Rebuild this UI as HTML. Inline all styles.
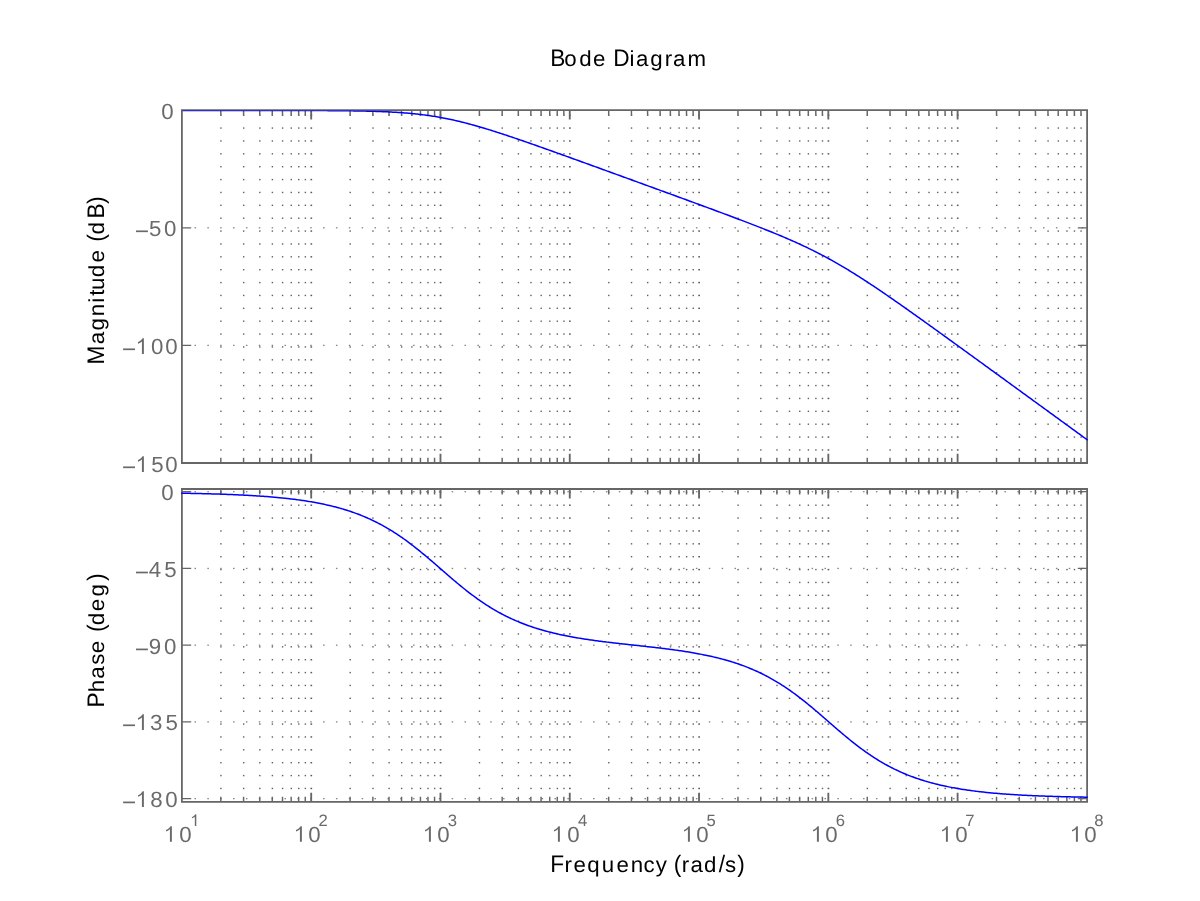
<!DOCTYPE html>
<html><head><meta charset="utf-8"><title>Bode Diagram</title>
<style>html,body{margin:0;padding:0;background:#fff;width:1200px;height:901px;overflow:hidden;font-family:"Liberation Sans",sans-serif}</style>
</head><body>
<svg width="1200" height="901" viewBox="0 0 1200 901" style="position:absolute;left:0;top:0;display:block"><rect x="0" y="0" width="1200" height="901" fill="#ffffff"/><defs><clipPath id="c1"><rect x="182.5" y="110.5" width="905.5" height="353"/></clipPath></defs><g fill="#606060"><rect x="220.22" y="114.50" width="1.4" height="1.4"/><rect x="220.22" y="127.37" width="1.4" height="1.4"/><rect x="220.22" y="140.25" width="1.4" height="1.4"/><rect x="220.22" y="153.12" width="1.4" height="1.4"/><rect x="220.22" y="166.00" width="1.4" height="1.4"/><rect x="220.22" y="178.88" width="1.4" height="1.4"/><rect x="220.22" y="191.75" width="1.4" height="1.4"/><rect x="220.22" y="204.62" width="1.4" height="1.4"/><rect x="220.22" y="217.50" width="1.4" height="1.4"/><rect x="220.22" y="230.38" width="1.4" height="1.4"/><rect x="220.22" y="243.25" width="1.4" height="1.4"/><rect x="220.22" y="256.12" width="1.4" height="1.4"/><rect x="220.22" y="269.00" width="1.4" height="1.4"/><rect x="220.22" y="281.88" width="1.4" height="1.4"/><rect x="220.22" y="294.75" width="1.4" height="1.4"/><rect x="220.22" y="307.62" width="1.4" height="1.4"/><rect x="220.22" y="320.50" width="1.4" height="1.4"/><rect x="220.22" y="333.38" width="1.4" height="1.4"/><rect x="220.22" y="346.25" width="1.4" height="1.4"/><rect x="220.22" y="359.12" width="1.4" height="1.4"/><rect x="220.22" y="372.00" width="1.4" height="1.4"/><rect x="220.22" y="384.88" width="1.4" height="1.4"/><rect x="220.22" y="397.75" width="1.4" height="1.4"/><rect x="220.22" y="410.62" width="1.4" height="1.4"/><rect x="220.22" y="423.50" width="1.4" height="1.4"/><rect x="220.22" y="436.38" width="1.4" height="1.4"/><rect x="220.22" y="449.25" width="1.4" height="1.4"/><rect x="242.98" y="114.50" width="1.4" height="1.4"/><rect x="242.98" y="127.37" width="1.4" height="1.4"/><rect x="242.98" y="140.25" width="1.4" height="1.4"/><rect x="242.98" y="153.12" width="1.4" height="1.4"/><rect x="242.98" y="166.00" width="1.4" height="1.4"/><rect x="242.98" y="178.88" width="1.4" height="1.4"/><rect x="242.98" y="191.75" width="1.4" height="1.4"/><rect x="242.98" y="204.62" width="1.4" height="1.4"/><rect x="242.98" y="217.50" width="1.4" height="1.4"/><rect x="242.98" y="230.38" width="1.4" height="1.4"/><rect x="242.98" y="243.25" width="1.4" height="1.4"/><rect x="242.98" y="256.12" width="1.4" height="1.4"/><rect x="242.98" y="269.00" width="1.4" height="1.4"/><rect x="242.98" y="281.88" width="1.4" height="1.4"/><rect x="242.98" y="294.75" width="1.4" height="1.4"/><rect x="242.98" y="307.62" width="1.4" height="1.4"/><rect x="242.98" y="320.50" width="1.4" height="1.4"/><rect x="242.98" y="333.38" width="1.4" height="1.4"/><rect x="242.98" y="346.25" width="1.4" height="1.4"/><rect x="242.98" y="359.12" width="1.4" height="1.4"/><rect x="242.98" y="372.00" width="1.4" height="1.4"/><rect x="242.98" y="384.88" width="1.4" height="1.4"/><rect x="242.98" y="397.75" width="1.4" height="1.4"/><rect x="242.98" y="410.62" width="1.4" height="1.4"/><rect x="242.98" y="423.50" width="1.4" height="1.4"/><rect x="242.98" y="436.38" width="1.4" height="1.4"/><rect x="242.98" y="449.25" width="1.4" height="1.4"/><rect x="259.14" y="114.50" width="1.4" height="1.4"/><rect x="259.14" y="127.37" width="1.4" height="1.4"/><rect x="259.14" y="140.25" width="1.4" height="1.4"/><rect x="259.14" y="153.12" width="1.4" height="1.4"/><rect x="259.14" y="166.00" width="1.4" height="1.4"/><rect x="259.14" y="178.88" width="1.4" height="1.4"/><rect x="259.14" y="191.75" width="1.4" height="1.4"/><rect x="259.14" y="204.62" width="1.4" height="1.4"/><rect x="259.14" y="217.50" width="1.4" height="1.4"/><rect x="259.14" y="230.38" width="1.4" height="1.4"/><rect x="259.14" y="243.25" width="1.4" height="1.4"/><rect x="259.14" y="256.12" width="1.4" height="1.4"/><rect x="259.14" y="269.00" width="1.4" height="1.4"/><rect x="259.14" y="281.88" width="1.4" height="1.4"/><rect x="259.14" y="294.75" width="1.4" height="1.4"/><rect x="259.14" y="307.62" width="1.4" height="1.4"/><rect x="259.14" y="320.50" width="1.4" height="1.4"/><rect x="259.14" y="333.38" width="1.4" height="1.4"/><rect x="259.14" y="346.25" width="1.4" height="1.4"/><rect x="259.14" y="359.12" width="1.4" height="1.4"/><rect x="259.14" y="372.00" width="1.4" height="1.4"/><rect x="259.14" y="384.88" width="1.4" height="1.4"/><rect x="259.14" y="397.75" width="1.4" height="1.4"/><rect x="259.14" y="410.62" width="1.4" height="1.4"/><rect x="259.14" y="423.50" width="1.4" height="1.4"/><rect x="259.14" y="436.38" width="1.4" height="1.4"/><rect x="259.14" y="449.25" width="1.4" height="1.4"/><rect x="271.67" y="114.50" width="1.4" height="1.4"/><rect x="271.67" y="127.37" width="1.4" height="1.4"/><rect x="271.67" y="140.25" width="1.4" height="1.4"/><rect x="271.67" y="153.12" width="1.4" height="1.4"/><rect x="271.67" y="166.00" width="1.4" height="1.4"/><rect x="271.67" y="178.88" width="1.4" height="1.4"/><rect x="271.67" y="191.75" width="1.4" height="1.4"/><rect x="271.67" y="204.62" width="1.4" height="1.4"/><rect x="271.67" y="217.50" width="1.4" height="1.4"/><rect x="271.67" y="230.38" width="1.4" height="1.4"/><rect x="271.67" y="243.25" width="1.4" height="1.4"/><rect x="271.67" y="256.12" width="1.4" height="1.4"/><rect x="271.67" y="269.00" width="1.4" height="1.4"/><rect x="271.67" y="281.88" width="1.4" height="1.4"/><rect x="271.67" y="294.75" width="1.4" height="1.4"/><rect x="271.67" y="307.62" width="1.4" height="1.4"/><rect x="271.67" y="320.50" width="1.4" height="1.4"/><rect x="271.67" y="333.38" width="1.4" height="1.4"/><rect x="271.67" y="346.25" width="1.4" height="1.4"/><rect x="271.67" y="359.12" width="1.4" height="1.4"/><rect x="271.67" y="372.00" width="1.4" height="1.4"/><rect x="271.67" y="384.88" width="1.4" height="1.4"/><rect x="271.67" y="397.75" width="1.4" height="1.4"/><rect x="271.67" y="410.62" width="1.4" height="1.4"/><rect x="271.67" y="423.50" width="1.4" height="1.4"/><rect x="271.67" y="436.38" width="1.4" height="1.4"/><rect x="271.67" y="449.25" width="1.4" height="1.4"/><rect x="281.90" y="114.50" width="1.4" height="1.4"/><rect x="281.90" y="127.37" width="1.4" height="1.4"/><rect x="281.90" y="140.25" width="1.4" height="1.4"/><rect x="281.90" y="153.12" width="1.4" height="1.4"/><rect x="281.90" y="166.00" width="1.4" height="1.4"/><rect x="281.90" y="178.88" width="1.4" height="1.4"/><rect x="281.90" y="191.75" width="1.4" height="1.4"/><rect x="281.90" y="204.62" width="1.4" height="1.4"/><rect x="281.90" y="217.50" width="1.4" height="1.4"/><rect x="281.90" y="230.38" width="1.4" height="1.4"/><rect x="281.90" y="243.25" width="1.4" height="1.4"/><rect x="281.90" y="256.12" width="1.4" height="1.4"/><rect x="281.90" y="269.00" width="1.4" height="1.4"/><rect x="281.90" y="281.88" width="1.4" height="1.4"/><rect x="281.90" y="294.75" width="1.4" height="1.4"/><rect x="281.90" y="307.62" width="1.4" height="1.4"/><rect x="281.90" y="320.50" width="1.4" height="1.4"/><rect x="281.90" y="333.38" width="1.4" height="1.4"/><rect x="281.90" y="346.25" width="1.4" height="1.4"/><rect x="281.90" y="359.12" width="1.4" height="1.4"/><rect x="281.90" y="372.00" width="1.4" height="1.4"/><rect x="281.90" y="384.88" width="1.4" height="1.4"/><rect x="281.90" y="397.75" width="1.4" height="1.4"/><rect x="281.90" y="410.62" width="1.4" height="1.4"/><rect x="281.90" y="423.50" width="1.4" height="1.4"/><rect x="281.90" y="436.38" width="1.4" height="1.4"/><rect x="281.90" y="449.25" width="1.4" height="1.4"/><rect x="290.56" y="114.50" width="1.4" height="1.4"/><rect x="290.56" y="127.37" width="1.4" height="1.4"/><rect x="290.56" y="140.25" width="1.4" height="1.4"/><rect x="290.56" y="153.12" width="1.4" height="1.4"/><rect x="290.56" y="166.00" width="1.4" height="1.4"/><rect x="290.56" y="178.88" width="1.4" height="1.4"/><rect x="290.56" y="191.75" width="1.4" height="1.4"/><rect x="290.56" y="204.62" width="1.4" height="1.4"/><rect x="290.56" y="217.50" width="1.4" height="1.4"/><rect x="290.56" y="230.38" width="1.4" height="1.4"/><rect x="290.56" y="243.25" width="1.4" height="1.4"/><rect x="290.56" y="256.12" width="1.4" height="1.4"/><rect x="290.56" y="269.00" width="1.4" height="1.4"/><rect x="290.56" y="281.88" width="1.4" height="1.4"/><rect x="290.56" y="294.75" width="1.4" height="1.4"/><rect x="290.56" y="307.62" width="1.4" height="1.4"/><rect x="290.56" y="320.50" width="1.4" height="1.4"/><rect x="290.56" y="333.38" width="1.4" height="1.4"/><rect x="290.56" y="346.25" width="1.4" height="1.4"/><rect x="290.56" y="359.12" width="1.4" height="1.4"/><rect x="290.56" y="372.00" width="1.4" height="1.4"/><rect x="290.56" y="384.88" width="1.4" height="1.4"/><rect x="290.56" y="397.75" width="1.4" height="1.4"/><rect x="290.56" y="410.62" width="1.4" height="1.4"/><rect x="290.56" y="423.50" width="1.4" height="1.4"/><rect x="290.56" y="436.38" width="1.4" height="1.4"/><rect x="290.56" y="449.25" width="1.4" height="1.4"/><rect x="298.06" y="114.50" width="1.4" height="1.4"/><rect x="298.06" y="127.37" width="1.4" height="1.4"/><rect x="298.06" y="140.25" width="1.4" height="1.4"/><rect x="298.06" y="153.12" width="1.4" height="1.4"/><rect x="298.06" y="166.00" width="1.4" height="1.4"/><rect x="298.06" y="178.88" width="1.4" height="1.4"/><rect x="298.06" y="191.75" width="1.4" height="1.4"/><rect x="298.06" y="204.62" width="1.4" height="1.4"/><rect x="298.06" y="217.50" width="1.4" height="1.4"/><rect x="298.06" y="230.38" width="1.4" height="1.4"/><rect x="298.06" y="243.25" width="1.4" height="1.4"/><rect x="298.06" y="256.12" width="1.4" height="1.4"/><rect x="298.06" y="269.00" width="1.4" height="1.4"/><rect x="298.06" y="281.88" width="1.4" height="1.4"/><rect x="298.06" y="294.75" width="1.4" height="1.4"/><rect x="298.06" y="307.62" width="1.4" height="1.4"/><rect x="298.06" y="320.50" width="1.4" height="1.4"/><rect x="298.06" y="333.38" width="1.4" height="1.4"/><rect x="298.06" y="346.25" width="1.4" height="1.4"/><rect x="298.06" y="359.12" width="1.4" height="1.4"/><rect x="298.06" y="372.00" width="1.4" height="1.4"/><rect x="298.06" y="384.88" width="1.4" height="1.4"/><rect x="298.06" y="397.75" width="1.4" height="1.4"/><rect x="298.06" y="410.62" width="1.4" height="1.4"/><rect x="298.06" y="423.50" width="1.4" height="1.4"/><rect x="298.06" y="436.38" width="1.4" height="1.4"/><rect x="298.06" y="449.25" width="1.4" height="1.4"/><rect x="304.67" y="114.50" width="1.4" height="1.4"/><rect x="304.67" y="127.37" width="1.4" height="1.4"/><rect x="304.67" y="140.25" width="1.4" height="1.4"/><rect x="304.67" y="153.12" width="1.4" height="1.4"/><rect x="304.67" y="166.00" width="1.4" height="1.4"/><rect x="304.67" y="178.88" width="1.4" height="1.4"/><rect x="304.67" y="191.75" width="1.4" height="1.4"/><rect x="304.67" y="204.62" width="1.4" height="1.4"/><rect x="304.67" y="217.50" width="1.4" height="1.4"/><rect x="304.67" y="230.38" width="1.4" height="1.4"/><rect x="304.67" y="243.25" width="1.4" height="1.4"/><rect x="304.67" y="256.12" width="1.4" height="1.4"/><rect x="304.67" y="269.00" width="1.4" height="1.4"/><rect x="304.67" y="281.88" width="1.4" height="1.4"/><rect x="304.67" y="294.75" width="1.4" height="1.4"/><rect x="304.67" y="307.62" width="1.4" height="1.4"/><rect x="304.67" y="320.50" width="1.4" height="1.4"/><rect x="304.67" y="333.38" width="1.4" height="1.4"/><rect x="304.67" y="346.25" width="1.4" height="1.4"/><rect x="304.67" y="359.12" width="1.4" height="1.4"/><rect x="304.67" y="372.00" width="1.4" height="1.4"/><rect x="304.67" y="384.88" width="1.4" height="1.4"/><rect x="304.67" y="397.75" width="1.4" height="1.4"/><rect x="304.67" y="410.62" width="1.4" height="1.4"/><rect x="304.67" y="423.50" width="1.4" height="1.4"/><rect x="304.67" y="436.38" width="1.4" height="1.4"/><rect x="304.67" y="449.25" width="1.4" height="1.4"/><rect x="310.44" y="114.48" width="1.7" height="1.45" fill="#5a5a5a"/><rect x="310.44" y="127.35" width="1.7" height="1.45" fill="#5a5a5a"/><rect x="310.44" y="140.23" width="1.7" height="1.45" fill="#5a5a5a"/><rect x="310.44" y="153.10" width="1.7" height="1.45" fill="#5a5a5a"/><rect x="310.44" y="165.98" width="1.7" height="1.45" fill="#5a5a5a"/><rect x="310.44" y="178.85" width="1.7" height="1.45" fill="#5a5a5a"/><rect x="310.44" y="191.73" width="1.7" height="1.45" fill="#5a5a5a"/><rect x="310.44" y="204.60" width="1.7" height="1.45" fill="#5a5a5a"/><rect x="310.44" y="217.48" width="1.7" height="1.45" fill="#5a5a5a"/><rect x="310.44" y="230.35" width="1.7" height="1.45" fill="#5a5a5a"/><rect x="310.44" y="243.23" width="1.7" height="1.45" fill="#5a5a5a"/><rect x="310.44" y="256.10" width="1.7" height="1.45" fill="#5a5a5a"/><rect x="310.44" y="268.98" width="1.7" height="1.45" fill="#5a5a5a"/><rect x="310.44" y="281.85" width="1.7" height="1.45" fill="#5a5a5a"/><rect x="310.44" y="294.73" width="1.7" height="1.45" fill="#5a5a5a"/><rect x="310.44" y="307.60" width="1.7" height="1.45" fill="#5a5a5a"/><rect x="310.44" y="320.48" width="1.7" height="1.45" fill="#5a5a5a"/><rect x="310.44" y="333.35" width="1.7" height="1.45" fill="#5a5a5a"/><rect x="310.44" y="346.23" width="1.7" height="1.45" fill="#5a5a5a"/><rect x="310.44" y="359.10" width="1.7" height="1.45" fill="#5a5a5a"/><rect x="310.44" y="371.98" width="1.7" height="1.45" fill="#5a5a5a"/><rect x="310.44" y="384.85" width="1.7" height="1.45" fill="#5a5a5a"/><rect x="310.44" y="397.73" width="1.7" height="1.45" fill="#5a5a5a"/><rect x="310.44" y="410.60" width="1.7" height="1.45" fill="#5a5a5a"/><rect x="310.44" y="423.48" width="1.7" height="1.45" fill="#5a5a5a"/><rect x="310.44" y="436.35" width="1.7" height="1.45" fill="#5a5a5a"/><rect x="310.44" y="449.23" width="1.7" height="1.45" fill="#5a5a5a"/><rect x="349.50" y="114.50" width="1.4" height="1.4"/><rect x="349.50" y="127.37" width="1.4" height="1.4"/><rect x="349.50" y="140.25" width="1.4" height="1.4"/><rect x="349.50" y="153.12" width="1.4" height="1.4"/><rect x="349.50" y="166.00" width="1.4" height="1.4"/><rect x="349.50" y="178.88" width="1.4" height="1.4"/><rect x="349.50" y="191.75" width="1.4" height="1.4"/><rect x="349.50" y="204.62" width="1.4" height="1.4"/><rect x="349.50" y="217.50" width="1.4" height="1.4"/><rect x="349.50" y="230.38" width="1.4" height="1.4"/><rect x="349.50" y="243.25" width="1.4" height="1.4"/><rect x="349.50" y="256.12" width="1.4" height="1.4"/><rect x="349.50" y="269.00" width="1.4" height="1.4"/><rect x="349.50" y="281.88" width="1.4" height="1.4"/><rect x="349.50" y="294.75" width="1.4" height="1.4"/><rect x="349.50" y="307.62" width="1.4" height="1.4"/><rect x="349.50" y="320.50" width="1.4" height="1.4"/><rect x="349.50" y="333.38" width="1.4" height="1.4"/><rect x="349.50" y="346.25" width="1.4" height="1.4"/><rect x="349.50" y="359.12" width="1.4" height="1.4"/><rect x="349.50" y="372.00" width="1.4" height="1.4"/><rect x="349.50" y="384.88" width="1.4" height="1.4"/><rect x="349.50" y="397.75" width="1.4" height="1.4"/><rect x="349.50" y="410.62" width="1.4" height="1.4"/><rect x="349.50" y="423.50" width="1.4" height="1.4"/><rect x="349.50" y="436.38" width="1.4" height="1.4"/><rect x="349.50" y="449.25" width="1.4" height="1.4"/><rect x="372.27" y="114.50" width="1.4" height="1.4"/><rect x="372.27" y="127.37" width="1.4" height="1.4"/><rect x="372.27" y="140.25" width="1.4" height="1.4"/><rect x="372.27" y="153.12" width="1.4" height="1.4"/><rect x="372.27" y="166.00" width="1.4" height="1.4"/><rect x="372.27" y="178.88" width="1.4" height="1.4"/><rect x="372.27" y="191.75" width="1.4" height="1.4"/><rect x="372.27" y="204.62" width="1.4" height="1.4"/><rect x="372.27" y="217.50" width="1.4" height="1.4"/><rect x="372.27" y="230.38" width="1.4" height="1.4"/><rect x="372.27" y="243.25" width="1.4" height="1.4"/><rect x="372.27" y="256.12" width="1.4" height="1.4"/><rect x="372.27" y="269.00" width="1.4" height="1.4"/><rect x="372.27" y="281.88" width="1.4" height="1.4"/><rect x="372.27" y="294.75" width="1.4" height="1.4"/><rect x="372.27" y="307.62" width="1.4" height="1.4"/><rect x="372.27" y="320.50" width="1.4" height="1.4"/><rect x="372.27" y="333.38" width="1.4" height="1.4"/><rect x="372.27" y="346.25" width="1.4" height="1.4"/><rect x="372.27" y="359.12" width="1.4" height="1.4"/><rect x="372.27" y="372.00" width="1.4" height="1.4"/><rect x="372.27" y="384.88" width="1.4" height="1.4"/><rect x="372.27" y="397.75" width="1.4" height="1.4"/><rect x="372.27" y="410.62" width="1.4" height="1.4"/><rect x="372.27" y="423.50" width="1.4" height="1.4"/><rect x="372.27" y="436.38" width="1.4" height="1.4"/><rect x="372.27" y="449.25" width="1.4" height="1.4"/><rect x="388.42" y="114.50" width="1.4" height="1.4"/><rect x="388.42" y="127.37" width="1.4" height="1.4"/><rect x="388.42" y="140.25" width="1.4" height="1.4"/><rect x="388.42" y="153.12" width="1.4" height="1.4"/><rect x="388.42" y="166.00" width="1.4" height="1.4"/><rect x="388.42" y="178.88" width="1.4" height="1.4"/><rect x="388.42" y="191.75" width="1.4" height="1.4"/><rect x="388.42" y="204.62" width="1.4" height="1.4"/><rect x="388.42" y="217.50" width="1.4" height="1.4"/><rect x="388.42" y="230.38" width="1.4" height="1.4"/><rect x="388.42" y="243.25" width="1.4" height="1.4"/><rect x="388.42" y="256.12" width="1.4" height="1.4"/><rect x="388.42" y="269.00" width="1.4" height="1.4"/><rect x="388.42" y="281.88" width="1.4" height="1.4"/><rect x="388.42" y="294.75" width="1.4" height="1.4"/><rect x="388.42" y="307.62" width="1.4" height="1.4"/><rect x="388.42" y="320.50" width="1.4" height="1.4"/><rect x="388.42" y="333.38" width="1.4" height="1.4"/><rect x="388.42" y="346.25" width="1.4" height="1.4"/><rect x="388.42" y="359.12" width="1.4" height="1.4"/><rect x="388.42" y="372.00" width="1.4" height="1.4"/><rect x="388.42" y="384.88" width="1.4" height="1.4"/><rect x="388.42" y="397.75" width="1.4" height="1.4"/><rect x="388.42" y="410.62" width="1.4" height="1.4"/><rect x="388.42" y="423.50" width="1.4" height="1.4"/><rect x="388.42" y="436.38" width="1.4" height="1.4"/><rect x="388.42" y="449.25" width="1.4" height="1.4"/><rect x="400.95" y="114.50" width="1.4" height="1.4"/><rect x="400.95" y="127.37" width="1.4" height="1.4"/><rect x="400.95" y="140.25" width="1.4" height="1.4"/><rect x="400.95" y="153.12" width="1.4" height="1.4"/><rect x="400.95" y="166.00" width="1.4" height="1.4"/><rect x="400.95" y="178.88" width="1.4" height="1.4"/><rect x="400.95" y="191.75" width="1.4" height="1.4"/><rect x="400.95" y="204.62" width="1.4" height="1.4"/><rect x="400.95" y="217.50" width="1.4" height="1.4"/><rect x="400.95" y="230.38" width="1.4" height="1.4"/><rect x="400.95" y="243.25" width="1.4" height="1.4"/><rect x="400.95" y="256.12" width="1.4" height="1.4"/><rect x="400.95" y="269.00" width="1.4" height="1.4"/><rect x="400.95" y="281.88" width="1.4" height="1.4"/><rect x="400.95" y="294.75" width="1.4" height="1.4"/><rect x="400.95" y="307.62" width="1.4" height="1.4"/><rect x="400.95" y="320.50" width="1.4" height="1.4"/><rect x="400.95" y="333.38" width="1.4" height="1.4"/><rect x="400.95" y="346.25" width="1.4" height="1.4"/><rect x="400.95" y="359.12" width="1.4" height="1.4"/><rect x="400.95" y="372.00" width="1.4" height="1.4"/><rect x="400.95" y="384.88" width="1.4" height="1.4"/><rect x="400.95" y="397.75" width="1.4" height="1.4"/><rect x="400.95" y="410.62" width="1.4" height="1.4"/><rect x="400.95" y="423.50" width="1.4" height="1.4"/><rect x="400.95" y="436.38" width="1.4" height="1.4"/><rect x="400.95" y="449.25" width="1.4" height="1.4"/><rect x="411.19" y="114.50" width="1.4" height="1.4"/><rect x="411.19" y="127.37" width="1.4" height="1.4"/><rect x="411.19" y="140.25" width="1.4" height="1.4"/><rect x="411.19" y="153.12" width="1.4" height="1.4"/><rect x="411.19" y="166.00" width="1.4" height="1.4"/><rect x="411.19" y="178.88" width="1.4" height="1.4"/><rect x="411.19" y="191.75" width="1.4" height="1.4"/><rect x="411.19" y="204.62" width="1.4" height="1.4"/><rect x="411.19" y="217.50" width="1.4" height="1.4"/><rect x="411.19" y="230.38" width="1.4" height="1.4"/><rect x="411.19" y="243.25" width="1.4" height="1.4"/><rect x="411.19" y="256.12" width="1.4" height="1.4"/><rect x="411.19" y="269.00" width="1.4" height="1.4"/><rect x="411.19" y="281.88" width="1.4" height="1.4"/><rect x="411.19" y="294.75" width="1.4" height="1.4"/><rect x="411.19" y="307.62" width="1.4" height="1.4"/><rect x="411.19" y="320.50" width="1.4" height="1.4"/><rect x="411.19" y="333.38" width="1.4" height="1.4"/><rect x="411.19" y="346.25" width="1.4" height="1.4"/><rect x="411.19" y="359.12" width="1.4" height="1.4"/><rect x="411.19" y="372.00" width="1.4" height="1.4"/><rect x="411.19" y="384.88" width="1.4" height="1.4"/><rect x="411.19" y="397.75" width="1.4" height="1.4"/><rect x="411.19" y="410.62" width="1.4" height="1.4"/><rect x="411.19" y="423.50" width="1.4" height="1.4"/><rect x="411.19" y="436.38" width="1.4" height="1.4"/><rect x="411.19" y="449.25" width="1.4" height="1.4"/><rect x="419.84" y="114.50" width="1.4" height="1.4"/><rect x="419.84" y="127.37" width="1.4" height="1.4"/><rect x="419.84" y="140.25" width="1.4" height="1.4"/><rect x="419.84" y="153.12" width="1.4" height="1.4"/><rect x="419.84" y="166.00" width="1.4" height="1.4"/><rect x="419.84" y="178.88" width="1.4" height="1.4"/><rect x="419.84" y="191.75" width="1.4" height="1.4"/><rect x="419.84" y="204.62" width="1.4" height="1.4"/><rect x="419.84" y="217.50" width="1.4" height="1.4"/><rect x="419.84" y="230.38" width="1.4" height="1.4"/><rect x="419.84" y="243.25" width="1.4" height="1.4"/><rect x="419.84" y="256.12" width="1.4" height="1.4"/><rect x="419.84" y="269.00" width="1.4" height="1.4"/><rect x="419.84" y="281.88" width="1.4" height="1.4"/><rect x="419.84" y="294.75" width="1.4" height="1.4"/><rect x="419.84" y="307.62" width="1.4" height="1.4"/><rect x="419.84" y="320.50" width="1.4" height="1.4"/><rect x="419.84" y="333.38" width="1.4" height="1.4"/><rect x="419.84" y="346.25" width="1.4" height="1.4"/><rect x="419.84" y="359.12" width="1.4" height="1.4"/><rect x="419.84" y="372.00" width="1.4" height="1.4"/><rect x="419.84" y="384.88" width="1.4" height="1.4"/><rect x="419.84" y="397.75" width="1.4" height="1.4"/><rect x="419.84" y="410.62" width="1.4" height="1.4"/><rect x="419.84" y="423.50" width="1.4" height="1.4"/><rect x="419.84" y="436.38" width="1.4" height="1.4"/><rect x="419.84" y="449.25" width="1.4" height="1.4"/><rect x="427.34" y="114.50" width="1.4" height="1.4"/><rect x="427.34" y="127.37" width="1.4" height="1.4"/><rect x="427.34" y="140.25" width="1.4" height="1.4"/><rect x="427.34" y="153.12" width="1.4" height="1.4"/><rect x="427.34" y="166.00" width="1.4" height="1.4"/><rect x="427.34" y="178.88" width="1.4" height="1.4"/><rect x="427.34" y="191.75" width="1.4" height="1.4"/><rect x="427.34" y="204.62" width="1.4" height="1.4"/><rect x="427.34" y="217.50" width="1.4" height="1.4"/><rect x="427.34" y="230.38" width="1.4" height="1.4"/><rect x="427.34" y="243.25" width="1.4" height="1.4"/><rect x="427.34" y="256.12" width="1.4" height="1.4"/><rect x="427.34" y="269.00" width="1.4" height="1.4"/><rect x="427.34" y="281.88" width="1.4" height="1.4"/><rect x="427.34" y="294.75" width="1.4" height="1.4"/><rect x="427.34" y="307.62" width="1.4" height="1.4"/><rect x="427.34" y="320.50" width="1.4" height="1.4"/><rect x="427.34" y="333.38" width="1.4" height="1.4"/><rect x="427.34" y="346.25" width="1.4" height="1.4"/><rect x="427.34" y="359.12" width="1.4" height="1.4"/><rect x="427.34" y="372.00" width="1.4" height="1.4"/><rect x="427.34" y="384.88" width="1.4" height="1.4"/><rect x="427.34" y="397.75" width="1.4" height="1.4"/><rect x="427.34" y="410.62" width="1.4" height="1.4"/><rect x="427.34" y="423.50" width="1.4" height="1.4"/><rect x="427.34" y="436.38" width="1.4" height="1.4"/><rect x="427.34" y="449.25" width="1.4" height="1.4"/><rect x="433.96" y="114.50" width="1.4" height="1.4"/><rect x="433.96" y="127.37" width="1.4" height="1.4"/><rect x="433.96" y="140.25" width="1.4" height="1.4"/><rect x="433.96" y="153.12" width="1.4" height="1.4"/><rect x="433.96" y="166.00" width="1.4" height="1.4"/><rect x="433.96" y="178.88" width="1.4" height="1.4"/><rect x="433.96" y="191.75" width="1.4" height="1.4"/><rect x="433.96" y="204.62" width="1.4" height="1.4"/><rect x="433.96" y="217.50" width="1.4" height="1.4"/><rect x="433.96" y="230.38" width="1.4" height="1.4"/><rect x="433.96" y="243.25" width="1.4" height="1.4"/><rect x="433.96" y="256.12" width="1.4" height="1.4"/><rect x="433.96" y="269.00" width="1.4" height="1.4"/><rect x="433.96" y="281.88" width="1.4" height="1.4"/><rect x="433.96" y="294.75" width="1.4" height="1.4"/><rect x="433.96" y="307.62" width="1.4" height="1.4"/><rect x="433.96" y="320.50" width="1.4" height="1.4"/><rect x="433.96" y="333.38" width="1.4" height="1.4"/><rect x="433.96" y="346.25" width="1.4" height="1.4"/><rect x="433.96" y="359.12" width="1.4" height="1.4"/><rect x="433.96" y="372.00" width="1.4" height="1.4"/><rect x="433.96" y="384.88" width="1.4" height="1.4"/><rect x="433.96" y="397.75" width="1.4" height="1.4"/><rect x="433.96" y="410.62" width="1.4" height="1.4"/><rect x="433.96" y="423.50" width="1.4" height="1.4"/><rect x="433.96" y="436.38" width="1.4" height="1.4"/><rect x="433.96" y="449.25" width="1.4" height="1.4"/><rect x="439.72" y="114.48" width="1.7" height="1.45" fill="#5a5a5a"/><rect x="439.72" y="127.35" width="1.7" height="1.45" fill="#5a5a5a"/><rect x="439.72" y="140.23" width="1.7" height="1.45" fill="#5a5a5a"/><rect x="439.72" y="153.10" width="1.7" height="1.45" fill="#5a5a5a"/><rect x="439.72" y="165.98" width="1.7" height="1.45" fill="#5a5a5a"/><rect x="439.72" y="178.85" width="1.7" height="1.45" fill="#5a5a5a"/><rect x="439.72" y="191.73" width="1.7" height="1.45" fill="#5a5a5a"/><rect x="439.72" y="204.60" width="1.7" height="1.45" fill="#5a5a5a"/><rect x="439.72" y="217.48" width="1.7" height="1.45" fill="#5a5a5a"/><rect x="439.72" y="230.35" width="1.7" height="1.45" fill="#5a5a5a"/><rect x="439.72" y="243.23" width="1.7" height="1.45" fill="#5a5a5a"/><rect x="439.72" y="256.10" width="1.7" height="1.45" fill="#5a5a5a"/><rect x="439.72" y="268.98" width="1.7" height="1.45" fill="#5a5a5a"/><rect x="439.72" y="281.85" width="1.7" height="1.45" fill="#5a5a5a"/><rect x="439.72" y="294.73" width="1.7" height="1.45" fill="#5a5a5a"/><rect x="439.72" y="307.60" width="1.7" height="1.45" fill="#5a5a5a"/><rect x="439.72" y="320.48" width="1.7" height="1.45" fill="#5a5a5a"/><rect x="439.72" y="333.35" width="1.7" height="1.45" fill="#5a5a5a"/><rect x="439.72" y="346.23" width="1.7" height="1.45" fill="#5a5a5a"/><rect x="439.72" y="359.10" width="1.7" height="1.45" fill="#5a5a5a"/><rect x="439.72" y="371.98" width="1.7" height="1.45" fill="#5a5a5a"/><rect x="439.72" y="384.85" width="1.7" height="1.45" fill="#5a5a5a"/><rect x="439.72" y="397.73" width="1.7" height="1.45" fill="#5a5a5a"/><rect x="439.72" y="410.60" width="1.7" height="1.45" fill="#5a5a5a"/><rect x="439.72" y="423.48" width="1.7" height="1.45" fill="#5a5a5a"/><rect x="439.72" y="436.35" width="1.7" height="1.45" fill="#5a5a5a"/><rect x="439.72" y="449.23" width="1.7" height="1.45" fill="#5a5a5a"/><rect x="478.79" y="114.50" width="1.4" height="1.4"/><rect x="478.79" y="127.37" width="1.4" height="1.4"/><rect x="478.79" y="140.25" width="1.4" height="1.4"/><rect x="478.79" y="153.12" width="1.4" height="1.4"/><rect x="478.79" y="166.00" width="1.4" height="1.4"/><rect x="478.79" y="178.88" width="1.4" height="1.4"/><rect x="478.79" y="191.75" width="1.4" height="1.4"/><rect x="478.79" y="204.62" width="1.4" height="1.4"/><rect x="478.79" y="217.50" width="1.4" height="1.4"/><rect x="478.79" y="230.38" width="1.4" height="1.4"/><rect x="478.79" y="243.25" width="1.4" height="1.4"/><rect x="478.79" y="256.12" width="1.4" height="1.4"/><rect x="478.79" y="269.00" width="1.4" height="1.4"/><rect x="478.79" y="281.88" width="1.4" height="1.4"/><rect x="478.79" y="294.75" width="1.4" height="1.4"/><rect x="478.79" y="307.62" width="1.4" height="1.4"/><rect x="478.79" y="320.50" width="1.4" height="1.4"/><rect x="478.79" y="333.38" width="1.4" height="1.4"/><rect x="478.79" y="346.25" width="1.4" height="1.4"/><rect x="478.79" y="359.12" width="1.4" height="1.4"/><rect x="478.79" y="372.00" width="1.4" height="1.4"/><rect x="478.79" y="384.88" width="1.4" height="1.4"/><rect x="478.79" y="397.75" width="1.4" height="1.4"/><rect x="478.79" y="410.62" width="1.4" height="1.4"/><rect x="478.79" y="423.50" width="1.4" height="1.4"/><rect x="478.79" y="436.38" width="1.4" height="1.4"/><rect x="478.79" y="449.25" width="1.4" height="1.4"/><rect x="501.56" y="114.50" width="1.4" height="1.4"/><rect x="501.56" y="127.37" width="1.4" height="1.4"/><rect x="501.56" y="140.25" width="1.4" height="1.4"/><rect x="501.56" y="153.12" width="1.4" height="1.4"/><rect x="501.56" y="166.00" width="1.4" height="1.4"/><rect x="501.56" y="178.88" width="1.4" height="1.4"/><rect x="501.56" y="191.75" width="1.4" height="1.4"/><rect x="501.56" y="204.62" width="1.4" height="1.4"/><rect x="501.56" y="217.50" width="1.4" height="1.4"/><rect x="501.56" y="230.38" width="1.4" height="1.4"/><rect x="501.56" y="243.25" width="1.4" height="1.4"/><rect x="501.56" y="256.12" width="1.4" height="1.4"/><rect x="501.56" y="269.00" width="1.4" height="1.4"/><rect x="501.56" y="281.88" width="1.4" height="1.4"/><rect x="501.56" y="294.75" width="1.4" height="1.4"/><rect x="501.56" y="307.62" width="1.4" height="1.4"/><rect x="501.56" y="320.50" width="1.4" height="1.4"/><rect x="501.56" y="333.38" width="1.4" height="1.4"/><rect x="501.56" y="346.25" width="1.4" height="1.4"/><rect x="501.56" y="359.12" width="1.4" height="1.4"/><rect x="501.56" y="372.00" width="1.4" height="1.4"/><rect x="501.56" y="384.88" width="1.4" height="1.4"/><rect x="501.56" y="397.75" width="1.4" height="1.4"/><rect x="501.56" y="410.62" width="1.4" height="1.4"/><rect x="501.56" y="423.50" width="1.4" height="1.4"/><rect x="501.56" y="436.38" width="1.4" height="1.4"/><rect x="501.56" y="449.25" width="1.4" height="1.4"/><rect x="517.71" y="114.50" width="1.4" height="1.4"/><rect x="517.71" y="127.37" width="1.4" height="1.4"/><rect x="517.71" y="140.25" width="1.4" height="1.4"/><rect x="517.71" y="153.12" width="1.4" height="1.4"/><rect x="517.71" y="166.00" width="1.4" height="1.4"/><rect x="517.71" y="178.88" width="1.4" height="1.4"/><rect x="517.71" y="191.75" width="1.4" height="1.4"/><rect x="517.71" y="204.62" width="1.4" height="1.4"/><rect x="517.71" y="217.50" width="1.4" height="1.4"/><rect x="517.71" y="230.38" width="1.4" height="1.4"/><rect x="517.71" y="243.25" width="1.4" height="1.4"/><rect x="517.71" y="256.12" width="1.4" height="1.4"/><rect x="517.71" y="269.00" width="1.4" height="1.4"/><rect x="517.71" y="281.88" width="1.4" height="1.4"/><rect x="517.71" y="294.75" width="1.4" height="1.4"/><rect x="517.71" y="307.62" width="1.4" height="1.4"/><rect x="517.71" y="320.50" width="1.4" height="1.4"/><rect x="517.71" y="333.38" width="1.4" height="1.4"/><rect x="517.71" y="346.25" width="1.4" height="1.4"/><rect x="517.71" y="359.12" width="1.4" height="1.4"/><rect x="517.71" y="372.00" width="1.4" height="1.4"/><rect x="517.71" y="384.88" width="1.4" height="1.4"/><rect x="517.71" y="397.75" width="1.4" height="1.4"/><rect x="517.71" y="410.62" width="1.4" height="1.4"/><rect x="517.71" y="423.50" width="1.4" height="1.4"/><rect x="517.71" y="436.38" width="1.4" height="1.4"/><rect x="517.71" y="449.25" width="1.4" height="1.4"/><rect x="530.24" y="114.50" width="1.4" height="1.4"/><rect x="530.24" y="127.37" width="1.4" height="1.4"/><rect x="530.24" y="140.25" width="1.4" height="1.4"/><rect x="530.24" y="153.12" width="1.4" height="1.4"/><rect x="530.24" y="166.00" width="1.4" height="1.4"/><rect x="530.24" y="178.88" width="1.4" height="1.4"/><rect x="530.24" y="191.75" width="1.4" height="1.4"/><rect x="530.24" y="204.62" width="1.4" height="1.4"/><rect x="530.24" y="217.50" width="1.4" height="1.4"/><rect x="530.24" y="230.38" width="1.4" height="1.4"/><rect x="530.24" y="243.25" width="1.4" height="1.4"/><rect x="530.24" y="256.12" width="1.4" height="1.4"/><rect x="530.24" y="269.00" width="1.4" height="1.4"/><rect x="530.24" y="281.88" width="1.4" height="1.4"/><rect x="530.24" y="294.75" width="1.4" height="1.4"/><rect x="530.24" y="307.62" width="1.4" height="1.4"/><rect x="530.24" y="320.50" width="1.4" height="1.4"/><rect x="530.24" y="333.38" width="1.4" height="1.4"/><rect x="530.24" y="346.25" width="1.4" height="1.4"/><rect x="530.24" y="359.12" width="1.4" height="1.4"/><rect x="530.24" y="372.00" width="1.4" height="1.4"/><rect x="530.24" y="384.88" width="1.4" height="1.4"/><rect x="530.24" y="397.75" width="1.4" height="1.4"/><rect x="530.24" y="410.62" width="1.4" height="1.4"/><rect x="530.24" y="423.50" width="1.4" height="1.4"/><rect x="530.24" y="436.38" width="1.4" height="1.4"/><rect x="530.24" y="449.25" width="1.4" height="1.4"/><rect x="540.48" y="114.50" width="1.4" height="1.4"/><rect x="540.48" y="127.37" width="1.4" height="1.4"/><rect x="540.48" y="140.25" width="1.4" height="1.4"/><rect x="540.48" y="153.12" width="1.4" height="1.4"/><rect x="540.48" y="166.00" width="1.4" height="1.4"/><rect x="540.48" y="178.88" width="1.4" height="1.4"/><rect x="540.48" y="191.75" width="1.4" height="1.4"/><rect x="540.48" y="204.62" width="1.4" height="1.4"/><rect x="540.48" y="217.50" width="1.4" height="1.4"/><rect x="540.48" y="230.38" width="1.4" height="1.4"/><rect x="540.48" y="243.25" width="1.4" height="1.4"/><rect x="540.48" y="256.12" width="1.4" height="1.4"/><rect x="540.48" y="269.00" width="1.4" height="1.4"/><rect x="540.48" y="281.88" width="1.4" height="1.4"/><rect x="540.48" y="294.75" width="1.4" height="1.4"/><rect x="540.48" y="307.62" width="1.4" height="1.4"/><rect x="540.48" y="320.50" width="1.4" height="1.4"/><rect x="540.48" y="333.38" width="1.4" height="1.4"/><rect x="540.48" y="346.25" width="1.4" height="1.4"/><rect x="540.48" y="359.12" width="1.4" height="1.4"/><rect x="540.48" y="372.00" width="1.4" height="1.4"/><rect x="540.48" y="384.88" width="1.4" height="1.4"/><rect x="540.48" y="397.75" width="1.4" height="1.4"/><rect x="540.48" y="410.62" width="1.4" height="1.4"/><rect x="540.48" y="423.50" width="1.4" height="1.4"/><rect x="540.48" y="436.38" width="1.4" height="1.4"/><rect x="540.48" y="449.25" width="1.4" height="1.4"/><rect x="549.13" y="114.50" width="1.4" height="1.4"/><rect x="549.13" y="127.37" width="1.4" height="1.4"/><rect x="549.13" y="140.25" width="1.4" height="1.4"/><rect x="549.13" y="153.12" width="1.4" height="1.4"/><rect x="549.13" y="166.00" width="1.4" height="1.4"/><rect x="549.13" y="178.88" width="1.4" height="1.4"/><rect x="549.13" y="191.75" width="1.4" height="1.4"/><rect x="549.13" y="204.62" width="1.4" height="1.4"/><rect x="549.13" y="217.50" width="1.4" height="1.4"/><rect x="549.13" y="230.38" width="1.4" height="1.4"/><rect x="549.13" y="243.25" width="1.4" height="1.4"/><rect x="549.13" y="256.12" width="1.4" height="1.4"/><rect x="549.13" y="269.00" width="1.4" height="1.4"/><rect x="549.13" y="281.88" width="1.4" height="1.4"/><rect x="549.13" y="294.75" width="1.4" height="1.4"/><rect x="549.13" y="307.62" width="1.4" height="1.4"/><rect x="549.13" y="320.50" width="1.4" height="1.4"/><rect x="549.13" y="333.38" width="1.4" height="1.4"/><rect x="549.13" y="346.25" width="1.4" height="1.4"/><rect x="549.13" y="359.12" width="1.4" height="1.4"/><rect x="549.13" y="372.00" width="1.4" height="1.4"/><rect x="549.13" y="384.88" width="1.4" height="1.4"/><rect x="549.13" y="397.75" width="1.4" height="1.4"/><rect x="549.13" y="410.62" width="1.4" height="1.4"/><rect x="549.13" y="423.50" width="1.4" height="1.4"/><rect x="549.13" y="436.38" width="1.4" height="1.4"/><rect x="549.13" y="449.25" width="1.4" height="1.4"/><rect x="556.63" y="114.50" width="1.4" height="1.4"/><rect x="556.63" y="127.37" width="1.4" height="1.4"/><rect x="556.63" y="140.25" width="1.4" height="1.4"/><rect x="556.63" y="153.12" width="1.4" height="1.4"/><rect x="556.63" y="166.00" width="1.4" height="1.4"/><rect x="556.63" y="178.88" width="1.4" height="1.4"/><rect x="556.63" y="191.75" width="1.4" height="1.4"/><rect x="556.63" y="204.62" width="1.4" height="1.4"/><rect x="556.63" y="217.50" width="1.4" height="1.4"/><rect x="556.63" y="230.38" width="1.4" height="1.4"/><rect x="556.63" y="243.25" width="1.4" height="1.4"/><rect x="556.63" y="256.12" width="1.4" height="1.4"/><rect x="556.63" y="269.00" width="1.4" height="1.4"/><rect x="556.63" y="281.88" width="1.4" height="1.4"/><rect x="556.63" y="294.75" width="1.4" height="1.4"/><rect x="556.63" y="307.62" width="1.4" height="1.4"/><rect x="556.63" y="320.50" width="1.4" height="1.4"/><rect x="556.63" y="333.38" width="1.4" height="1.4"/><rect x="556.63" y="346.25" width="1.4" height="1.4"/><rect x="556.63" y="359.12" width="1.4" height="1.4"/><rect x="556.63" y="372.00" width="1.4" height="1.4"/><rect x="556.63" y="384.88" width="1.4" height="1.4"/><rect x="556.63" y="397.75" width="1.4" height="1.4"/><rect x="556.63" y="410.62" width="1.4" height="1.4"/><rect x="556.63" y="423.50" width="1.4" height="1.4"/><rect x="556.63" y="436.38" width="1.4" height="1.4"/><rect x="556.63" y="449.25" width="1.4" height="1.4"/><rect x="563.24" y="114.50" width="1.4" height="1.4"/><rect x="563.24" y="127.37" width="1.4" height="1.4"/><rect x="563.24" y="140.25" width="1.4" height="1.4"/><rect x="563.24" y="153.12" width="1.4" height="1.4"/><rect x="563.24" y="166.00" width="1.4" height="1.4"/><rect x="563.24" y="178.88" width="1.4" height="1.4"/><rect x="563.24" y="191.75" width="1.4" height="1.4"/><rect x="563.24" y="204.62" width="1.4" height="1.4"/><rect x="563.24" y="217.50" width="1.4" height="1.4"/><rect x="563.24" y="230.38" width="1.4" height="1.4"/><rect x="563.24" y="243.25" width="1.4" height="1.4"/><rect x="563.24" y="256.12" width="1.4" height="1.4"/><rect x="563.24" y="269.00" width="1.4" height="1.4"/><rect x="563.24" y="281.88" width="1.4" height="1.4"/><rect x="563.24" y="294.75" width="1.4" height="1.4"/><rect x="563.24" y="307.62" width="1.4" height="1.4"/><rect x="563.24" y="320.50" width="1.4" height="1.4"/><rect x="563.24" y="333.38" width="1.4" height="1.4"/><rect x="563.24" y="346.25" width="1.4" height="1.4"/><rect x="563.24" y="359.12" width="1.4" height="1.4"/><rect x="563.24" y="372.00" width="1.4" height="1.4"/><rect x="563.24" y="384.88" width="1.4" height="1.4"/><rect x="563.24" y="397.75" width="1.4" height="1.4"/><rect x="563.24" y="410.62" width="1.4" height="1.4"/><rect x="563.24" y="423.50" width="1.4" height="1.4"/><rect x="563.24" y="436.38" width="1.4" height="1.4"/><rect x="563.24" y="449.25" width="1.4" height="1.4"/><rect x="569.01" y="114.48" width="1.7" height="1.45" fill="#5a5a5a"/><rect x="569.01" y="127.35" width="1.7" height="1.45" fill="#5a5a5a"/><rect x="569.01" y="140.23" width="1.7" height="1.45" fill="#5a5a5a"/><rect x="569.01" y="153.10" width="1.7" height="1.45" fill="#5a5a5a"/><rect x="569.01" y="165.98" width="1.7" height="1.45" fill="#5a5a5a"/><rect x="569.01" y="178.85" width="1.7" height="1.45" fill="#5a5a5a"/><rect x="569.01" y="191.73" width="1.7" height="1.45" fill="#5a5a5a"/><rect x="569.01" y="204.60" width="1.7" height="1.45" fill="#5a5a5a"/><rect x="569.01" y="217.48" width="1.7" height="1.45" fill="#5a5a5a"/><rect x="569.01" y="230.35" width="1.7" height="1.45" fill="#5a5a5a"/><rect x="569.01" y="243.23" width="1.7" height="1.45" fill="#5a5a5a"/><rect x="569.01" y="256.10" width="1.7" height="1.45" fill="#5a5a5a"/><rect x="569.01" y="268.98" width="1.7" height="1.45" fill="#5a5a5a"/><rect x="569.01" y="281.85" width="1.7" height="1.45" fill="#5a5a5a"/><rect x="569.01" y="294.73" width="1.7" height="1.45" fill="#5a5a5a"/><rect x="569.01" y="307.60" width="1.7" height="1.45" fill="#5a5a5a"/><rect x="569.01" y="320.48" width="1.7" height="1.45" fill="#5a5a5a"/><rect x="569.01" y="333.35" width="1.7" height="1.45" fill="#5a5a5a"/><rect x="569.01" y="346.23" width="1.7" height="1.45" fill="#5a5a5a"/><rect x="569.01" y="359.10" width="1.7" height="1.45" fill="#5a5a5a"/><rect x="569.01" y="371.98" width="1.7" height="1.45" fill="#5a5a5a"/><rect x="569.01" y="384.85" width="1.7" height="1.45" fill="#5a5a5a"/><rect x="569.01" y="397.73" width="1.7" height="1.45" fill="#5a5a5a"/><rect x="569.01" y="410.60" width="1.7" height="1.45" fill="#5a5a5a"/><rect x="569.01" y="423.48" width="1.7" height="1.45" fill="#5a5a5a"/><rect x="569.01" y="436.35" width="1.7" height="1.45" fill="#5a5a5a"/><rect x="569.01" y="449.23" width="1.7" height="1.45" fill="#5a5a5a"/><rect x="608.08" y="114.50" width="1.4" height="1.4"/><rect x="608.08" y="127.37" width="1.4" height="1.4"/><rect x="608.08" y="140.25" width="1.4" height="1.4"/><rect x="608.08" y="153.12" width="1.4" height="1.4"/><rect x="608.08" y="166.00" width="1.4" height="1.4"/><rect x="608.08" y="178.88" width="1.4" height="1.4"/><rect x="608.08" y="191.75" width="1.4" height="1.4"/><rect x="608.08" y="204.62" width="1.4" height="1.4"/><rect x="608.08" y="217.50" width="1.4" height="1.4"/><rect x="608.08" y="230.38" width="1.4" height="1.4"/><rect x="608.08" y="243.25" width="1.4" height="1.4"/><rect x="608.08" y="256.12" width="1.4" height="1.4"/><rect x="608.08" y="269.00" width="1.4" height="1.4"/><rect x="608.08" y="281.88" width="1.4" height="1.4"/><rect x="608.08" y="294.75" width="1.4" height="1.4"/><rect x="608.08" y="307.62" width="1.4" height="1.4"/><rect x="608.08" y="320.50" width="1.4" height="1.4"/><rect x="608.08" y="333.38" width="1.4" height="1.4"/><rect x="608.08" y="346.25" width="1.4" height="1.4"/><rect x="608.08" y="359.12" width="1.4" height="1.4"/><rect x="608.08" y="372.00" width="1.4" height="1.4"/><rect x="608.08" y="384.88" width="1.4" height="1.4"/><rect x="608.08" y="397.75" width="1.4" height="1.4"/><rect x="608.08" y="410.62" width="1.4" height="1.4"/><rect x="608.08" y="423.50" width="1.4" height="1.4"/><rect x="608.08" y="436.38" width="1.4" height="1.4"/><rect x="608.08" y="449.25" width="1.4" height="1.4"/><rect x="630.84" y="114.50" width="1.4" height="1.4"/><rect x="630.84" y="127.37" width="1.4" height="1.4"/><rect x="630.84" y="140.25" width="1.4" height="1.4"/><rect x="630.84" y="153.12" width="1.4" height="1.4"/><rect x="630.84" y="166.00" width="1.4" height="1.4"/><rect x="630.84" y="178.88" width="1.4" height="1.4"/><rect x="630.84" y="191.75" width="1.4" height="1.4"/><rect x="630.84" y="204.62" width="1.4" height="1.4"/><rect x="630.84" y="217.50" width="1.4" height="1.4"/><rect x="630.84" y="230.38" width="1.4" height="1.4"/><rect x="630.84" y="243.25" width="1.4" height="1.4"/><rect x="630.84" y="256.12" width="1.4" height="1.4"/><rect x="630.84" y="269.00" width="1.4" height="1.4"/><rect x="630.84" y="281.88" width="1.4" height="1.4"/><rect x="630.84" y="294.75" width="1.4" height="1.4"/><rect x="630.84" y="307.62" width="1.4" height="1.4"/><rect x="630.84" y="320.50" width="1.4" height="1.4"/><rect x="630.84" y="333.38" width="1.4" height="1.4"/><rect x="630.84" y="346.25" width="1.4" height="1.4"/><rect x="630.84" y="359.12" width="1.4" height="1.4"/><rect x="630.84" y="372.00" width="1.4" height="1.4"/><rect x="630.84" y="384.88" width="1.4" height="1.4"/><rect x="630.84" y="397.75" width="1.4" height="1.4"/><rect x="630.84" y="410.62" width="1.4" height="1.4"/><rect x="630.84" y="423.50" width="1.4" height="1.4"/><rect x="630.84" y="436.38" width="1.4" height="1.4"/><rect x="630.84" y="449.25" width="1.4" height="1.4"/><rect x="646.99" y="114.50" width="1.4" height="1.4"/><rect x="646.99" y="127.37" width="1.4" height="1.4"/><rect x="646.99" y="140.25" width="1.4" height="1.4"/><rect x="646.99" y="153.12" width="1.4" height="1.4"/><rect x="646.99" y="166.00" width="1.4" height="1.4"/><rect x="646.99" y="178.88" width="1.4" height="1.4"/><rect x="646.99" y="191.75" width="1.4" height="1.4"/><rect x="646.99" y="204.62" width="1.4" height="1.4"/><rect x="646.99" y="217.50" width="1.4" height="1.4"/><rect x="646.99" y="230.38" width="1.4" height="1.4"/><rect x="646.99" y="243.25" width="1.4" height="1.4"/><rect x="646.99" y="256.12" width="1.4" height="1.4"/><rect x="646.99" y="269.00" width="1.4" height="1.4"/><rect x="646.99" y="281.88" width="1.4" height="1.4"/><rect x="646.99" y="294.75" width="1.4" height="1.4"/><rect x="646.99" y="307.62" width="1.4" height="1.4"/><rect x="646.99" y="320.50" width="1.4" height="1.4"/><rect x="646.99" y="333.38" width="1.4" height="1.4"/><rect x="646.99" y="346.25" width="1.4" height="1.4"/><rect x="646.99" y="359.12" width="1.4" height="1.4"/><rect x="646.99" y="372.00" width="1.4" height="1.4"/><rect x="646.99" y="384.88" width="1.4" height="1.4"/><rect x="646.99" y="397.75" width="1.4" height="1.4"/><rect x="646.99" y="410.62" width="1.4" height="1.4"/><rect x="646.99" y="423.50" width="1.4" height="1.4"/><rect x="646.99" y="436.38" width="1.4" height="1.4"/><rect x="646.99" y="449.25" width="1.4" height="1.4"/><rect x="659.52" y="114.50" width="1.4" height="1.4"/><rect x="659.52" y="127.37" width="1.4" height="1.4"/><rect x="659.52" y="140.25" width="1.4" height="1.4"/><rect x="659.52" y="153.12" width="1.4" height="1.4"/><rect x="659.52" y="166.00" width="1.4" height="1.4"/><rect x="659.52" y="178.88" width="1.4" height="1.4"/><rect x="659.52" y="191.75" width="1.4" height="1.4"/><rect x="659.52" y="204.62" width="1.4" height="1.4"/><rect x="659.52" y="217.50" width="1.4" height="1.4"/><rect x="659.52" y="230.38" width="1.4" height="1.4"/><rect x="659.52" y="243.25" width="1.4" height="1.4"/><rect x="659.52" y="256.12" width="1.4" height="1.4"/><rect x="659.52" y="269.00" width="1.4" height="1.4"/><rect x="659.52" y="281.88" width="1.4" height="1.4"/><rect x="659.52" y="294.75" width="1.4" height="1.4"/><rect x="659.52" y="307.62" width="1.4" height="1.4"/><rect x="659.52" y="320.50" width="1.4" height="1.4"/><rect x="659.52" y="333.38" width="1.4" height="1.4"/><rect x="659.52" y="346.25" width="1.4" height="1.4"/><rect x="659.52" y="359.12" width="1.4" height="1.4"/><rect x="659.52" y="372.00" width="1.4" height="1.4"/><rect x="659.52" y="384.88" width="1.4" height="1.4"/><rect x="659.52" y="397.75" width="1.4" height="1.4"/><rect x="659.52" y="410.62" width="1.4" height="1.4"/><rect x="659.52" y="423.50" width="1.4" height="1.4"/><rect x="659.52" y="436.38" width="1.4" height="1.4"/><rect x="659.52" y="449.25" width="1.4" height="1.4"/><rect x="669.76" y="114.50" width="1.4" height="1.4"/><rect x="669.76" y="127.37" width="1.4" height="1.4"/><rect x="669.76" y="140.25" width="1.4" height="1.4"/><rect x="669.76" y="153.12" width="1.4" height="1.4"/><rect x="669.76" y="166.00" width="1.4" height="1.4"/><rect x="669.76" y="178.88" width="1.4" height="1.4"/><rect x="669.76" y="191.75" width="1.4" height="1.4"/><rect x="669.76" y="204.62" width="1.4" height="1.4"/><rect x="669.76" y="217.50" width="1.4" height="1.4"/><rect x="669.76" y="230.38" width="1.4" height="1.4"/><rect x="669.76" y="243.25" width="1.4" height="1.4"/><rect x="669.76" y="256.12" width="1.4" height="1.4"/><rect x="669.76" y="269.00" width="1.4" height="1.4"/><rect x="669.76" y="281.88" width="1.4" height="1.4"/><rect x="669.76" y="294.75" width="1.4" height="1.4"/><rect x="669.76" y="307.62" width="1.4" height="1.4"/><rect x="669.76" y="320.50" width="1.4" height="1.4"/><rect x="669.76" y="333.38" width="1.4" height="1.4"/><rect x="669.76" y="346.25" width="1.4" height="1.4"/><rect x="669.76" y="359.12" width="1.4" height="1.4"/><rect x="669.76" y="372.00" width="1.4" height="1.4"/><rect x="669.76" y="384.88" width="1.4" height="1.4"/><rect x="669.76" y="397.75" width="1.4" height="1.4"/><rect x="669.76" y="410.62" width="1.4" height="1.4"/><rect x="669.76" y="423.50" width="1.4" height="1.4"/><rect x="669.76" y="436.38" width="1.4" height="1.4"/><rect x="669.76" y="449.25" width="1.4" height="1.4"/><rect x="678.42" y="114.50" width="1.4" height="1.4"/><rect x="678.42" y="127.37" width="1.4" height="1.4"/><rect x="678.42" y="140.25" width="1.4" height="1.4"/><rect x="678.42" y="153.12" width="1.4" height="1.4"/><rect x="678.42" y="166.00" width="1.4" height="1.4"/><rect x="678.42" y="178.88" width="1.4" height="1.4"/><rect x="678.42" y="191.75" width="1.4" height="1.4"/><rect x="678.42" y="204.62" width="1.4" height="1.4"/><rect x="678.42" y="217.50" width="1.4" height="1.4"/><rect x="678.42" y="230.38" width="1.4" height="1.4"/><rect x="678.42" y="243.25" width="1.4" height="1.4"/><rect x="678.42" y="256.12" width="1.4" height="1.4"/><rect x="678.42" y="269.00" width="1.4" height="1.4"/><rect x="678.42" y="281.88" width="1.4" height="1.4"/><rect x="678.42" y="294.75" width="1.4" height="1.4"/><rect x="678.42" y="307.62" width="1.4" height="1.4"/><rect x="678.42" y="320.50" width="1.4" height="1.4"/><rect x="678.42" y="333.38" width="1.4" height="1.4"/><rect x="678.42" y="346.25" width="1.4" height="1.4"/><rect x="678.42" y="359.12" width="1.4" height="1.4"/><rect x="678.42" y="372.00" width="1.4" height="1.4"/><rect x="678.42" y="384.88" width="1.4" height="1.4"/><rect x="678.42" y="397.75" width="1.4" height="1.4"/><rect x="678.42" y="410.62" width="1.4" height="1.4"/><rect x="678.42" y="423.50" width="1.4" height="1.4"/><rect x="678.42" y="436.38" width="1.4" height="1.4"/><rect x="678.42" y="449.25" width="1.4" height="1.4"/><rect x="685.91" y="114.50" width="1.4" height="1.4"/><rect x="685.91" y="127.37" width="1.4" height="1.4"/><rect x="685.91" y="140.25" width="1.4" height="1.4"/><rect x="685.91" y="153.12" width="1.4" height="1.4"/><rect x="685.91" y="166.00" width="1.4" height="1.4"/><rect x="685.91" y="178.88" width="1.4" height="1.4"/><rect x="685.91" y="191.75" width="1.4" height="1.4"/><rect x="685.91" y="204.62" width="1.4" height="1.4"/><rect x="685.91" y="217.50" width="1.4" height="1.4"/><rect x="685.91" y="230.38" width="1.4" height="1.4"/><rect x="685.91" y="243.25" width="1.4" height="1.4"/><rect x="685.91" y="256.12" width="1.4" height="1.4"/><rect x="685.91" y="269.00" width="1.4" height="1.4"/><rect x="685.91" y="281.88" width="1.4" height="1.4"/><rect x="685.91" y="294.75" width="1.4" height="1.4"/><rect x="685.91" y="307.62" width="1.4" height="1.4"/><rect x="685.91" y="320.50" width="1.4" height="1.4"/><rect x="685.91" y="333.38" width="1.4" height="1.4"/><rect x="685.91" y="346.25" width="1.4" height="1.4"/><rect x="685.91" y="359.12" width="1.4" height="1.4"/><rect x="685.91" y="372.00" width="1.4" height="1.4"/><rect x="685.91" y="384.88" width="1.4" height="1.4"/><rect x="685.91" y="397.75" width="1.4" height="1.4"/><rect x="685.91" y="410.62" width="1.4" height="1.4"/><rect x="685.91" y="423.50" width="1.4" height="1.4"/><rect x="685.91" y="436.38" width="1.4" height="1.4"/><rect x="685.91" y="449.25" width="1.4" height="1.4"/><rect x="692.53" y="114.50" width="1.4" height="1.4"/><rect x="692.53" y="127.37" width="1.4" height="1.4"/><rect x="692.53" y="140.25" width="1.4" height="1.4"/><rect x="692.53" y="153.12" width="1.4" height="1.4"/><rect x="692.53" y="166.00" width="1.4" height="1.4"/><rect x="692.53" y="178.88" width="1.4" height="1.4"/><rect x="692.53" y="191.75" width="1.4" height="1.4"/><rect x="692.53" y="204.62" width="1.4" height="1.4"/><rect x="692.53" y="217.50" width="1.4" height="1.4"/><rect x="692.53" y="230.38" width="1.4" height="1.4"/><rect x="692.53" y="243.25" width="1.4" height="1.4"/><rect x="692.53" y="256.12" width="1.4" height="1.4"/><rect x="692.53" y="269.00" width="1.4" height="1.4"/><rect x="692.53" y="281.88" width="1.4" height="1.4"/><rect x="692.53" y="294.75" width="1.4" height="1.4"/><rect x="692.53" y="307.62" width="1.4" height="1.4"/><rect x="692.53" y="320.50" width="1.4" height="1.4"/><rect x="692.53" y="333.38" width="1.4" height="1.4"/><rect x="692.53" y="346.25" width="1.4" height="1.4"/><rect x="692.53" y="359.12" width="1.4" height="1.4"/><rect x="692.53" y="372.00" width="1.4" height="1.4"/><rect x="692.53" y="384.88" width="1.4" height="1.4"/><rect x="692.53" y="397.75" width="1.4" height="1.4"/><rect x="692.53" y="410.62" width="1.4" height="1.4"/><rect x="692.53" y="423.50" width="1.4" height="1.4"/><rect x="692.53" y="436.38" width="1.4" height="1.4"/><rect x="692.53" y="449.25" width="1.4" height="1.4"/><rect x="698.29" y="114.48" width="1.7" height="1.45" fill="#5a5a5a"/><rect x="698.29" y="127.35" width="1.7" height="1.45" fill="#5a5a5a"/><rect x="698.29" y="140.23" width="1.7" height="1.45" fill="#5a5a5a"/><rect x="698.29" y="153.10" width="1.7" height="1.45" fill="#5a5a5a"/><rect x="698.29" y="165.98" width="1.7" height="1.45" fill="#5a5a5a"/><rect x="698.29" y="178.85" width="1.7" height="1.45" fill="#5a5a5a"/><rect x="698.29" y="191.73" width="1.7" height="1.45" fill="#5a5a5a"/><rect x="698.29" y="204.60" width="1.7" height="1.45" fill="#5a5a5a"/><rect x="698.29" y="217.48" width="1.7" height="1.45" fill="#5a5a5a"/><rect x="698.29" y="230.35" width="1.7" height="1.45" fill="#5a5a5a"/><rect x="698.29" y="243.23" width="1.7" height="1.45" fill="#5a5a5a"/><rect x="698.29" y="256.10" width="1.7" height="1.45" fill="#5a5a5a"/><rect x="698.29" y="268.98" width="1.7" height="1.45" fill="#5a5a5a"/><rect x="698.29" y="281.85" width="1.7" height="1.45" fill="#5a5a5a"/><rect x="698.29" y="294.73" width="1.7" height="1.45" fill="#5a5a5a"/><rect x="698.29" y="307.60" width="1.7" height="1.45" fill="#5a5a5a"/><rect x="698.29" y="320.48" width="1.7" height="1.45" fill="#5a5a5a"/><rect x="698.29" y="333.35" width="1.7" height="1.45" fill="#5a5a5a"/><rect x="698.29" y="346.23" width="1.7" height="1.45" fill="#5a5a5a"/><rect x="698.29" y="359.10" width="1.7" height="1.45" fill="#5a5a5a"/><rect x="698.29" y="371.98" width="1.7" height="1.45" fill="#5a5a5a"/><rect x="698.29" y="384.85" width="1.7" height="1.45" fill="#5a5a5a"/><rect x="698.29" y="397.73" width="1.7" height="1.45" fill="#5a5a5a"/><rect x="698.29" y="410.60" width="1.7" height="1.45" fill="#5a5a5a"/><rect x="698.29" y="423.48" width="1.7" height="1.45" fill="#5a5a5a"/><rect x="698.29" y="436.35" width="1.7" height="1.45" fill="#5a5a5a"/><rect x="698.29" y="449.23" width="1.7" height="1.45" fill="#5a5a5a"/><rect x="737.36" y="114.50" width="1.4" height="1.4"/><rect x="737.36" y="127.37" width="1.4" height="1.4"/><rect x="737.36" y="140.25" width="1.4" height="1.4"/><rect x="737.36" y="153.12" width="1.4" height="1.4"/><rect x="737.36" y="166.00" width="1.4" height="1.4"/><rect x="737.36" y="178.88" width="1.4" height="1.4"/><rect x="737.36" y="191.75" width="1.4" height="1.4"/><rect x="737.36" y="204.62" width="1.4" height="1.4"/><rect x="737.36" y="217.50" width="1.4" height="1.4"/><rect x="737.36" y="230.38" width="1.4" height="1.4"/><rect x="737.36" y="243.25" width="1.4" height="1.4"/><rect x="737.36" y="256.12" width="1.4" height="1.4"/><rect x="737.36" y="269.00" width="1.4" height="1.4"/><rect x="737.36" y="281.88" width="1.4" height="1.4"/><rect x="737.36" y="294.75" width="1.4" height="1.4"/><rect x="737.36" y="307.62" width="1.4" height="1.4"/><rect x="737.36" y="320.50" width="1.4" height="1.4"/><rect x="737.36" y="333.38" width="1.4" height="1.4"/><rect x="737.36" y="346.25" width="1.4" height="1.4"/><rect x="737.36" y="359.12" width="1.4" height="1.4"/><rect x="737.36" y="372.00" width="1.4" height="1.4"/><rect x="737.36" y="384.88" width="1.4" height="1.4"/><rect x="737.36" y="397.75" width="1.4" height="1.4"/><rect x="737.36" y="410.62" width="1.4" height="1.4"/><rect x="737.36" y="423.50" width="1.4" height="1.4"/><rect x="737.36" y="436.38" width="1.4" height="1.4"/><rect x="737.36" y="449.25" width="1.4" height="1.4"/><rect x="760.13" y="114.50" width="1.4" height="1.4"/><rect x="760.13" y="127.37" width="1.4" height="1.4"/><rect x="760.13" y="140.25" width="1.4" height="1.4"/><rect x="760.13" y="153.12" width="1.4" height="1.4"/><rect x="760.13" y="166.00" width="1.4" height="1.4"/><rect x="760.13" y="178.88" width="1.4" height="1.4"/><rect x="760.13" y="191.75" width="1.4" height="1.4"/><rect x="760.13" y="204.62" width="1.4" height="1.4"/><rect x="760.13" y="217.50" width="1.4" height="1.4"/><rect x="760.13" y="230.38" width="1.4" height="1.4"/><rect x="760.13" y="243.25" width="1.4" height="1.4"/><rect x="760.13" y="256.12" width="1.4" height="1.4"/><rect x="760.13" y="269.00" width="1.4" height="1.4"/><rect x="760.13" y="281.88" width="1.4" height="1.4"/><rect x="760.13" y="294.75" width="1.4" height="1.4"/><rect x="760.13" y="307.62" width="1.4" height="1.4"/><rect x="760.13" y="320.50" width="1.4" height="1.4"/><rect x="760.13" y="333.38" width="1.4" height="1.4"/><rect x="760.13" y="346.25" width="1.4" height="1.4"/><rect x="760.13" y="359.12" width="1.4" height="1.4"/><rect x="760.13" y="372.00" width="1.4" height="1.4"/><rect x="760.13" y="384.88" width="1.4" height="1.4"/><rect x="760.13" y="397.75" width="1.4" height="1.4"/><rect x="760.13" y="410.62" width="1.4" height="1.4"/><rect x="760.13" y="423.50" width="1.4" height="1.4"/><rect x="760.13" y="436.38" width="1.4" height="1.4"/><rect x="760.13" y="449.25" width="1.4" height="1.4"/><rect x="776.28" y="114.50" width="1.4" height="1.4"/><rect x="776.28" y="127.37" width="1.4" height="1.4"/><rect x="776.28" y="140.25" width="1.4" height="1.4"/><rect x="776.28" y="153.12" width="1.4" height="1.4"/><rect x="776.28" y="166.00" width="1.4" height="1.4"/><rect x="776.28" y="178.88" width="1.4" height="1.4"/><rect x="776.28" y="191.75" width="1.4" height="1.4"/><rect x="776.28" y="204.62" width="1.4" height="1.4"/><rect x="776.28" y="217.50" width="1.4" height="1.4"/><rect x="776.28" y="230.38" width="1.4" height="1.4"/><rect x="776.28" y="243.25" width="1.4" height="1.4"/><rect x="776.28" y="256.12" width="1.4" height="1.4"/><rect x="776.28" y="269.00" width="1.4" height="1.4"/><rect x="776.28" y="281.88" width="1.4" height="1.4"/><rect x="776.28" y="294.75" width="1.4" height="1.4"/><rect x="776.28" y="307.62" width="1.4" height="1.4"/><rect x="776.28" y="320.50" width="1.4" height="1.4"/><rect x="776.28" y="333.38" width="1.4" height="1.4"/><rect x="776.28" y="346.25" width="1.4" height="1.4"/><rect x="776.28" y="359.12" width="1.4" height="1.4"/><rect x="776.28" y="372.00" width="1.4" height="1.4"/><rect x="776.28" y="384.88" width="1.4" height="1.4"/><rect x="776.28" y="397.75" width="1.4" height="1.4"/><rect x="776.28" y="410.62" width="1.4" height="1.4"/><rect x="776.28" y="423.50" width="1.4" height="1.4"/><rect x="776.28" y="436.38" width="1.4" height="1.4"/><rect x="776.28" y="449.25" width="1.4" height="1.4"/><rect x="788.81" y="114.50" width="1.4" height="1.4"/><rect x="788.81" y="127.37" width="1.4" height="1.4"/><rect x="788.81" y="140.25" width="1.4" height="1.4"/><rect x="788.81" y="153.12" width="1.4" height="1.4"/><rect x="788.81" y="166.00" width="1.4" height="1.4"/><rect x="788.81" y="178.88" width="1.4" height="1.4"/><rect x="788.81" y="191.75" width="1.4" height="1.4"/><rect x="788.81" y="204.62" width="1.4" height="1.4"/><rect x="788.81" y="217.50" width="1.4" height="1.4"/><rect x="788.81" y="230.38" width="1.4" height="1.4"/><rect x="788.81" y="243.25" width="1.4" height="1.4"/><rect x="788.81" y="256.12" width="1.4" height="1.4"/><rect x="788.81" y="269.00" width="1.4" height="1.4"/><rect x="788.81" y="281.88" width="1.4" height="1.4"/><rect x="788.81" y="294.75" width="1.4" height="1.4"/><rect x="788.81" y="307.62" width="1.4" height="1.4"/><rect x="788.81" y="320.50" width="1.4" height="1.4"/><rect x="788.81" y="333.38" width="1.4" height="1.4"/><rect x="788.81" y="346.25" width="1.4" height="1.4"/><rect x="788.81" y="359.12" width="1.4" height="1.4"/><rect x="788.81" y="372.00" width="1.4" height="1.4"/><rect x="788.81" y="384.88" width="1.4" height="1.4"/><rect x="788.81" y="397.75" width="1.4" height="1.4"/><rect x="788.81" y="410.62" width="1.4" height="1.4"/><rect x="788.81" y="423.50" width="1.4" height="1.4"/><rect x="788.81" y="436.38" width="1.4" height="1.4"/><rect x="788.81" y="449.25" width="1.4" height="1.4"/><rect x="799.05" y="114.50" width="1.4" height="1.4"/><rect x="799.05" y="127.37" width="1.4" height="1.4"/><rect x="799.05" y="140.25" width="1.4" height="1.4"/><rect x="799.05" y="153.12" width="1.4" height="1.4"/><rect x="799.05" y="166.00" width="1.4" height="1.4"/><rect x="799.05" y="178.88" width="1.4" height="1.4"/><rect x="799.05" y="191.75" width="1.4" height="1.4"/><rect x="799.05" y="204.62" width="1.4" height="1.4"/><rect x="799.05" y="217.50" width="1.4" height="1.4"/><rect x="799.05" y="230.38" width="1.4" height="1.4"/><rect x="799.05" y="243.25" width="1.4" height="1.4"/><rect x="799.05" y="256.12" width="1.4" height="1.4"/><rect x="799.05" y="269.00" width="1.4" height="1.4"/><rect x="799.05" y="281.88" width="1.4" height="1.4"/><rect x="799.05" y="294.75" width="1.4" height="1.4"/><rect x="799.05" y="307.62" width="1.4" height="1.4"/><rect x="799.05" y="320.50" width="1.4" height="1.4"/><rect x="799.05" y="333.38" width="1.4" height="1.4"/><rect x="799.05" y="346.25" width="1.4" height="1.4"/><rect x="799.05" y="359.12" width="1.4" height="1.4"/><rect x="799.05" y="372.00" width="1.4" height="1.4"/><rect x="799.05" y="384.88" width="1.4" height="1.4"/><rect x="799.05" y="397.75" width="1.4" height="1.4"/><rect x="799.05" y="410.62" width="1.4" height="1.4"/><rect x="799.05" y="423.50" width="1.4" height="1.4"/><rect x="799.05" y="436.38" width="1.4" height="1.4"/><rect x="799.05" y="449.25" width="1.4" height="1.4"/><rect x="807.70" y="114.50" width="1.4" height="1.4"/><rect x="807.70" y="127.37" width="1.4" height="1.4"/><rect x="807.70" y="140.25" width="1.4" height="1.4"/><rect x="807.70" y="153.12" width="1.4" height="1.4"/><rect x="807.70" y="166.00" width="1.4" height="1.4"/><rect x="807.70" y="178.88" width="1.4" height="1.4"/><rect x="807.70" y="191.75" width="1.4" height="1.4"/><rect x="807.70" y="204.62" width="1.4" height="1.4"/><rect x="807.70" y="217.50" width="1.4" height="1.4"/><rect x="807.70" y="230.38" width="1.4" height="1.4"/><rect x="807.70" y="243.25" width="1.4" height="1.4"/><rect x="807.70" y="256.12" width="1.4" height="1.4"/><rect x="807.70" y="269.00" width="1.4" height="1.4"/><rect x="807.70" y="281.88" width="1.4" height="1.4"/><rect x="807.70" y="294.75" width="1.4" height="1.4"/><rect x="807.70" y="307.62" width="1.4" height="1.4"/><rect x="807.70" y="320.50" width="1.4" height="1.4"/><rect x="807.70" y="333.38" width="1.4" height="1.4"/><rect x="807.70" y="346.25" width="1.4" height="1.4"/><rect x="807.70" y="359.12" width="1.4" height="1.4"/><rect x="807.70" y="372.00" width="1.4" height="1.4"/><rect x="807.70" y="384.88" width="1.4" height="1.4"/><rect x="807.70" y="397.75" width="1.4" height="1.4"/><rect x="807.70" y="410.62" width="1.4" height="1.4"/><rect x="807.70" y="423.50" width="1.4" height="1.4"/><rect x="807.70" y="436.38" width="1.4" height="1.4"/><rect x="807.70" y="449.25" width="1.4" height="1.4"/><rect x="815.20" y="114.50" width="1.4" height="1.4"/><rect x="815.20" y="127.37" width="1.4" height="1.4"/><rect x="815.20" y="140.25" width="1.4" height="1.4"/><rect x="815.20" y="153.12" width="1.4" height="1.4"/><rect x="815.20" y="166.00" width="1.4" height="1.4"/><rect x="815.20" y="178.88" width="1.4" height="1.4"/><rect x="815.20" y="191.75" width="1.4" height="1.4"/><rect x="815.20" y="204.62" width="1.4" height="1.4"/><rect x="815.20" y="217.50" width="1.4" height="1.4"/><rect x="815.20" y="230.38" width="1.4" height="1.4"/><rect x="815.20" y="243.25" width="1.4" height="1.4"/><rect x="815.20" y="256.12" width="1.4" height="1.4"/><rect x="815.20" y="269.00" width="1.4" height="1.4"/><rect x="815.20" y="281.88" width="1.4" height="1.4"/><rect x="815.20" y="294.75" width="1.4" height="1.4"/><rect x="815.20" y="307.62" width="1.4" height="1.4"/><rect x="815.20" y="320.50" width="1.4" height="1.4"/><rect x="815.20" y="333.38" width="1.4" height="1.4"/><rect x="815.20" y="346.25" width="1.4" height="1.4"/><rect x="815.20" y="359.12" width="1.4" height="1.4"/><rect x="815.20" y="372.00" width="1.4" height="1.4"/><rect x="815.20" y="384.88" width="1.4" height="1.4"/><rect x="815.20" y="397.75" width="1.4" height="1.4"/><rect x="815.20" y="410.62" width="1.4" height="1.4"/><rect x="815.20" y="423.50" width="1.4" height="1.4"/><rect x="815.20" y="436.38" width="1.4" height="1.4"/><rect x="815.20" y="449.25" width="1.4" height="1.4"/><rect x="821.81" y="114.50" width="1.4" height="1.4"/><rect x="821.81" y="127.37" width="1.4" height="1.4"/><rect x="821.81" y="140.25" width="1.4" height="1.4"/><rect x="821.81" y="153.12" width="1.4" height="1.4"/><rect x="821.81" y="166.00" width="1.4" height="1.4"/><rect x="821.81" y="178.88" width="1.4" height="1.4"/><rect x="821.81" y="191.75" width="1.4" height="1.4"/><rect x="821.81" y="204.62" width="1.4" height="1.4"/><rect x="821.81" y="217.50" width="1.4" height="1.4"/><rect x="821.81" y="230.38" width="1.4" height="1.4"/><rect x="821.81" y="243.25" width="1.4" height="1.4"/><rect x="821.81" y="256.12" width="1.4" height="1.4"/><rect x="821.81" y="269.00" width="1.4" height="1.4"/><rect x="821.81" y="281.88" width="1.4" height="1.4"/><rect x="821.81" y="294.75" width="1.4" height="1.4"/><rect x="821.81" y="307.62" width="1.4" height="1.4"/><rect x="821.81" y="320.50" width="1.4" height="1.4"/><rect x="821.81" y="333.38" width="1.4" height="1.4"/><rect x="821.81" y="346.25" width="1.4" height="1.4"/><rect x="821.81" y="359.12" width="1.4" height="1.4"/><rect x="821.81" y="372.00" width="1.4" height="1.4"/><rect x="821.81" y="384.88" width="1.4" height="1.4"/><rect x="821.81" y="397.75" width="1.4" height="1.4"/><rect x="821.81" y="410.62" width="1.4" height="1.4"/><rect x="821.81" y="423.50" width="1.4" height="1.4"/><rect x="821.81" y="436.38" width="1.4" height="1.4"/><rect x="821.81" y="449.25" width="1.4" height="1.4"/><rect x="827.58" y="114.48" width="1.7" height="1.45" fill="#5a5a5a"/><rect x="827.58" y="127.35" width="1.7" height="1.45" fill="#5a5a5a"/><rect x="827.58" y="140.23" width="1.7" height="1.45" fill="#5a5a5a"/><rect x="827.58" y="153.10" width="1.7" height="1.45" fill="#5a5a5a"/><rect x="827.58" y="165.98" width="1.7" height="1.45" fill="#5a5a5a"/><rect x="827.58" y="178.85" width="1.7" height="1.45" fill="#5a5a5a"/><rect x="827.58" y="191.73" width="1.7" height="1.45" fill="#5a5a5a"/><rect x="827.58" y="204.60" width="1.7" height="1.45" fill="#5a5a5a"/><rect x="827.58" y="217.48" width="1.7" height="1.45" fill="#5a5a5a"/><rect x="827.58" y="230.35" width="1.7" height="1.45" fill="#5a5a5a"/><rect x="827.58" y="243.23" width="1.7" height="1.45" fill="#5a5a5a"/><rect x="827.58" y="256.10" width="1.7" height="1.45" fill="#5a5a5a"/><rect x="827.58" y="268.98" width="1.7" height="1.45" fill="#5a5a5a"/><rect x="827.58" y="281.85" width="1.7" height="1.45" fill="#5a5a5a"/><rect x="827.58" y="294.73" width="1.7" height="1.45" fill="#5a5a5a"/><rect x="827.58" y="307.60" width="1.7" height="1.45" fill="#5a5a5a"/><rect x="827.58" y="320.48" width="1.7" height="1.45" fill="#5a5a5a"/><rect x="827.58" y="333.35" width="1.7" height="1.45" fill="#5a5a5a"/><rect x="827.58" y="346.23" width="1.7" height="1.45" fill="#5a5a5a"/><rect x="827.58" y="359.10" width="1.7" height="1.45" fill="#5a5a5a"/><rect x="827.58" y="371.98" width="1.7" height="1.45" fill="#5a5a5a"/><rect x="827.58" y="384.85" width="1.7" height="1.45" fill="#5a5a5a"/><rect x="827.58" y="397.73" width="1.7" height="1.45" fill="#5a5a5a"/><rect x="827.58" y="410.60" width="1.7" height="1.45" fill="#5a5a5a"/><rect x="827.58" y="423.48" width="1.7" height="1.45" fill="#5a5a5a"/><rect x="827.58" y="436.35" width="1.7" height="1.45" fill="#5a5a5a"/><rect x="827.58" y="449.23" width="1.7" height="1.45" fill="#5a5a5a"/><rect x="866.65" y="114.50" width="1.4" height="1.4"/><rect x="866.65" y="127.37" width="1.4" height="1.4"/><rect x="866.65" y="140.25" width="1.4" height="1.4"/><rect x="866.65" y="153.12" width="1.4" height="1.4"/><rect x="866.65" y="166.00" width="1.4" height="1.4"/><rect x="866.65" y="178.88" width="1.4" height="1.4"/><rect x="866.65" y="191.75" width="1.4" height="1.4"/><rect x="866.65" y="204.62" width="1.4" height="1.4"/><rect x="866.65" y="217.50" width="1.4" height="1.4"/><rect x="866.65" y="230.38" width="1.4" height="1.4"/><rect x="866.65" y="243.25" width="1.4" height="1.4"/><rect x="866.65" y="256.12" width="1.4" height="1.4"/><rect x="866.65" y="269.00" width="1.4" height="1.4"/><rect x="866.65" y="281.88" width="1.4" height="1.4"/><rect x="866.65" y="294.75" width="1.4" height="1.4"/><rect x="866.65" y="307.62" width="1.4" height="1.4"/><rect x="866.65" y="320.50" width="1.4" height="1.4"/><rect x="866.65" y="333.38" width="1.4" height="1.4"/><rect x="866.65" y="346.25" width="1.4" height="1.4"/><rect x="866.65" y="359.12" width="1.4" height="1.4"/><rect x="866.65" y="372.00" width="1.4" height="1.4"/><rect x="866.65" y="384.88" width="1.4" height="1.4"/><rect x="866.65" y="397.75" width="1.4" height="1.4"/><rect x="866.65" y="410.62" width="1.4" height="1.4"/><rect x="866.65" y="423.50" width="1.4" height="1.4"/><rect x="866.65" y="436.38" width="1.4" height="1.4"/><rect x="866.65" y="449.25" width="1.4" height="1.4"/><rect x="889.41" y="114.50" width="1.4" height="1.4"/><rect x="889.41" y="127.37" width="1.4" height="1.4"/><rect x="889.41" y="140.25" width="1.4" height="1.4"/><rect x="889.41" y="153.12" width="1.4" height="1.4"/><rect x="889.41" y="166.00" width="1.4" height="1.4"/><rect x="889.41" y="178.88" width="1.4" height="1.4"/><rect x="889.41" y="191.75" width="1.4" height="1.4"/><rect x="889.41" y="204.62" width="1.4" height="1.4"/><rect x="889.41" y="217.50" width="1.4" height="1.4"/><rect x="889.41" y="230.38" width="1.4" height="1.4"/><rect x="889.41" y="243.25" width="1.4" height="1.4"/><rect x="889.41" y="256.12" width="1.4" height="1.4"/><rect x="889.41" y="269.00" width="1.4" height="1.4"/><rect x="889.41" y="281.88" width="1.4" height="1.4"/><rect x="889.41" y="294.75" width="1.4" height="1.4"/><rect x="889.41" y="307.62" width="1.4" height="1.4"/><rect x="889.41" y="320.50" width="1.4" height="1.4"/><rect x="889.41" y="333.38" width="1.4" height="1.4"/><rect x="889.41" y="346.25" width="1.4" height="1.4"/><rect x="889.41" y="359.12" width="1.4" height="1.4"/><rect x="889.41" y="372.00" width="1.4" height="1.4"/><rect x="889.41" y="384.88" width="1.4" height="1.4"/><rect x="889.41" y="397.75" width="1.4" height="1.4"/><rect x="889.41" y="410.62" width="1.4" height="1.4"/><rect x="889.41" y="423.50" width="1.4" height="1.4"/><rect x="889.41" y="436.38" width="1.4" height="1.4"/><rect x="889.41" y="449.25" width="1.4" height="1.4"/><rect x="905.57" y="114.50" width="1.4" height="1.4"/><rect x="905.57" y="127.37" width="1.4" height="1.4"/><rect x="905.57" y="140.25" width="1.4" height="1.4"/><rect x="905.57" y="153.12" width="1.4" height="1.4"/><rect x="905.57" y="166.00" width="1.4" height="1.4"/><rect x="905.57" y="178.88" width="1.4" height="1.4"/><rect x="905.57" y="191.75" width="1.4" height="1.4"/><rect x="905.57" y="204.62" width="1.4" height="1.4"/><rect x="905.57" y="217.50" width="1.4" height="1.4"/><rect x="905.57" y="230.38" width="1.4" height="1.4"/><rect x="905.57" y="243.25" width="1.4" height="1.4"/><rect x="905.57" y="256.12" width="1.4" height="1.4"/><rect x="905.57" y="269.00" width="1.4" height="1.4"/><rect x="905.57" y="281.88" width="1.4" height="1.4"/><rect x="905.57" y="294.75" width="1.4" height="1.4"/><rect x="905.57" y="307.62" width="1.4" height="1.4"/><rect x="905.57" y="320.50" width="1.4" height="1.4"/><rect x="905.57" y="333.38" width="1.4" height="1.4"/><rect x="905.57" y="346.25" width="1.4" height="1.4"/><rect x="905.57" y="359.12" width="1.4" height="1.4"/><rect x="905.57" y="372.00" width="1.4" height="1.4"/><rect x="905.57" y="384.88" width="1.4" height="1.4"/><rect x="905.57" y="397.75" width="1.4" height="1.4"/><rect x="905.57" y="410.62" width="1.4" height="1.4"/><rect x="905.57" y="423.50" width="1.4" height="1.4"/><rect x="905.57" y="436.38" width="1.4" height="1.4"/><rect x="905.57" y="449.25" width="1.4" height="1.4"/><rect x="918.10" y="114.50" width="1.4" height="1.4"/><rect x="918.10" y="127.37" width="1.4" height="1.4"/><rect x="918.10" y="140.25" width="1.4" height="1.4"/><rect x="918.10" y="153.12" width="1.4" height="1.4"/><rect x="918.10" y="166.00" width="1.4" height="1.4"/><rect x="918.10" y="178.88" width="1.4" height="1.4"/><rect x="918.10" y="191.75" width="1.4" height="1.4"/><rect x="918.10" y="204.62" width="1.4" height="1.4"/><rect x="918.10" y="217.50" width="1.4" height="1.4"/><rect x="918.10" y="230.38" width="1.4" height="1.4"/><rect x="918.10" y="243.25" width="1.4" height="1.4"/><rect x="918.10" y="256.12" width="1.4" height="1.4"/><rect x="918.10" y="269.00" width="1.4" height="1.4"/><rect x="918.10" y="281.88" width="1.4" height="1.4"/><rect x="918.10" y="294.75" width="1.4" height="1.4"/><rect x="918.10" y="307.62" width="1.4" height="1.4"/><rect x="918.10" y="320.50" width="1.4" height="1.4"/><rect x="918.10" y="333.38" width="1.4" height="1.4"/><rect x="918.10" y="346.25" width="1.4" height="1.4"/><rect x="918.10" y="359.12" width="1.4" height="1.4"/><rect x="918.10" y="372.00" width="1.4" height="1.4"/><rect x="918.10" y="384.88" width="1.4" height="1.4"/><rect x="918.10" y="397.75" width="1.4" height="1.4"/><rect x="918.10" y="410.62" width="1.4" height="1.4"/><rect x="918.10" y="423.50" width="1.4" height="1.4"/><rect x="918.10" y="436.38" width="1.4" height="1.4"/><rect x="918.10" y="449.25" width="1.4" height="1.4"/><rect x="928.33" y="114.50" width="1.4" height="1.4"/><rect x="928.33" y="127.37" width="1.4" height="1.4"/><rect x="928.33" y="140.25" width="1.4" height="1.4"/><rect x="928.33" y="153.12" width="1.4" height="1.4"/><rect x="928.33" y="166.00" width="1.4" height="1.4"/><rect x="928.33" y="178.88" width="1.4" height="1.4"/><rect x="928.33" y="191.75" width="1.4" height="1.4"/><rect x="928.33" y="204.62" width="1.4" height="1.4"/><rect x="928.33" y="217.50" width="1.4" height="1.4"/><rect x="928.33" y="230.38" width="1.4" height="1.4"/><rect x="928.33" y="243.25" width="1.4" height="1.4"/><rect x="928.33" y="256.12" width="1.4" height="1.4"/><rect x="928.33" y="269.00" width="1.4" height="1.4"/><rect x="928.33" y="281.88" width="1.4" height="1.4"/><rect x="928.33" y="294.75" width="1.4" height="1.4"/><rect x="928.33" y="307.62" width="1.4" height="1.4"/><rect x="928.33" y="320.50" width="1.4" height="1.4"/><rect x="928.33" y="333.38" width="1.4" height="1.4"/><rect x="928.33" y="346.25" width="1.4" height="1.4"/><rect x="928.33" y="359.12" width="1.4" height="1.4"/><rect x="928.33" y="372.00" width="1.4" height="1.4"/><rect x="928.33" y="384.88" width="1.4" height="1.4"/><rect x="928.33" y="397.75" width="1.4" height="1.4"/><rect x="928.33" y="410.62" width="1.4" height="1.4"/><rect x="928.33" y="423.50" width="1.4" height="1.4"/><rect x="928.33" y="436.38" width="1.4" height="1.4"/><rect x="928.33" y="449.25" width="1.4" height="1.4"/><rect x="936.99" y="114.50" width="1.4" height="1.4"/><rect x="936.99" y="127.37" width="1.4" height="1.4"/><rect x="936.99" y="140.25" width="1.4" height="1.4"/><rect x="936.99" y="153.12" width="1.4" height="1.4"/><rect x="936.99" y="166.00" width="1.4" height="1.4"/><rect x="936.99" y="178.88" width="1.4" height="1.4"/><rect x="936.99" y="191.75" width="1.4" height="1.4"/><rect x="936.99" y="204.62" width="1.4" height="1.4"/><rect x="936.99" y="217.50" width="1.4" height="1.4"/><rect x="936.99" y="230.38" width="1.4" height="1.4"/><rect x="936.99" y="243.25" width="1.4" height="1.4"/><rect x="936.99" y="256.12" width="1.4" height="1.4"/><rect x="936.99" y="269.00" width="1.4" height="1.4"/><rect x="936.99" y="281.88" width="1.4" height="1.4"/><rect x="936.99" y="294.75" width="1.4" height="1.4"/><rect x="936.99" y="307.62" width="1.4" height="1.4"/><rect x="936.99" y="320.50" width="1.4" height="1.4"/><rect x="936.99" y="333.38" width="1.4" height="1.4"/><rect x="936.99" y="346.25" width="1.4" height="1.4"/><rect x="936.99" y="359.12" width="1.4" height="1.4"/><rect x="936.99" y="372.00" width="1.4" height="1.4"/><rect x="936.99" y="384.88" width="1.4" height="1.4"/><rect x="936.99" y="397.75" width="1.4" height="1.4"/><rect x="936.99" y="410.62" width="1.4" height="1.4"/><rect x="936.99" y="423.50" width="1.4" height="1.4"/><rect x="936.99" y="436.38" width="1.4" height="1.4"/><rect x="936.99" y="449.25" width="1.4" height="1.4"/><rect x="944.49" y="114.50" width="1.4" height="1.4"/><rect x="944.49" y="127.37" width="1.4" height="1.4"/><rect x="944.49" y="140.25" width="1.4" height="1.4"/><rect x="944.49" y="153.12" width="1.4" height="1.4"/><rect x="944.49" y="166.00" width="1.4" height="1.4"/><rect x="944.49" y="178.88" width="1.4" height="1.4"/><rect x="944.49" y="191.75" width="1.4" height="1.4"/><rect x="944.49" y="204.62" width="1.4" height="1.4"/><rect x="944.49" y="217.50" width="1.4" height="1.4"/><rect x="944.49" y="230.38" width="1.4" height="1.4"/><rect x="944.49" y="243.25" width="1.4" height="1.4"/><rect x="944.49" y="256.12" width="1.4" height="1.4"/><rect x="944.49" y="269.00" width="1.4" height="1.4"/><rect x="944.49" y="281.88" width="1.4" height="1.4"/><rect x="944.49" y="294.75" width="1.4" height="1.4"/><rect x="944.49" y="307.62" width="1.4" height="1.4"/><rect x="944.49" y="320.50" width="1.4" height="1.4"/><rect x="944.49" y="333.38" width="1.4" height="1.4"/><rect x="944.49" y="346.25" width="1.4" height="1.4"/><rect x="944.49" y="359.12" width="1.4" height="1.4"/><rect x="944.49" y="372.00" width="1.4" height="1.4"/><rect x="944.49" y="384.88" width="1.4" height="1.4"/><rect x="944.49" y="397.75" width="1.4" height="1.4"/><rect x="944.49" y="410.62" width="1.4" height="1.4"/><rect x="944.49" y="423.50" width="1.4" height="1.4"/><rect x="944.49" y="436.38" width="1.4" height="1.4"/><rect x="944.49" y="449.25" width="1.4" height="1.4"/><rect x="951.10" y="114.50" width="1.4" height="1.4"/><rect x="951.10" y="127.37" width="1.4" height="1.4"/><rect x="951.10" y="140.25" width="1.4" height="1.4"/><rect x="951.10" y="153.12" width="1.4" height="1.4"/><rect x="951.10" y="166.00" width="1.4" height="1.4"/><rect x="951.10" y="178.88" width="1.4" height="1.4"/><rect x="951.10" y="191.75" width="1.4" height="1.4"/><rect x="951.10" y="204.62" width="1.4" height="1.4"/><rect x="951.10" y="217.50" width="1.4" height="1.4"/><rect x="951.10" y="230.38" width="1.4" height="1.4"/><rect x="951.10" y="243.25" width="1.4" height="1.4"/><rect x="951.10" y="256.12" width="1.4" height="1.4"/><rect x="951.10" y="269.00" width="1.4" height="1.4"/><rect x="951.10" y="281.88" width="1.4" height="1.4"/><rect x="951.10" y="294.75" width="1.4" height="1.4"/><rect x="951.10" y="307.62" width="1.4" height="1.4"/><rect x="951.10" y="320.50" width="1.4" height="1.4"/><rect x="951.10" y="333.38" width="1.4" height="1.4"/><rect x="951.10" y="346.25" width="1.4" height="1.4"/><rect x="951.10" y="359.12" width="1.4" height="1.4"/><rect x="951.10" y="372.00" width="1.4" height="1.4"/><rect x="951.10" y="384.88" width="1.4" height="1.4"/><rect x="951.10" y="397.75" width="1.4" height="1.4"/><rect x="951.10" y="410.62" width="1.4" height="1.4"/><rect x="951.10" y="423.50" width="1.4" height="1.4"/><rect x="951.10" y="436.38" width="1.4" height="1.4"/><rect x="951.10" y="449.25" width="1.4" height="1.4"/><rect x="956.86" y="114.48" width="1.7" height="1.45" fill="#5a5a5a"/><rect x="956.86" y="127.35" width="1.7" height="1.45" fill="#5a5a5a"/><rect x="956.86" y="140.23" width="1.7" height="1.45" fill="#5a5a5a"/><rect x="956.86" y="153.10" width="1.7" height="1.45" fill="#5a5a5a"/><rect x="956.86" y="165.98" width="1.7" height="1.45" fill="#5a5a5a"/><rect x="956.86" y="178.85" width="1.7" height="1.45" fill="#5a5a5a"/><rect x="956.86" y="191.73" width="1.7" height="1.45" fill="#5a5a5a"/><rect x="956.86" y="204.60" width="1.7" height="1.45" fill="#5a5a5a"/><rect x="956.86" y="217.48" width="1.7" height="1.45" fill="#5a5a5a"/><rect x="956.86" y="230.35" width="1.7" height="1.45" fill="#5a5a5a"/><rect x="956.86" y="243.23" width="1.7" height="1.45" fill="#5a5a5a"/><rect x="956.86" y="256.10" width="1.7" height="1.45" fill="#5a5a5a"/><rect x="956.86" y="268.98" width="1.7" height="1.45" fill="#5a5a5a"/><rect x="956.86" y="281.85" width="1.7" height="1.45" fill="#5a5a5a"/><rect x="956.86" y="294.73" width="1.7" height="1.45" fill="#5a5a5a"/><rect x="956.86" y="307.60" width="1.7" height="1.45" fill="#5a5a5a"/><rect x="956.86" y="320.48" width="1.7" height="1.45" fill="#5a5a5a"/><rect x="956.86" y="333.35" width="1.7" height="1.45" fill="#5a5a5a"/><rect x="956.86" y="346.23" width="1.7" height="1.45" fill="#5a5a5a"/><rect x="956.86" y="359.10" width="1.7" height="1.45" fill="#5a5a5a"/><rect x="956.86" y="371.98" width="1.7" height="1.45" fill="#5a5a5a"/><rect x="956.86" y="384.85" width="1.7" height="1.45" fill="#5a5a5a"/><rect x="956.86" y="397.73" width="1.7" height="1.45" fill="#5a5a5a"/><rect x="956.86" y="410.60" width="1.7" height="1.45" fill="#5a5a5a"/><rect x="956.86" y="423.48" width="1.7" height="1.45" fill="#5a5a5a"/><rect x="956.86" y="436.35" width="1.7" height="1.45" fill="#5a5a5a"/><rect x="956.86" y="449.23" width="1.7" height="1.45" fill="#5a5a5a"/><rect x="995.93" y="114.50" width="1.4" height="1.4"/><rect x="995.93" y="127.37" width="1.4" height="1.4"/><rect x="995.93" y="140.25" width="1.4" height="1.4"/><rect x="995.93" y="153.12" width="1.4" height="1.4"/><rect x="995.93" y="166.00" width="1.4" height="1.4"/><rect x="995.93" y="178.88" width="1.4" height="1.4"/><rect x="995.93" y="191.75" width="1.4" height="1.4"/><rect x="995.93" y="204.62" width="1.4" height="1.4"/><rect x="995.93" y="217.50" width="1.4" height="1.4"/><rect x="995.93" y="230.38" width="1.4" height="1.4"/><rect x="995.93" y="243.25" width="1.4" height="1.4"/><rect x="995.93" y="256.12" width="1.4" height="1.4"/><rect x="995.93" y="269.00" width="1.4" height="1.4"/><rect x="995.93" y="281.88" width="1.4" height="1.4"/><rect x="995.93" y="294.75" width="1.4" height="1.4"/><rect x="995.93" y="307.62" width="1.4" height="1.4"/><rect x="995.93" y="320.50" width="1.4" height="1.4"/><rect x="995.93" y="333.38" width="1.4" height="1.4"/><rect x="995.93" y="346.25" width="1.4" height="1.4"/><rect x="995.93" y="359.12" width="1.4" height="1.4"/><rect x="995.93" y="372.00" width="1.4" height="1.4"/><rect x="995.93" y="384.88" width="1.4" height="1.4"/><rect x="995.93" y="397.75" width="1.4" height="1.4"/><rect x="995.93" y="410.62" width="1.4" height="1.4"/><rect x="995.93" y="423.50" width="1.4" height="1.4"/><rect x="995.93" y="436.38" width="1.4" height="1.4"/><rect x="995.93" y="449.25" width="1.4" height="1.4"/><rect x="1018.70" y="114.50" width="1.4" height="1.4"/><rect x="1018.70" y="127.37" width="1.4" height="1.4"/><rect x="1018.70" y="140.25" width="1.4" height="1.4"/><rect x="1018.70" y="153.12" width="1.4" height="1.4"/><rect x="1018.70" y="166.00" width="1.4" height="1.4"/><rect x="1018.70" y="178.88" width="1.4" height="1.4"/><rect x="1018.70" y="191.75" width="1.4" height="1.4"/><rect x="1018.70" y="204.62" width="1.4" height="1.4"/><rect x="1018.70" y="217.50" width="1.4" height="1.4"/><rect x="1018.70" y="230.38" width="1.4" height="1.4"/><rect x="1018.70" y="243.25" width="1.4" height="1.4"/><rect x="1018.70" y="256.12" width="1.4" height="1.4"/><rect x="1018.70" y="269.00" width="1.4" height="1.4"/><rect x="1018.70" y="281.88" width="1.4" height="1.4"/><rect x="1018.70" y="294.75" width="1.4" height="1.4"/><rect x="1018.70" y="307.62" width="1.4" height="1.4"/><rect x="1018.70" y="320.50" width="1.4" height="1.4"/><rect x="1018.70" y="333.38" width="1.4" height="1.4"/><rect x="1018.70" y="346.25" width="1.4" height="1.4"/><rect x="1018.70" y="359.12" width="1.4" height="1.4"/><rect x="1018.70" y="372.00" width="1.4" height="1.4"/><rect x="1018.70" y="384.88" width="1.4" height="1.4"/><rect x="1018.70" y="397.75" width="1.4" height="1.4"/><rect x="1018.70" y="410.62" width="1.4" height="1.4"/><rect x="1018.70" y="423.50" width="1.4" height="1.4"/><rect x="1018.70" y="436.38" width="1.4" height="1.4"/><rect x="1018.70" y="449.25" width="1.4" height="1.4"/><rect x="1034.85" y="114.50" width="1.4" height="1.4"/><rect x="1034.85" y="127.37" width="1.4" height="1.4"/><rect x="1034.85" y="140.25" width="1.4" height="1.4"/><rect x="1034.85" y="153.12" width="1.4" height="1.4"/><rect x="1034.85" y="166.00" width="1.4" height="1.4"/><rect x="1034.85" y="178.88" width="1.4" height="1.4"/><rect x="1034.85" y="191.75" width="1.4" height="1.4"/><rect x="1034.85" y="204.62" width="1.4" height="1.4"/><rect x="1034.85" y="217.50" width="1.4" height="1.4"/><rect x="1034.85" y="230.38" width="1.4" height="1.4"/><rect x="1034.85" y="243.25" width="1.4" height="1.4"/><rect x="1034.85" y="256.12" width="1.4" height="1.4"/><rect x="1034.85" y="269.00" width="1.4" height="1.4"/><rect x="1034.85" y="281.88" width="1.4" height="1.4"/><rect x="1034.85" y="294.75" width="1.4" height="1.4"/><rect x="1034.85" y="307.62" width="1.4" height="1.4"/><rect x="1034.85" y="320.50" width="1.4" height="1.4"/><rect x="1034.85" y="333.38" width="1.4" height="1.4"/><rect x="1034.85" y="346.25" width="1.4" height="1.4"/><rect x="1034.85" y="359.12" width="1.4" height="1.4"/><rect x="1034.85" y="372.00" width="1.4" height="1.4"/><rect x="1034.85" y="384.88" width="1.4" height="1.4"/><rect x="1034.85" y="397.75" width="1.4" height="1.4"/><rect x="1034.85" y="410.62" width="1.4" height="1.4"/><rect x="1034.85" y="423.50" width="1.4" height="1.4"/><rect x="1034.85" y="436.38" width="1.4" height="1.4"/><rect x="1034.85" y="449.25" width="1.4" height="1.4"/><rect x="1047.38" y="114.50" width="1.4" height="1.4"/><rect x="1047.38" y="127.37" width="1.4" height="1.4"/><rect x="1047.38" y="140.25" width="1.4" height="1.4"/><rect x="1047.38" y="153.12" width="1.4" height="1.4"/><rect x="1047.38" y="166.00" width="1.4" height="1.4"/><rect x="1047.38" y="178.88" width="1.4" height="1.4"/><rect x="1047.38" y="191.75" width="1.4" height="1.4"/><rect x="1047.38" y="204.62" width="1.4" height="1.4"/><rect x="1047.38" y="217.50" width="1.4" height="1.4"/><rect x="1047.38" y="230.38" width="1.4" height="1.4"/><rect x="1047.38" y="243.25" width="1.4" height="1.4"/><rect x="1047.38" y="256.12" width="1.4" height="1.4"/><rect x="1047.38" y="269.00" width="1.4" height="1.4"/><rect x="1047.38" y="281.88" width="1.4" height="1.4"/><rect x="1047.38" y="294.75" width="1.4" height="1.4"/><rect x="1047.38" y="307.62" width="1.4" height="1.4"/><rect x="1047.38" y="320.50" width="1.4" height="1.4"/><rect x="1047.38" y="333.38" width="1.4" height="1.4"/><rect x="1047.38" y="346.25" width="1.4" height="1.4"/><rect x="1047.38" y="359.12" width="1.4" height="1.4"/><rect x="1047.38" y="372.00" width="1.4" height="1.4"/><rect x="1047.38" y="384.88" width="1.4" height="1.4"/><rect x="1047.38" y="397.75" width="1.4" height="1.4"/><rect x="1047.38" y="410.62" width="1.4" height="1.4"/><rect x="1047.38" y="423.50" width="1.4" height="1.4"/><rect x="1047.38" y="436.38" width="1.4" height="1.4"/><rect x="1047.38" y="449.25" width="1.4" height="1.4"/><rect x="1057.62" y="114.50" width="1.4" height="1.4"/><rect x="1057.62" y="127.37" width="1.4" height="1.4"/><rect x="1057.62" y="140.25" width="1.4" height="1.4"/><rect x="1057.62" y="153.12" width="1.4" height="1.4"/><rect x="1057.62" y="166.00" width="1.4" height="1.4"/><rect x="1057.62" y="178.88" width="1.4" height="1.4"/><rect x="1057.62" y="191.75" width="1.4" height="1.4"/><rect x="1057.62" y="204.62" width="1.4" height="1.4"/><rect x="1057.62" y="217.50" width="1.4" height="1.4"/><rect x="1057.62" y="230.38" width="1.4" height="1.4"/><rect x="1057.62" y="243.25" width="1.4" height="1.4"/><rect x="1057.62" y="256.12" width="1.4" height="1.4"/><rect x="1057.62" y="269.00" width="1.4" height="1.4"/><rect x="1057.62" y="281.88" width="1.4" height="1.4"/><rect x="1057.62" y="294.75" width="1.4" height="1.4"/><rect x="1057.62" y="307.62" width="1.4" height="1.4"/><rect x="1057.62" y="320.50" width="1.4" height="1.4"/><rect x="1057.62" y="333.38" width="1.4" height="1.4"/><rect x="1057.62" y="346.25" width="1.4" height="1.4"/><rect x="1057.62" y="359.12" width="1.4" height="1.4"/><rect x="1057.62" y="372.00" width="1.4" height="1.4"/><rect x="1057.62" y="384.88" width="1.4" height="1.4"/><rect x="1057.62" y="397.75" width="1.4" height="1.4"/><rect x="1057.62" y="410.62" width="1.4" height="1.4"/><rect x="1057.62" y="423.50" width="1.4" height="1.4"/><rect x="1057.62" y="436.38" width="1.4" height="1.4"/><rect x="1057.62" y="449.25" width="1.4" height="1.4"/><rect x="1066.27" y="114.50" width="1.4" height="1.4"/><rect x="1066.27" y="127.37" width="1.4" height="1.4"/><rect x="1066.27" y="140.25" width="1.4" height="1.4"/><rect x="1066.27" y="153.12" width="1.4" height="1.4"/><rect x="1066.27" y="166.00" width="1.4" height="1.4"/><rect x="1066.27" y="178.88" width="1.4" height="1.4"/><rect x="1066.27" y="191.75" width="1.4" height="1.4"/><rect x="1066.27" y="204.62" width="1.4" height="1.4"/><rect x="1066.27" y="217.50" width="1.4" height="1.4"/><rect x="1066.27" y="230.38" width="1.4" height="1.4"/><rect x="1066.27" y="243.25" width="1.4" height="1.4"/><rect x="1066.27" y="256.12" width="1.4" height="1.4"/><rect x="1066.27" y="269.00" width="1.4" height="1.4"/><rect x="1066.27" y="281.88" width="1.4" height="1.4"/><rect x="1066.27" y="294.75" width="1.4" height="1.4"/><rect x="1066.27" y="307.62" width="1.4" height="1.4"/><rect x="1066.27" y="320.50" width="1.4" height="1.4"/><rect x="1066.27" y="333.38" width="1.4" height="1.4"/><rect x="1066.27" y="346.25" width="1.4" height="1.4"/><rect x="1066.27" y="359.12" width="1.4" height="1.4"/><rect x="1066.27" y="372.00" width="1.4" height="1.4"/><rect x="1066.27" y="384.88" width="1.4" height="1.4"/><rect x="1066.27" y="397.75" width="1.4" height="1.4"/><rect x="1066.27" y="410.62" width="1.4" height="1.4"/><rect x="1066.27" y="423.50" width="1.4" height="1.4"/><rect x="1066.27" y="436.38" width="1.4" height="1.4"/><rect x="1066.27" y="449.25" width="1.4" height="1.4"/><rect x="1073.77" y="114.50" width="1.4" height="1.4"/><rect x="1073.77" y="127.37" width="1.4" height="1.4"/><rect x="1073.77" y="140.25" width="1.4" height="1.4"/><rect x="1073.77" y="153.12" width="1.4" height="1.4"/><rect x="1073.77" y="166.00" width="1.4" height="1.4"/><rect x="1073.77" y="178.88" width="1.4" height="1.4"/><rect x="1073.77" y="191.75" width="1.4" height="1.4"/><rect x="1073.77" y="204.62" width="1.4" height="1.4"/><rect x="1073.77" y="217.50" width="1.4" height="1.4"/><rect x="1073.77" y="230.38" width="1.4" height="1.4"/><rect x="1073.77" y="243.25" width="1.4" height="1.4"/><rect x="1073.77" y="256.12" width="1.4" height="1.4"/><rect x="1073.77" y="269.00" width="1.4" height="1.4"/><rect x="1073.77" y="281.88" width="1.4" height="1.4"/><rect x="1073.77" y="294.75" width="1.4" height="1.4"/><rect x="1073.77" y="307.62" width="1.4" height="1.4"/><rect x="1073.77" y="320.50" width="1.4" height="1.4"/><rect x="1073.77" y="333.38" width="1.4" height="1.4"/><rect x="1073.77" y="346.25" width="1.4" height="1.4"/><rect x="1073.77" y="359.12" width="1.4" height="1.4"/><rect x="1073.77" y="372.00" width="1.4" height="1.4"/><rect x="1073.77" y="384.88" width="1.4" height="1.4"/><rect x="1073.77" y="397.75" width="1.4" height="1.4"/><rect x="1073.77" y="410.62" width="1.4" height="1.4"/><rect x="1073.77" y="423.50" width="1.4" height="1.4"/><rect x="1073.77" y="436.38" width="1.4" height="1.4"/><rect x="1073.77" y="449.25" width="1.4" height="1.4"/><rect x="1080.38" y="114.50" width="1.4" height="1.4"/><rect x="1080.38" y="127.37" width="1.4" height="1.4"/><rect x="1080.38" y="140.25" width="1.4" height="1.4"/><rect x="1080.38" y="153.12" width="1.4" height="1.4"/><rect x="1080.38" y="166.00" width="1.4" height="1.4"/><rect x="1080.38" y="178.88" width="1.4" height="1.4"/><rect x="1080.38" y="191.75" width="1.4" height="1.4"/><rect x="1080.38" y="204.62" width="1.4" height="1.4"/><rect x="1080.38" y="217.50" width="1.4" height="1.4"/><rect x="1080.38" y="230.38" width="1.4" height="1.4"/><rect x="1080.38" y="243.25" width="1.4" height="1.4"/><rect x="1080.38" y="256.12" width="1.4" height="1.4"/><rect x="1080.38" y="269.00" width="1.4" height="1.4"/><rect x="1080.38" y="281.88" width="1.4" height="1.4"/><rect x="1080.38" y="294.75" width="1.4" height="1.4"/><rect x="1080.38" y="307.62" width="1.4" height="1.4"/><rect x="1080.38" y="320.50" width="1.4" height="1.4"/><rect x="1080.38" y="333.38" width="1.4" height="1.4"/><rect x="1080.38" y="346.25" width="1.4" height="1.4"/><rect x="1080.38" y="359.12" width="1.4" height="1.4"/><rect x="1080.38" y="372.00" width="1.4" height="1.4"/><rect x="1080.38" y="384.88" width="1.4" height="1.4"/><rect x="1080.38" y="397.75" width="1.4" height="1.4"/><rect x="1080.38" y="410.62" width="1.4" height="1.4"/><rect x="1080.38" y="423.50" width="1.4" height="1.4"/><rect x="1080.38" y="436.38" width="1.4" height="1.4"/><rect x="1080.38" y="449.25" width="1.4" height="1.4"/></g><g fill="#858585"><rect x="194.50" y="227.15" width="1.5" height="1.3"/><rect x="207.36" y="227.15" width="1.5" height="1.3"/><rect x="220.21" y="227.15" width="1.5" height="1.3"/><rect x="233.07" y="227.15" width="1.5" height="1.3"/><rect x="245.93" y="227.15" width="1.5" height="1.3"/><rect x="258.78" y="227.15" width="1.5" height="1.3"/><rect x="271.64" y="227.15" width="1.5" height="1.3"/><rect x="284.50" y="227.15" width="1.5" height="1.3"/><rect x="297.36" y="227.15" width="1.5" height="1.3"/><rect x="310.21" y="227.15" width="1.5" height="1.3"/><rect x="323.07" y="227.15" width="1.5" height="1.3"/><rect x="335.93" y="227.15" width="1.5" height="1.3"/><rect x="348.78" y="227.15" width="1.5" height="1.3"/><rect x="361.64" y="227.15" width="1.5" height="1.3"/><rect x="374.50" y="227.15" width="1.5" height="1.3"/><rect x="387.35" y="227.15" width="1.5" height="1.3"/><rect x="400.21" y="227.15" width="1.5" height="1.3"/><rect x="413.07" y="227.15" width="1.5" height="1.3"/><rect x="425.93" y="227.15" width="1.5" height="1.3"/><rect x="438.78" y="227.15" width="1.5" height="1.3"/><rect x="451.64" y="227.15" width="1.5" height="1.3"/><rect x="464.50" y="227.15" width="1.5" height="1.3"/><rect x="477.35" y="227.15" width="1.5" height="1.3"/><rect x="490.21" y="227.15" width="1.5" height="1.3"/><rect x="503.07" y="227.15" width="1.5" height="1.3"/><rect x="515.92" y="227.15" width="1.5" height="1.3"/><rect x="528.78" y="227.15" width="1.5" height="1.3"/><rect x="541.64" y="227.15" width="1.5" height="1.3"/><rect x="554.50" y="227.15" width="1.5" height="1.3"/><rect x="567.35" y="227.15" width="1.5" height="1.3"/><rect x="580.21" y="227.15" width="1.5" height="1.3"/><rect x="593.07" y="227.15" width="1.5" height="1.3"/><rect x="605.92" y="227.15" width="1.5" height="1.3"/><rect x="618.78" y="227.15" width="1.5" height="1.3"/><rect x="631.64" y="227.15" width="1.5" height="1.3"/><rect x="644.49" y="227.15" width="1.5" height="1.3"/><rect x="657.35" y="227.15" width="1.5" height="1.3"/><rect x="670.21" y="227.15" width="1.5" height="1.3"/><rect x="683.07" y="227.15" width="1.5" height="1.3"/><rect x="695.92" y="227.15" width="1.5" height="1.3"/><rect x="708.78" y="227.15" width="1.5" height="1.3"/><rect x="721.64" y="227.15" width="1.5" height="1.3"/><rect x="734.49" y="227.15" width="1.5" height="1.3"/><rect x="747.35" y="227.15" width="1.5" height="1.3"/><rect x="760.21" y="227.15" width="1.5" height="1.3"/><rect x="773.06" y="227.15" width="1.5" height="1.3"/><rect x="785.92" y="227.15" width="1.5" height="1.3"/><rect x="798.78" y="227.15" width="1.5" height="1.3"/><rect x="811.64" y="227.15" width="1.5" height="1.3"/><rect x="824.49" y="227.15" width="1.5" height="1.3"/><rect x="837.35" y="227.15" width="1.5" height="1.3"/><rect x="850.21" y="227.15" width="1.5" height="1.3"/><rect x="863.06" y="227.15" width="1.5" height="1.3"/><rect x="875.92" y="227.15" width="1.5" height="1.3"/><rect x="888.78" y="227.15" width="1.5" height="1.3"/><rect x="901.63" y="227.15" width="1.5" height="1.3"/><rect x="914.49" y="227.15" width="1.5" height="1.3"/><rect x="927.35" y="227.15" width="1.5" height="1.3"/><rect x="940.21" y="227.15" width="1.5" height="1.3"/><rect x="953.06" y="227.15" width="1.5" height="1.3"/><rect x="965.92" y="227.15" width="1.5" height="1.3"/><rect x="978.78" y="227.15" width="1.5" height="1.3"/><rect x="991.63" y="227.15" width="1.5" height="1.3"/><rect x="1004.49" y="227.15" width="1.5" height="1.3"/><rect x="1017.35" y="227.15" width="1.5" height="1.3"/><rect x="1030.20" y="227.15" width="1.5" height="1.3"/><rect x="1043.06" y="227.15" width="1.5" height="1.3"/><rect x="1055.92" y="227.15" width="1.5" height="1.3"/><rect x="1068.78" y="227.15" width="1.5" height="1.3"/><rect x="1081.63" y="227.15" width="1.5" height="1.3"/><rect x="194.50" y="344.75" width="1.5" height="1.3"/><rect x="207.36" y="344.75" width="1.5" height="1.3"/><rect x="220.21" y="344.75" width="1.5" height="1.3"/><rect x="233.07" y="344.75" width="1.5" height="1.3"/><rect x="245.93" y="344.75" width="1.5" height="1.3"/><rect x="258.78" y="344.75" width="1.5" height="1.3"/><rect x="271.64" y="344.75" width="1.5" height="1.3"/><rect x="284.50" y="344.75" width="1.5" height="1.3"/><rect x="297.36" y="344.75" width="1.5" height="1.3"/><rect x="310.21" y="344.75" width="1.5" height="1.3"/><rect x="323.07" y="344.75" width="1.5" height="1.3"/><rect x="335.93" y="344.75" width="1.5" height="1.3"/><rect x="348.78" y="344.75" width="1.5" height="1.3"/><rect x="361.64" y="344.75" width="1.5" height="1.3"/><rect x="374.50" y="344.75" width="1.5" height="1.3"/><rect x="387.35" y="344.75" width="1.5" height="1.3"/><rect x="400.21" y="344.75" width="1.5" height="1.3"/><rect x="413.07" y="344.75" width="1.5" height="1.3"/><rect x="425.93" y="344.75" width="1.5" height="1.3"/><rect x="438.78" y="344.75" width="1.5" height="1.3"/><rect x="451.64" y="344.75" width="1.5" height="1.3"/><rect x="464.50" y="344.75" width="1.5" height="1.3"/><rect x="477.35" y="344.75" width="1.5" height="1.3"/><rect x="490.21" y="344.75" width="1.5" height="1.3"/><rect x="503.07" y="344.75" width="1.5" height="1.3"/><rect x="515.92" y="344.75" width="1.5" height="1.3"/><rect x="528.78" y="344.75" width="1.5" height="1.3"/><rect x="541.64" y="344.75" width="1.5" height="1.3"/><rect x="554.50" y="344.75" width="1.5" height="1.3"/><rect x="567.35" y="344.75" width="1.5" height="1.3"/><rect x="580.21" y="344.75" width="1.5" height="1.3"/><rect x="593.07" y="344.75" width="1.5" height="1.3"/><rect x="605.92" y="344.75" width="1.5" height="1.3"/><rect x="618.78" y="344.75" width="1.5" height="1.3"/><rect x="631.64" y="344.75" width="1.5" height="1.3"/><rect x="644.49" y="344.75" width="1.5" height="1.3"/><rect x="657.35" y="344.75" width="1.5" height="1.3"/><rect x="670.21" y="344.75" width="1.5" height="1.3"/><rect x="683.07" y="344.75" width="1.5" height="1.3"/><rect x="695.92" y="344.75" width="1.5" height="1.3"/><rect x="708.78" y="344.75" width="1.5" height="1.3"/><rect x="721.64" y="344.75" width="1.5" height="1.3"/><rect x="734.49" y="344.75" width="1.5" height="1.3"/><rect x="747.35" y="344.75" width="1.5" height="1.3"/><rect x="760.21" y="344.75" width="1.5" height="1.3"/><rect x="773.06" y="344.75" width="1.5" height="1.3"/><rect x="785.92" y="344.75" width="1.5" height="1.3"/><rect x="798.78" y="344.75" width="1.5" height="1.3"/><rect x="811.64" y="344.75" width="1.5" height="1.3"/><rect x="824.49" y="344.75" width="1.5" height="1.3"/><rect x="837.35" y="344.75" width="1.5" height="1.3"/><rect x="850.21" y="344.75" width="1.5" height="1.3"/><rect x="863.06" y="344.75" width="1.5" height="1.3"/><rect x="875.92" y="344.75" width="1.5" height="1.3"/><rect x="888.78" y="344.75" width="1.5" height="1.3"/><rect x="901.63" y="344.75" width="1.5" height="1.3"/><rect x="914.49" y="344.75" width="1.5" height="1.3"/><rect x="927.35" y="344.75" width="1.5" height="1.3"/><rect x="940.21" y="344.75" width="1.5" height="1.3"/><rect x="953.06" y="344.75" width="1.5" height="1.3"/><rect x="965.92" y="344.75" width="1.5" height="1.3"/><rect x="978.78" y="344.75" width="1.5" height="1.3"/><rect x="991.63" y="344.75" width="1.5" height="1.3"/><rect x="1004.49" y="344.75" width="1.5" height="1.3"/><rect x="1017.35" y="344.75" width="1.5" height="1.3"/><rect x="1030.20" y="344.75" width="1.5" height="1.3"/><rect x="1043.06" y="344.75" width="1.5" height="1.3"/><rect x="1055.92" y="344.75" width="1.5" height="1.3"/><rect x="1068.78" y="344.75" width="1.5" height="1.3"/><rect x="1081.63" y="344.75" width="1.5" height="1.3"/></g><g stroke="#666666" fill="none"><path d="M220.82 110.0 v5.5 M220.82 463.0 v-5.2" stroke-width="1.45"/><path d="M243.58 110.0 v5.5 M243.58 463.0 v-5.2" stroke-width="1.45"/><path d="M259.74 110.0 v5.5 M259.74 463.0 v-5.2" stroke-width="1.45"/><path d="M272.27 110.0 v5.5 M272.27 463.0 v-5.2" stroke-width="1.45"/><path d="M282.50 110.0 v5.5 M282.50 463.0 v-5.2" stroke-width="1.45"/><path d="M291.16 110.0 v5.5 M291.16 463.0 v-5.2" stroke-width="1.45"/><path d="M298.66 110.0 v5.5 M298.66 463.0 v-5.2" stroke-width="1.45"/><path d="M305.27 110.0 v5.5 M305.27 463.0 v-5.2" stroke-width="1.45"/><path d="M311.19 110.0 v9.5 M311.19 463.0 v-9.2" stroke-width="1.85"/><path d="M350.10 110.0 v5.5 M350.10 463.0 v-5.2" stroke-width="1.45"/><path d="M372.87 110.0 v5.5 M372.87 463.0 v-5.2" stroke-width="1.45"/><path d="M389.02 110.0 v5.5 M389.02 463.0 v-5.2" stroke-width="1.45"/><path d="M401.55 110.0 v5.5 M401.55 463.0 v-5.2" stroke-width="1.45"/><path d="M411.79 110.0 v5.5 M411.79 463.0 v-5.2" stroke-width="1.45"/><path d="M420.44 110.0 v5.5 M420.44 463.0 v-5.2" stroke-width="1.45"/><path d="M427.94 110.0 v5.5 M427.94 463.0 v-5.2" stroke-width="1.45"/><path d="M434.56 110.0 v5.5 M434.56 463.0 v-5.2" stroke-width="1.45"/><path d="M440.47 110.0 v9.5 M440.47 463.0 v-9.2" stroke-width="1.85"/><path d="M479.39 110.0 v5.5 M479.39 463.0 v-5.2" stroke-width="1.45"/><path d="M502.16 110.0 v5.5 M502.16 463.0 v-5.2" stroke-width="1.45"/><path d="M518.31 110.0 v5.5 M518.31 463.0 v-5.2" stroke-width="1.45"/><path d="M530.84 110.0 v5.5 M530.84 463.0 v-5.2" stroke-width="1.45"/><path d="M541.08 110.0 v5.5 M541.08 463.0 v-5.2" stroke-width="1.45"/><path d="M549.73 110.0 v5.5 M549.73 463.0 v-5.2" stroke-width="1.45"/><path d="M557.23 110.0 v5.5 M557.23 463.0 v-5.2" stroke-width="1.45"/><path d="M563.84 110.0 v5.5 M563.84 463.0 v-5.2" stroke-width="1.45"/><path d="M569.76 110.0 v9.5 M569.76 463.0 v-9.2" stroke-width="1.85"/><path d="M608.68 110.0 v5.5 M608.68 463.0 v-5.2" stroke-width="1.45"/><path d="M631.44 110.0 v5.5 M631.44 463.0 v-5.2" stroke-width="1.45"/><path d="M647.59 110.0 v5.5 M647.59 463.0 v-5.2" stroke-width="1.45"/><path d="M660.12 110.0 v5.5 M660.12 463.0 v-5.2" stroke-width="1.45"/><path d="M670.36 110.0 v5.5 M670.36 463.0 v-5.2" stroke-width="1.45"/><path d="M679.02 110.0 v5.5 M679.02 463.0 v-5.2" stroke-width="1.45"/><path d="M686.51 110.0 v5.5 M686.51 463.0 v-5.2" stroke-width="1.45"/><path d="M693.13 110.0 v5.5 M693.13 463.0 v-5.2" stroke-width="1.45"/><path d="M699.04 110.0 v9.5 M699.04 463.0 v-9.2" stroke-width="1.85"/><path d="M737.96 110.0 v5.5 M737.96 463.0 v-5.2" stroke-width="1.45"/><path d="M760.73 110.0 v5.5 M760.73 463.0 v-5.2" stroke-width="1.45"/><path d="M776.88 110.0 v5.5 M776.88 463.0 v-5.2" stroke-width="1.45"/><path d="M789.41 110.0 v5.5 M789.41 463.0 v-5.2" stroke-width="1.45"/><path d="M799.65 110.0 v5.5 M799.65 463.0 v-5.2" stroke-width="1.45"/><path d="M808.30 110.0 v5.5 M808.30 463.0 v-5.2" stroke-width="1.45"/><path d="M815.80 110.0 v5.5 M815.80 463.0 v-5.2" stroke-width="1.45"/><path d="M822.41 110.0 v5.5 M822.41 463.0 v-5.2" stroke-width="1.45"/><path d="M828.33 110.0 v9.5 M828.33 463.0 v-9.2" stroke-width="1.85"/><path d="M867.25 110.0 v5.5 M867.25 463.0 v-5.2" stroke-width="1.45"/><path d="M890.01 110.0 v5.5 M890.01 463.0 v-5.2" stroke-width="1.45"/><path d="M906.17 110.0 v5.5 M906.17 463.0 v-5.2" stroke-width="1.45"/><path d="M918.70 110.0 v5.5 M918.70 463.0 v-5.2" stroke-width="1.45"/><path d="M928.93 110.0 v5.5 M928.93 463.0 v-5.2" stroke-width="1.45"/><path d="M937.59 110.0 v5.5 M937.59 463.0 v-5.2" stroke-width="1.45"/><path d="M945.09 110.0 v5.5 M945.09 463.0 v-5.2" stroke-width="1.45"/><path d="M951.70 110.0 v5.5 M951.70 463.0 v-5.2" stroke-width="1.45"/><path d="M957.61 110.0 v9.5 M957.61 463.0 v-9.2" stroke-width="1.85"/><path d="M996.53 110.0 v5.5 M996.53 463.0 v-5.2" stroke-width="1.45"/><path d="M1019.30 110.0 v5.5 M1019.30 463.0 v-5.2" stroke-width="1.45"/><path d="M1035.45 110.0 v5.5 M1035.45 463.0 v-5.2" stroke-width="1.45"/><path d="M1047.98 110.0 v5.5 M1047.98 463.0 v-5.2" stroke-width="1.45"/><path d="M1058.22 110.0 v5.5 M1058.22 463.0 v-5.2" stroke-width="1.45"/><path d="M1066.87 110.0 v5.5 M1066.87 463.0 v-5.2" stroke-width="1.45"/><path d="M1074.37 110.0 v5.5 M1074.37 463.0 v-5.2" stroke-width="1.45"/><path d="M1080.98 110.0 v5.5 M1080.98 463.0 v-5.2" stroke-width="1.45"/><path d="M182.0 227.80 h9.2 M1087.0 227.80 h-9.2" stroke-width="1.3"/><path d="M182.0 345.40 h9.2 M1087.0 345.40 h-9.2" stroke-width="1.3"/></g><path d="M181.9 110.15 H1087.1 V463 H181.9 Z" fill="none" stroke="#666666" stroke-width="1.8"/><polyline points="182.00,110.50 183.29,110.50 184.59,110.50 185.88,110.50 187.17,110.50 188.46,110.50 189.76,110.50 191.05,110.50 192.34,110.50 193.64,110.50 194.93,110.50 196.22,110.50 197.51,110.50 198.81,110.50 200.10,110.49 201.39,110.49 202.69,110.49 203.98,110.49 205.27,110.49 206.56,110.49 207.86,110.49 209.15,110.49 210.44,110.49 211.74,110.49 213.03,110.49 214.32,110.49 215.61,110.49 216.91,110.49 218.20,110.49 219.49,110.49 220.79,110.49 222.08,110.49 223.37,110.49 224.66,110.49 225.96,110.49 227.25,110.49 228.54,110.49 229.84,110.49 231.13,110.49 232.42,110.49 233.71,110.49 235.01,110.49 236.30,110.49 237.59,110.49 238.89,110.49 240.18,110.49 241.47,110.49 242.76,110.49 244.06,110.49 245.35,110.49 246.64,110.49 247.94,110.49 249.23,110.49 250.52,110.49 251.81,110.49 253.11,110.49 254.40,110.49 255.69,110.49 256.99,110.49 258.28,110.49 259.57,110.49 260.86,110.49 262.16,110.49 263.45,110.49 264.74,110.49 266.04,110.49 267.33,110.49 268.62,110.49 269.91,110.49 271.21,110.49 272.50,110.49 273.79,110.49 275.09,110.49 276.38,110.49 277.67,110.49 278.96,110.49 280.26,110.50 281.55,110.50 282.84,110.50 284.14,110.50 285.43,110.50 286.72,110.50 288.01,110.50 289.31,110.51 290.60,110.51 291.89,110.51 293.19,110.51 294.48,110.51 295.77,110.51 297.06,110.52 298.36,110.52 299.65,110.52 300.94,110.52 302.24,110.53 303.53,110.53 304.82,110.53 306.11,110.54 307.41,110.54 308.70,110.54 309.99,110.55 311.29,110.55 312.58,110.56 313.87,110.56 315.16,110.57 316.46,110.57 317.75,110.58 319.04,110.58 320.34,110.59 321.63,110.59 322.92,110.60 324.21,110.61 325.51,110.61 326.80,110.62 328.09,110.63 329.39,110.64 330.68,110.64 331.97,110.65 333.26,110.66 334.56,110.67 335.85,110.68 337.14,110.69 338.44,110.70 339.73,110.72 341.02,110.73 342.31,110.74 343.61,110.76 344.90,110.77 346.19,110.78 347.49,110.80 348.78,110.82 350.07,110.83 351.36,110.85 352.66,110.87 353.95,110.89 355.24,110.91 356.54,110.93 357.83,110.95 359.12,110.98 360.41,111.00 361.71,111.03 363.00,111.06 364.29,111.08 365.59,111.11 366.88,111.14 368.17,111.18 369.46,111.21 370.76,111.24 372.05,111.28 373.34,111.32 374.64,111.36 375.93,111.40 377.22,111.44 378.51,111.49 379.81,111.53 381.10,111.58 382.39,111.63 383.69,111.69 384.98,111.74 386.27,111.80 387.56,111.86 388.86,111.92 390.15,111.99 391.44,112.06 392.74,112.13 394.03,112.20 395.32,112.28 396.61,112.36 397.91,112.44 399.20,112.52 400.49,112.61 401.79,112.71 403.08,112.80 404.37,112.90 405.66,113.00 406.96,113.11 408.25,113.22 409.54,113.34 410.84,113.45 412.13,113.58 413.42,113.70 414.71,113.84 416.01,113.97 417.30,114.11 418.59,114.26 419.89,114.41 421.18,114.56 422.47,114.72 423.76,114.88 425.06,115.05 426.35,115.23 427.64,115.40 428.94,115.59 430.23,115.78 431.52,115.97 432.81,116.17 434.11,116.38 435.40,116.59 436.69,116.80 437.99,117.03 439.28,117.25 440.57,117.48 441.86,117.72 443.16,117.96 444.45,118.21 445.74,118.47 447.04,118.73 448.33,118.99 449.62,119.26 450.91,119.54 452.21,119.82 453.50,120.10 454.79,120.39 456.09,120.69 457.38,120.99 458.67,121.29 459.96,121.60 461.26,121.92 462.55,122.24 463.84,122.57 465.14,122.89 466.43,123.23 467.72,123.57 469.01,123.91 470.31,124.26 471.60,124.61 472.89,124.96 474.19,125.32 475.48,125.68 476.77,126.05 478.06,126.42 479.36,126.80 480.65,127.17 481.94,127.55 483.24,127.94 484.53,128.32 485.82,128.72 487.11,129.11 488.41,129.50 489.70,129.90 490.99,130.31 492.29,130.71 493.58,131.12 494.87,131.53 496.16,131.94 497.46,132.35 498.75,132.77 500.04,133.19 501.34,133.61 502.63,134.03 503.92,134.46 505.21,134.88 506.51,135.31 507.80,135.74 509.09,136.17 510.39,136.61 511.68,137.04 512.97,137.48 514.26,137.91 515.56,138.35 516.85,138.79 518.14,139.24 519.44,139.68 520.73,140.12 522.02,140.57 523.31,141.01 524.61,141.46 525.90,141.91 527.19,142.36 528.49,142.81 529.78,143.26 531.07,143.71 532.36,144.16 533.66,144.62 534.95,145.07 536.24,145.53 537.54,145.98 538.83,146.44 540.12,146.89 541.41,147.35 542.71,147.81 544.00,148.27 545.29,148.73 546.59,149.19 547.88,149.65 549.17,150.11 550.46,150.57 551.76,151.03 553.05,151.49 554.34,151.95 555.64,152.41 556.93,152.88 558.22,153.34 559.51,153.80 560.81,154.27 562.10,154.73 563.39,155.19 564.69,155.66 565.98,156.12 567.27,156.59 568.56,157.05 569.86,157.52 571.15,157.99 572.44,158.45 573.74,158.92 575.03,159.38 576.32,159.85 577.61,160.32 578.91,160.78 580.20,161.25 581.49,161.72 582.79,162.18 584.08,162.65 585.37,163.12 586.66,163.59 587.96,164.05 589.25,164.52 590.54,164.99 591.84,165.46 593.13,165.93 594.42,166.39 595.71,166.86 597.01,167.33 598.30,167.80 599.59,168.27 600.89,168.74 602.18,169.21 603.47,169.68 604.76,170.14 606.06,170.61 607.35,171.08 608.64,171.55 609.94,172.02 611.23,172.49 612.52,172.96 613.81,173.43 615.11,173.90 616.40,174.37 617.69,174.84 618.99,175.31 620.28,175.78 621.57,176.25 622.86,176.72 624.16,177.19 625.45,177.66 626.74,178.13 628.04,178.60 629.33,179.07 630.62,179.54 631.91,180.01 633.21,180.48 634.50,180.95 635.79,181.42 637.09,181.89 638.38,182.36 639.67,182.83 640.96,183.30 642.26,183.77 643.55,184.24 644.84,184.71 646.14,185.18 647.43,185.65 648.72,186.12 650.01,186.59 651.31,187.06 652.60,187.53 653.89,188.00 655.19,188.47 656.48,188.94 657.77,189.42 659.06,189.89 660.36,190.36 661.65,190.83 662.94,191.30 664.24,191.77 665.53,192.24 666.82,192.71 668.11,193.19 669.41,193.66 670.70,194.13 671.99,194.60 673.29,195.07 674.58,195.55 675.87,196.02 677.16,196.49 678.46,196.96 679.75,197.43 681.04,197.91 682.34,198.38 683.63,198.85 684.92,199.32 686.21,199.80 687.51,200.27 688.80,200.74 690.09,201.22 691.39,201.69 692.68,202.16 693.97,202.64 695.26,203.11 696.56,203.59 697.85,204.06 699.14,204.54 700.44,205.01 701.73,205.49 703.02,205.96 704.31,206.44 705.61,206.91 706.90,207.39 708.19,207.87 709.49,208.34 710.78,208.82 712.07,209.30 713.36,209.77 714.66,210.25 715.95,210.73 717.24,211.21 718.54,211.69 719.83,212.17 721.12,212.65 722.41,213.13 723.71,213.61 725.00,214.09 726.29,214.57 727.59,215.06 728.88,215.54 730.17,216.02 731.46,216.51 732.76,216.99 734.05,217.48 735.34,217.96 736.64,218.45 737.93,218.94 739.22,219.43 740.51,219.92 741.81,220.41 743.10,220.90 744.39,221.39 745.69,221.88 746.98,222.38 748.27,222.87 749.56,223.37 750.86,223.87 752.15,224.36 753.44,224.86 754.74,225.37 756.03,225.87 757.32,226.37 758.61,226.88 759.91,227.38 761.20,227.89 762.49,228.40 763.79,228.92 765.08,229.43 766.37,229.95 767.66,230.46 768.96,230.98 770.25,231.50 771.54,232.03 772.84,232.55 774.13,233.08 775.42,233.61 776.71,234.15 778.01,234.68 779.30,235.22 780.59,235.76 781.89,236.31 783.18,236.85 784.47,237.40 785.76,237.96 787.06,238.51 788.35,239.07 789.64,239.64 790.94,240.20 792.23,240.77 793.52,241.35 794.81,241.92 796.11,242.50 797.40,243.09 798.69,243.68 799.99,244.27 801.28,244.87 802.57,245.47 803.86,246.08 805.16,246.69 806.45,247.30 807.74,247.92 809.04,248.55 810.33,249.18 811.62,249.81 812.91,250.45 814.21,251.10 815.50,251.75 816.79,252.40 818.09,253.06 819.38,253.73 820.67,254.40 821.96,255.07 823.26,255.76 824.55,256.44 825.84,257.13 827.14,257.83 828.43,258.53 829.72,259.24 831.01,259.96 832.31,260.68 833.60,261.40 834.89,262.13 836.19,262.86 837.48,263.60 838.77,264.35 840.06,265.10 841.36,265.86 842.65,266.62 843.94,267.39 845.24,268.16 846.53,268.93 847.82,269.71 849.11,270.50 850.41,271.29 851.70,272.09 852.99,272.89 854.29,273.69 855.58,274.50 856.87,275.31 858.16,276.13 859.46,276.95 860.75,277.78 862.04,278.61 863.34,279.44 864.63,280.28 865.92,281.12 867.21,281.97 868.51,282.81 869.80,283.66 871.09,284.52 872.39,285.38 873.68,286.24 874.97,287.10 876.26,287.97 877.56,288.84 878.85,289.71 880.14,290.59 881.44,291.46 882.73,292.34 884.02,293.23 885.31,294.11 886.61,295.00 887.90,295.89 889.19,296.78 890.49,297.67 891.78,298.57 893.07,299.47 894.36,300.36 895.66,301.27 896.95,302.17 898.24,303.07 899.54,303.98 900.83,304.88 902.12,305.79 903.41,306.70 904.71,307.61 906.00,308.53 907.29,309.44 908.59,310.35 909.88,311.27 911.17,312.19 912.46,313.10 913.76,314.02 915.05,314.94 916.34,315.86 917.64,316.78 918.93,317.71 920.22,318.63 921.51,319.55 922.81,320.48 924.10,321.40 925.39,322.33 926.69,323.26 927.98,324.18 929.27,325.11 930.56,326.04 931.86,326.97 933.15,327.90 934.44,328.83 935.74,329.76 937.03,330.69 938.32,331.62 939.61,332.55 940.91,333.49 942.20,334.42 943.49,335.35 944.79,336.29 946.08,337.22 947.37,338.15 948.66,339.09 949.96,340.02 951.25,340.96 952.54,341.89 953.84,342.83 955.13,343.76 956.42,344.70 957.71,345.64 959.01,346.57 960.30,347.51 961.59,348.44 962.89,349.38 964.18,350.32 965.47,351.26 966.76,352.19 968.06,353.13 969.35,354.07 970.64,355.01 971.94,355.94 973.23,356.88 974.52,357.82 975.81,358.76 977.11,359.70 978.40,360.64 979.69,361.57 980.99,362.51 982.28,363.45 983.57,364.39 984.86,365.33 986.16,366.27 987.45,367.21 988.74,368.15 990.04,369.09 991.33,370.03 992.62,370.97 993.91,371.90 995.21,372.84 996.50,373.78 997.79,374.72 999.09,375.66 1000.38,376.60 1001.67,377.54 1002.96,378.48 1004.26,379.42 1005.55,380.36 1006.84,381.30 1008.14,382.24 1009.43,383.18 1010.72,384.12 1012.01,385.06 1013.31,386.00 1014.60,386.94 1015.89,387.88 1017.19,388.82 1018.48,389.76 1019.77,390.70 1021.06,391.64 1022.36,392.59 1023.65,393.53 1024.94,394.47 1026.24,395.41 1027.53,396.35 1028.82,397.29 1030.11,398.23 1031.41,399.17 1032.70,400.11 1033.99,401.05 1035.29,401.99 1036.58,402.93 1037.87,403.87 1039.16,404.81 1040.46,405.75 1041.75,406.69 1043.04,407.63 1044.34,408.57 1045.63,409.51 1046.92,410.46 1048.21,411.40 1049.51,412.34 1050.80,413.28 1052.09,414.22 1053.39,415.16 1054.68,416.10 1055.97,417.04 1057.26,417.98 1058.56,418.92 1059.85,419.86 1061.14,420.80 1062.44,421.74 1063.73,422.68 1065.02,423.62 1066.31,424.57 1067.61,425.51 1068.90,426.45 1070.19,427.39 1071.49,428.33 1072.78,429.27 1074.07,430.21 1075.36,431.15 1076.66,432.09 1077.95,433.03 1079.24,433.97 1080.54,434.91 1081.83,435.85 1083.12,436.80 1084.41,437.74 1085.71,438.68 1087.00,439.62" fill="none" stroke="#0000ff" stroke-width="1.5" stroke-linejoin="round" stroke-linecap="square" clip-path="url(#c1)"/><g fill="#606060"><rect x="220.22" y="491.62" width="1.4" height="1.4"/><rect x="220.22" y="504.50" width="1.4" height="1.4"/><rect x="220.22" y="517.38" width="1.4" height="1.4"/><rect x="220.22" y="530.25" width="1.4" height="1.4"/><rect x="220.22" y="543.12" width="1.4" height="1.4"/><rect x="220.22" y="556.00" width="1.4" height="1.4"/><rect x="220.22" y="568.88" width="1.4" height="1.4"/><rect x="220.22" y="581.75" width="1.4" height="1.4"/><rect x="220.22" y="594.62" width="1.4" height="1.4"/><rect x="220.22" y="607.50" width="1.4" height="1.4"/><rect x="220.22" y="620.38" width="1.4" height="1.4"/><rect x="220.22" y="633.25" width="1.4" height="1.4"/><rect x="220.22" y="646.12" width="1.4" height="1.4"/><rect x="220.22" y="659.00" width="1.4" height="1.4"/><rect x="220.22" y="671.88" width="1.4" height="1.4"/><rect x="220.22" y="684.75" width="1.4" height="1.4"/><rect x="220.22" y="697.62" width="1.4" height="1.4"/><rect x="220.22" y="710.50" width="1.4" height="1.4"/><rect x="220.22" y="723.38" width="1.4" height="1.4"/><rect x="220.22" y="736.25" width="1.4" height="1.4"/><rect x="220.22" y="749.12" width="1.4" height="1.4"/><rect x="220.22" y="762.00" width="1.4" height="1.4"/><rect x="220.22" y="774.88" width="1.4" height="1.4"/><rect x="220.22" y="787.75" width="1.4" height="1.4"/><rect x="242.98" y="491.62" width="1.4" height="1.4"/><rect x="242.98" y="504.50" width="1.4" height="1.4"/><rect x="242.98" y="517.38" width="1.4" height="1.4"/><rect x="242.98" y="530.25" width="1.4" height="1.4"/><rect x="242.98" y="543.12" width="1.4" height="1.4"/><rect x="242.98" y="556.00" width="1.4" height="1.4"/><rect x="242.98" y="568.88" width="1.4" height="1.4"/><rect x="242.98" y="581.75" width="1.4" height="1.4"/><rect x="242.98" y="594.62" width="1.4" height="1.4"/><rect x="242.98" y="607.50" width="1.4" height="1.4"/><rect x="242.98" y="620.38" width="1.4" height="1.4"/><rect x="242.98" y="633.25" width="1.4" height="1.4"/><rect x="242.98" y="646.12" width="1.4" height="1.4"/><rect x="242.98" y="659.00" width="1.4" height="1.4"/><rect x="242.98" y="671.88" width="1.4" height="1.4"/><rect x="242.98" y="684.75" width="1.4" height="1.4"/><rect x="242.98" y="697.62" width="1.4" height="1.4"/><rect x="242.98" y="710.50" width="1.4" height="1.4"/><rect x="242.98" y="723.38" width="1.4" height="1.4"/><rect x="242.98" y="736.25" width="1.4" height="1.4"/><rect x="242.98" y="749.12" width="1.4" height="1.4"/><rect x="242.98" y="762.00" width="1.4" height="1.4"/><rect x="242.98" y="774.88" width="1.4" height="1.4"/><rect x="242.98" y="787.75" width="1.4" height="1.4"/><rect x="259.14" y="491.62" width="1.4" height="1.4"/><rect x="259.14" y="504.50" width="1.4" height="1.4"/><rect x="259.14" y="517.38" width="1.4" height="1.4"/><rect x="259.14" y="530.25" width="1.4" height="1.4"/><rect x="259.14" y="543.12" width="1.4" height="1.4"/><rect x="259.14" y="556.00" width="1.4" height="1.4"/><rect x="259.14" y="568.88" width="1.4" height="1.4"/><rect x="259.14" y="581.75" width="1.4" height="1.4"/><rect x="259.14" y="594.62" width="1.4" height="1.4"/><rect x="259.14" y="607.50" width="1.4" height="1.4"/><rect x="259.14" y="620.38" width="1.4" height="1.4"/><rect x="259.14" y="633.25" width="1.4" height="1.4"/><rect x="259.14" y="646.12" width="1.4" height="1.4"/><rect x="259.14" y="659.00" width="1.4" height="1.4"/><rect x="259.14" y="671.88" width="1.4" height="1.4"/><rect x="259.14" y="684.75" width="1.4" height="1.4"/><rect x="259.14" y="697.62" width="1.4" height="1.4"/><rect x="259.14" y="710.50" width="1.4" height="1.4"/><rect x="259.14" y="723.38" width="1.4" height="1.4"/><rect x="259.14" y="736.25" width="1.4" height="1.4"/><rect x="259.14" y="749.12" width="1.4" height="1.4"/><rect x="259.14" y="762.00" width="1.4" height="1.4"/><rect x="259.14" y="774.88" width="1.4" height="1.4"/><rect x="259.14" y="787.75" width="1.4" height="1.4"/><rect x="271.67" y="491.62" width="1.4" height="1.4"/><rect x="271.67" y="504.50" width="1.4" height="1.4"/><rect x="271.67" y="517.38" width="1.4" height="1.4"/><rect x="271.67" y="530.25" width="1.4" height="1.4"/><rect x="271.67" y="543.12" width="1.4" height="1.4"/><rect x="271.67" y="556.00" width="1.4" height="1.4"/><rect x="271.67" y="568.88" width="1.4" height="1.4"/><rect x="271.67" y="581.75" width="1.4" height="1.4"/><rect x="271.67" y="594.62" width="1.4" height="1.4"/><rect x="271.67" y="607.50" width="1.4" height="1.4"/><rect x="271.67" y="620.38" width="1.4" height="1.4"/><rect x="271.67" y="633.25" width="1.4" height="1.4"/><rect x="271.67" y="646.12" width="1.4" height="1.4"/><rect x="271.67" y="659.00" width="1.4" height="1.4"/><rect x="271.67" y="671.88" width="1.4" height="1.4"/><rect x="271.67" y="684.75" width="1.4" height="1.4"/><rect x="271.67" y="697.62" width="1.4" height="1.4"/><rect x="271.67" y="710.50" width="1.4" height="1.4"/><rect x="271.67" y="723.38" width="1.4" height="1.4"/><rect x="271.67" y="736.25" width="1.4" height="1.4"/><rect x="271.67" y="749.12" width="1.4" height="1.4"/><rect x="271.67" y="762.00" width="1.4" height="1.4"/><rect x="271.67" y="774.88" width="1.4" height="1.4"/><rect x="271.67" y="787.75" width="1.4" height="1.4"/><rect x="281.90" y="491.62" width="1.4" height="1.4"/><rect x="281.90" y="504.50" width="1.4" height="1.4"/><rect x="281.90" y="517.38" width="1.4" height="1.4"/><rect x="281.90" y="530.25" width="1.4" height="1.4"/><rect x="281.90" y="543.12" width="1.4" height="1.4"/><rect x="281.90" y="556.00" width="1.4" height="1.4"/><rect x="281.90" y="568.88" width="1.4" height="1.4"/><rect x="281.90" y="581.75" width="1.4" height="1.4"/><rect x="281.90" y="594.62" width="1.4" height="1.4"/><rect x="281.90" y="607.50" width="1.4" height="1.4"/><rect x="281.90" y="620.38" width="1.4" height="1.4"/><rect x="281.90" y="633.25" width="1.4" height="1.4"/><rect x="281.90" y="646.12" width="1.4" height="1.4"/><rect x="281.90" y="659.00" width="1.4" height="1.4"/><rect x="281.90" y="671.88" width="1.4" height="1.4"/><rect x="281.90" y="684.75" width="1.4" height="1.4"/><rect x="281.90" y="697.62" width="1.4" height="1.4"/><rect x="281.90" y="710.50" width="1.4" height="1.4"/><rect x="281.90" y="723.38" width="1.4" height="1.4"/><rect x="281.90" y="736.25" width="1.4" height="1.4"/><rect x="281.90" y="749.12" width="1.4" height="1.4"/><rect x="281.90" y="762.00" width="1.4" height="1.4"/><rect x="281.90" y="774.88" width="1.4" height="1.4"/><rect x="281.90" y="787.75" width="1.4" height="1.4"/><rect x="290.56" y="491.62" width="1.4" height="1.4"/><rect x="290.56" y="504.50" width="1.4" height="1.4"/><rect x="290.56" y="517.38" width="1.4" height="1.4"/><rect x="290.56" y="530.25" width="1.4" height="1.4"/><rect x="290.56" y="543.12" width="1.4" height="1.4"/><rect x="290.56" y="556.00" width="1.4" height="1.4"/><rect x="290.56" y="568.88" width="1.4" height="1.4"/><rect x="290.56" y="581.75" width="1.4" height="1.4"/><rect x="290.56" y="594.62" width="1.4" height="1.4"/><rect x="290.56" y="607.50" width="1.4" height="1.4"/><rect x="290.56" y="620.38" width="1.4" height="1.4"/><rect x="290.56" y="633.25" width="1.4" height="1.4"/><rect x="290.56" y="646.12" width="1.4" height="1.4"/><rect x="290.56" y="659.00" width="1.4" height="1.4"/><rect x="290.56" y="671.88" width="1.4" height="1.4"/><rect x="290.56" y="684.75" width="1.4" height="1.4"/><rect x="290.56" y="697.62" width="1.4" height="1.4"/><rect x="290.56" y="710.50" width="1.4" height="1.4"/><rect x="290.56" y="723.38" width="1.4" height="1.4"/><rect x="290.56" y="736.25" width="1.4" height="1.4"/><rect x="290.56" y="749.12" width="1.4" height="1.4"/><rect x="290.56" y="762.00" width="1.4" height="1.4"/><rect x="290.56" y="774.88" width="1.4" height="1.4"/><rect x="290.56" y="787.75" width="1.4" height="1.4"/><rect x="298.06" y="491.62" width="1.4" height="1.4"/><rect x="298.06" y="504.50" width="1.4" height="1.4"/><rect x="298.06" y="517.38" width="1.4" height="1.4"/><rect x="298.06" y="530.25" width="1.4" height="1.4"/><rect x="298.06" y="543.12" width="1.4" height="1.4"/><rect x="298.06" y="556.00" width="1.4" height="1.4"/><rect x="298.06" y="568.88" width="1.4" height="1.4"/><rect x="298.06" y="581.75" width="1.4" height="1.4"/><rect x="298.06" y="594.62" width="1.4" height="1.4"/><rect x="298.06" y="607.50" width="1.4" height="1.4"/><rect x="298.06" y="620.38" width="1.4" height="1.4"/><rect x="298.06" y="633.25" width="1.4" height="1.4"/><rect x="298.06" y="646.12" width="1.4" height="1.4"/><rect x="298.06" y="659.00" width="1.4" height="1.4"/><rect x="298.06" y="671.88" width="1.4" height="1.4"/><rect x="298.06" y="684.75" width="1.4" height="1.4"/><rect x="298.06" y="697.62" width="1.4" height="1.4"/><rect x="298.06" y="710.50" width="1.4" height="1.4"/><rect x="298.06" y="723.38" width="1.4" height="1.4"/><rect x="298.06" y="736.25" width="1.4" height="1.4"/><rect x="298.06" y="749.12" width="1.4" height="1.4"/><rect x="298.06" y="762.00" width="1.4" height="1.4"/><rect x="298.06" y="774.88" width="1.4" height="1.4"/><rect x="298.06" y="787.75" width="1.4" height="1.4"/><rect x="304.67" y="491.62" width="1.4" height="1.4"/><rect x="304.67" y="504.50" width="1.4" height="1.4"/><rect x="304.67" y="517.38" width="1.4" height="1.4"/><rect x="304.67" y="530.25" width="1.4" height="1.4"/><rect x="304.67" y="543.12" width="1.4" height="1.4"/><rect x="304.67" y="556.00" width="1.4" height="1.4"/><rect x="304.67" y="568.88" width="1.4" height="1.4"/><rect x="304.67" y="581.75" width="1.4" height="1.4"/><rect x="304.67" y="594.62" width="1.4" height="1.4"/><rect x="304.67" y="607.50" width="1.4" height="1.4"/><rect x="304.67" y="620.38" width="1.4" height="1.4"/><rect x="304.67" y="633.25" width="1.4" height="1.4"/><rect x="304.67" y="646.12" width="1.4" height="1.4"/><rect x="304.67" y="659.00" width="1.4" height="1.4"/><rect x="304.67" y="671.88" width="1.4" height="1.4"/><rect x="304.67" y="684.75" width="1.4" height="1.4"/><rect x="304.67" y="697.62" width="1.4" height="1.4"/><rect x="304.67" y="710.50" width="1.4" height="1.4"/><rect x="304.67" y="723.38" width="1.4" height="1.4"/><rect x="304.67" y="736.25" width="1.4" height="1.4"/><rect x="304.67" y="749.12" width="1.4" height="1.4"/><rect x="304.67" y="762.00" width="1.4" height="1.4"/><rect x="304.67" y="774.88" width="1.4" height="1.4"/><rect x="304.67" y="787.75" width="1.4" height="1.4"/><rect x="310.44" y="491.60" width="1.7" height="1.45" fill="#5a5a5a"/><rect x="310.44" y="504.48" width="1.7" height="1.45" fill="#5a5a5a"/><rect x="310.44" y="517.36" width="1.7" height="1.45" fill="#5a5a5a"/><rect x="310.44" y="530.23" width="1.7" height="1.45" fill="#5a5a5a"/><rect x="310.44" y="543.11" width="1.7" height="1.45" fill="#5a5a5a"/><rect x="310.44" y="555.98" width="1.7" height="1.45" fill="#5a5a5a"/><rect x="310.44" y="568.86" width="1.7" height="1.45" fill="#5a5a5a"/><rect x="310.44" y="581.73" width="1.7" height="1.45" fill="#5a5a5a"/><rect x="310.44" y="594.61" width="1.7" height="1.45" fill="#5a5a5a"/><rect x="310.44" y="607.48" width="1.7" height="1.45" fill="#5a5a5a"/><rect x="310.44" y="620.36" width="1.7" height="1.45" fill="#5a5a5a"/><rect x="310.44" y="633.23" width="1.7" height="1.45" fill="#5a5a5a"/><rect x="310.44" y="646.11" width="1.7" height="1.45" fill="#5a5a5a"/><rect x="310.44" y="658.98" width="1.7" height="1.45" fill="#5a5a5a"/><rect x="310.44" y="671.86" width="1.7" height="1.45" fill="#5a5a5a"/><rect x="310.44" y="684.73" width="1.7" height="1.45" fill="#5a5a5a"/><rect x="310.44" y="697.61" width="1.7" height="1.45" fill="#5a5a5a"/><rect x="310.44" y="710.48" width="1.7" height="1.45" fill="#5a5a5a"/><rect x="310.44" y="723.36" width="1.7" height="1.45" fill="#5a5a5a"/><rect x="310.44" y="736.23" width="1.7" height="1.45" fill="#5a5a5a"/><rect x="310.44" y="749.11" width="1.7" height="1.45" fill="#5a5a5a"/><rect x="310.44" y="761.98" width="1.7" height="1.45" fill="#5a5a5a"/><rect x="310.44" y="774.86" width="1.7" height="1.45" fill="#5a5a5a"/><rect x="310.44" y="787.73" width="1.7" height="1.45" fill="#5a5a5a"/><rect x="349.50" y="491.62" width="1.4" height="1.4"/><rect x="349.50" y="504.50" width="1.4" height="1.4"/><rect x="349.50" y="517.38" width="1.4" height="1.4"/><rect x="349.50" y="530.25" width="1.4" height="1.4"/><rect x="349.50" y="543.12" width="1.4" height="1.4"/><rect x="349.50" y="556.00" width="1.4" height="1.4"/><rect x="349.50" y="568.88" width="1.4" height="1.4"/><rect x="349.50" y="581.75" width="1.4" height="1.4"/><rect x="349.50" y="594.62" width="1.4" height="1.4"/><rect x="349.50" y="607.50" width="1.4" height="1.4"/><rect x="349.50" y="620.38" width="1.4" height="1.4"/><rect x="349.50" y="633.25" width="1.4" height="1.4"/><rect x="349.50" y="646.12" width="1.4" height="1.4"/><rect x="349.50" y="659.00" width="1.4" height="1.4"/><rect x="349.50" y="671.88" width="1.4" height="1.4"/><rect x="349.50" y="684.75" width="1.4" height="1.4"/><rect x="349.50" y="697.62" width="1.4" height="1.4"/><rect x="349.50" y="710.50" width="1.4" height="1.4"/><rect x="349.50" y="723.38" width="1.4" height="1.4"/><rect x="349.50" y="736.25" width="1.4" height="1.4"/><rect x="349.50" y="749.12" width="1.4" height="1.4"/><rect x="349.50" y="762.00" width="1.4" height="1.4"/><rect x="349.50" y="774.88" width="1.4" height="1.4"/><rect x="349.50" y="787.75" width="1.4" height="1.4"/><rect x="372.27" y="491.62" width="1.4" height="1.4"/><rect x="372.27" y="504.50" width="1.4" height="1.4"/><rect x="372.27" y="517.38" width="1.4" height="1.4"/><rect x="372.27" y="530.25" width="1.4" height="1.4"/><rect x="372.27" y="543.12" width="1.4" height="1.4"/><rect x="372.27" y="556.00" width="1.4" height="1.4"/><rect x="372.27" y="568.88" width="1.4" height="1.4"/><rect x="372.27" y="581.75" width="1.4" height="1.4"/><rect x="372.27" y="594.62" width="1.4" height="1.4"/><rect x="372.27" y="607.50" width="1.4" height="1.4"/><rect x="372.27" y="620.38" width="1.4" height="1.4"/><rect x="372.27" y="633.25" width="1.4" height="1.4"/><rect x="372.27" y="646.12" width="1.4" height="1.4"/><rect x="372.27" y="659.00" width="1.4" height="1.4"/><rect x="372.27" y="671.88" width="1.4" height="1.4"/><rect x="372.27" y="684.75" width="1.4" height="1.4"/><rect x="372.27" y="697.62" width="1.4" height="1.4"/><rect x="372.27" y="710.50" width="1.4" height="1.4"/><rect x="372.27" y="723.38" width="1.4" height="1.4"/><rect x="372.27" y="736.25" width="1.4" height="1.4"/><rect x="372.27" y="749.12" width="1.4" height="1.4"/><rect x="372.27" y="762.00" width="1.4" height="1.4"/><rect x="372.27" y="774.88" width="1.4" height="1.4"/><rect x="372.27" y="787.75" width="1.4" height="1.4"/><rect x="388.42" y="491.62" width="1.4" height="1.4"/><rect x="388.42" y="504.50" width="1.4" height="1.4"/><rect x="388.42" y="517.38" width="1.4" height="1.4"/><rect x="388.42" y="530.25" width="1.4" height="1.4"/><rect x="388.42" y="543.12" width="1.4" height="1.4"/><rect x="388.42" y="556.00" width="1.4" height="1.4"/><rect x="388.42" y="568.88" width="1.4" height="1.4"/><rect x="388.42" y="581.75" width="1.4" height="1.4"/><rect x="388.42" y="594.62" width="1.4" height="1.4"/><rect x="388.42" y="607.50" width="1.4" height="1.4"/><rect x="388.42" y="620.38" width="1.4" height="1.4"/><rect x="388.42" y="633.25" width="1.4" height="1.4"/><rect x="388.42" y="646.12" width="1.4" height="1.4"/><rect x="388.42" y="659.00" width="1.4" height="1.4"/><rect x="388.42" y="671.88" width="1.4" height="1.4"/><rect x="388.42" y="684.75" width="1.4" height="1.4"/><rect x="388.42" y="697.62" width="1.4" height="1.4"/><rect x="388.42" y="710.50" width="1.4" height="1.4"/><rect x="388.42" y="723.38" width="1.4" height="1.4"/><rect x="388.42" y="736.25" width="1.4" height="1.4"/><rect x="388.42" y="749.12" width="1.4" height="1.4"/><rect x="388.42" y="762.00" width="1.4" height="1.4"/><rect x="388.42" y="774.88" width="1.4" height="1.4"/><rect x="388.42" y="787.75" width="1.4" height="1.4"/><rect x="400.95" y="491.62" width="1.4" height="1.4"/><rect x="400.95" y="504.50" width="1.4" height="1.4"/><rect x="400.95" y="517.38" width="1.4" height="1.4"/><rect x="400.95" y="530.25" width="1.4" height="1.4"/><rect x="400.95" y="543.12" width="1.4" height="1.4"/><rect x="400.95" y="556.00" width="1.4" height="1.4"/><rect x="400.95" y="568.88" width="1.4" height="1.4"/><rect x="400.95" y="581.75" width="1.4" height="1.4"/><rect x="400.95" y="594.62" width="1.4" height="1.4"/><rect x="400.95" y="607.50" width="1.4" height="1.4"/><rect x="400.95" y="620.38" width="1.4" height="1.4"/><rect x="400.95" y="633.25" width="1.4" height="1.4"/><rect x="400.95" y="646.12" width="1.4" height="1.4"/><rect x="400.95" y="659.00" width="1.4" height="1.4"/><rect x="400.95" y="671.88" width="1.4" height="1.4"/><rect x="400.95" y="684.75" width="1.4" height="1.4"/><rect x="400.95" y="697.62" width="1.4" height="1.4"/><rect x="400.95" y="710.50" width="1.4" height="1.4"/><rect x="400.95" y="723.38" width="1.4" height="1.4"/><rect x="400.95" y="736.25" width="1.4" height="1.4"/><rect x="400.95" y="749.12" width="1.4" height="1.4"/><rect x="400.95" y="762.00" width="1.4" height="1.4"/><rect x="400.95" y="774.88" width="1.4" height="1.4"/><rect x="400.95" y="787.75" width="1.4" height="1.4"/><rect x="411.19" y="491.62" width="1.4" height="1.4"/><rect x="411.19" y="504.50" width="1.4" height="1.4"/><rect x="411.19" y="517.38" width="1.4" height="1.4"/><rect x="411.19" y="530.25" width="1.4" height="1.4"/><rect x="411.19" y="543.12" width="1.4" height="1.4"/><rect x="411.19" y="556.00" width="1.4" height="1.4"/><rect x="411.19" y="568.88" width="1.4" height="1.4"/><rect x="411.19" y="581.75" width="1.4" height="1.4"/><rect x="411.19" y="594.62" width="1.4" height="1.4"/><rect x="411.19" y="607.50" width="1.4" height="1.4"/><rect x="411.19" y="620.38" width="1.4" height="1.4"/><rect x="411.19" y="633.25" width="1.4" height="1.4"/><rect x="411.19" y="646.12" width="1.4" height="1.4"/><rect x="411.19" y="659.00" width="1.4" height="1.4"/><rect x="411.19" y="671.88" width="1.4" height="1.4"/><rect x="411.19" y="684.75" width="1.4" height="1.4"/><rect x="411.19" y="697.62" width="1.4" height="1.4"/><rect x="411.19" y="710.50" width="1.4" height="1.4"/><rect x="411.19" y="723.38" width="1.4" height="1.4"/><rect x="411.19" y="736.25" width="1.4" height="1.4"/><rect x="411.19" y="749.12" width="1.4" height="1.4"/><rect x="411.19" y="762.00" width="1.4" height="1.4"/><rect x="411.19" y="774.88" width="1.4" height="1.4"/><rect x="411.19" y="787.75" width="1.4" height="1.4"/><rect x="419.84" y="491.62" width="1.4" height="1.4"/><rect x="419.84" y="504.50" width="1.4" height="1.4"/><rect x="419.84" y="517.38" width="1.4" height="1.4"/><rect x="419.84" y="530.25" width="1.4" height="1.4"/><rect x="419.84" y="543.12" width="1.4" height="1.4"/><rect x="419.84" y="556.00" width="1.4" height="1.4"/><rect x="419.84" y="568.88" width="1.4" height="1.4"/><rect x="419.84" y="581.75" width="1.4" height="1.4"/><rect x="419.84" y="594.62" width="1.4" height="1.4"/><rect x="419.84" y="607.50" width="1.4" height="1.4"/><rect x="419.84" y="620.38" width="1.4" height="1.4"/><rect x="419.84" y="633.25" width="1.4" height="1.4"/><rect x="419.84" y="646.12" width="1.4" height="1.4"/><rect x="419.84" y="659.00" width="1.4" height="1.4"/><rect x="419.84" y="671.88" width="1.4" height="1.4"/><rect x="419.84" y="684.75" width="1.4" height="1.4"/><rect x="419.84" y="697.62" width="1.4" height="1.4"/><rect x="419.84" y="710.50" width="1.4" height="1.4"/><rect x="419.84" y="723.38" width="1.4" height="1.4"/><rect x="419.84" y="736.25" width="1.4" height="1.4"/><rect x="419.84" y="749.12" width="1.4" height="1.4"/><rect x="419.84" y="762.00" width="1.4" height="1.4"/><rect x="419.84" y="774.88" width="1.4" height="1.4"/><rect x="419.84" y="787.75" width="1.4" height="1.4"/><rect x="427.34" y="491.62" width="1.4" height="1.4"/><rect x="427.34" y="504.50" width="1.4" height="1.4"/><rect x="427.34" y="517.38" width="1.4" height="1.4"/><rect x="427.34" y="530.25" width="1.4" height="1.4"/><rect x="427.34" y="543.12" width="1.4" height="1.4"/><rect x="427.34" y="556.00" width="1.4" height="1.4"/><rect x="427.34" y="568.88" width="1.4" height="1.4"/><rect x="427.34" y="581.75" width="1.4" height="1.4"/><rect x="427.34" y="594.62" width="1.4" height="1.4"/><rect x="427.34" y="607.50" width="1.4" height="1.4"/><rect x="427.34" y="620.38" width="1.4" height="1.4"/><rect x="427.34" y="633.25" width="1.4" height="1.4"/><rect x="427.34" y="646.12" width="1.4" height="1.4"/><rect x="427.34" y="659.00" width="1.4" height="1.4"/><rect x="427.34" y="671.88" width="1.4" height="1.4"/><rect x="427.34" y="684.75" width="1.4" height="1.4"/><rect x="427.34" y="697.62" width="1.4" height="1.4"/><rect x="427.34" y="710.50" width="1.4" height="1.4"/><rect x="427.34" y="723.38" width="1.4" height="1.4"/><rect x="427.34" y="736.25" width="1.4" height="1.4"/><rect x="427.34" y="749.12" width="1.4" height="1.4"/><rect x="427.34" y="762.00" width="1.4" height="1.4"/><rect x="427.34" y="774.88" width="1.4" height="1.4"/><rect x="427.34" y="787.75" width="1.4" height="1.4"/><rect x="433.96" y="491.62" width="1.4" height="1.4"/><rect x="433.96" y="504.50" width="1.4" height="1.4"/><rect x="433.96" y="517.38" width="1.4" height="1.4"/><rect x="433.96" y="530.25" width="1.4" height="1.4"/><rect x="433.96" y="543.12" width="1.4" height="1.4"/><rect x="433.96" y="556.00" width="1.4" height="1.4"/><rect x="433.96" y="568.88" width="1.4" height="1.4"/><rect x="433.96" y="581.75" width="1.4" height="1.4"/><rect x="433.96" y="594.62" width="1.4" height="1.4"/><rect x="433.96" y="607.50" width="1.4" height="1.4"/><rect x="433.96" y="620.38" width="1.4" height="1.4"/><rect x="433.96" y="633.25" width="1.4" height="1.4"/><rect x="433.96" y="646.12" width="1.4" height="1.4"/><rect x="433.96" y="659.00" width="1.4" height="1.4"/><rect x="433.96" y="671.88" width="1.4" height="1.4"/><rect x="433.96" y="684.75" width="1.4" height="1.4"/><rect x="433.96" y="697.62" width="1.4" height="1.4"/><rect x="433.96" y="710.50" width="1.4" height="1.4"/><rect x="433.96" y="723.38" width="1.4" height="1.4"/><rect x="433.96" y="736.25" width="1.4" height="1.4"/><rect x="433.96" y="749.12" width="1.4" height="1.4"/><rect x="433.96" y="762.00" width="1.4" height="1.4"/><rect x="433.96" y="774.88" width="1.4" height="1.4"/><rect x="433.96" y="787.75" width="1.4" height="1.4"/><rect x="439.72" y="491.60" width="1.7" height="1.45" fill="#5a5a5a"/><rect x="439.72" y="504.48" width="1.7" height="1.45" fill="#5a5a5a"/><rect x="439.72" y="517.36" width="1.7" height="1.45" fill="#5a5a5a"/><rect x="439.72" y="530.23" width="1.7" height="1.45" fill="#5a5a5a"/><rect x="439.72" y="543.11" width="1.7" height="1.45" fill="#5a5a5a"/><rect x="439.72" y="555.98" width="1.7" height="1.45" fill="#5a5a5a"/><rect x="439.72" y="568.86" width="1.7" height="1.45" fill="#5a5a5a"/><rect x="439.72" y="581.73" width="1.7" height="1.45" fill="#5a5a5a"/><rect x="439.72" y="594.61" width="1.7" height="1.45" fill="#5a5a5a"/><rect x="439.72" y="607.48" width="1.7" height="1.45" fill="#5a5a5a"/><rect x="439.72" y="620.36" width="1.7" height="1.45" fill="#5a5a5a"/><rect x="439.72" y="633.23" width="1.7" height="1.45" fill="#5a5a5a"/><rect x="439.72" y="646.11" width="1.7" height="1.45" fill="#5a5a5a"/><rect x="439.72" y="658.98" width="1.7" height="1.45" fill="#5a5a5a"/><rect x="439.72" y="671.86" width="1.7" height="1.45" fill="#5a5a5a"/><rect x="439.72" y="684.73" width="1.7" height="1.45" fill="#5a5a5a"/><rect x="439.72" y="697.61" width="1.7" height="1.45" fill="#5a5a5a"/><rect x="439.72" y="710.48" width="1.7" height="1.45" fill="#5a5a5a"/><rect x="439.72" y="723.36" width="1.7" height="1.45" fill="#5a5a5a"/><rect x="439.72" y="736.23" width="1.7" height="1.45" fill="#5a5a5a"/><rect x="439.72" y="749.11" width="1.7" height="1.45" fill="#5a5a5a"/><rect x="439.72" y="761.98" width="1.7" height="1.45" fill="#5a5a5a"/><rect x="439.72" y="774.86" width="1.7" height="1.45" fill="#5a5a5a"/><rect x="439.72" y="787.73" width="1.7" height="1.45" fill="#5a5a5a"/><rect x="478.79" y="491.62" width="1.4" height="1.4"/><rect x="478.79" y="504.50" width="1.4" height="1.4"/><rect x="478.79" y="517.38" width="1.4" height="1.4"/><rect x="478.79" y="530.25" width="1.4" height="1.4"/><rect x="478.79" y="543.12" width="1.4" height="1.4"/><rect x="478.79" y="556.00" width="1.4" height="1.4"/><rect x="478.79" y="568.88" width="1.4" height="1.4"/><rect x="478.79" y="581.75" width="1.4" height="1.4"/><rect x="478.79" y="594.62" width="1.4" height="1.4"/><rect x="478.79" y="607.50" width="1.4" height="1.4"/><rect x="478.79" y="620.38" width="1.4" height="1.4"/><rect x="478.79" y="633.25" width="1.4" height="1.4"/><rect x="478.79" y="646.12" width="1.4" height="1.4"/><rect x="478.79" y="659.00" width="1.4" height="1.4"/><rect x="478.79" y="671.88" width="1.4" height="1.4"/><rect x="478.79" y="684.75" width="1.4" height="1.4"/><rect x="478.79" y="697.62" width="1.4" height="1.4"/><rect x="478.79" y="710.50" width="1.4" height="1.4"/><rect x="478.79" y="723.38" width="1.4" height="1.4"/><rect x="478.79" y="736.25" width="1.4" height="1.4"/><rect x="478.79" y="749.12" width="1.4" height="1.4"/><rect x="478.79" y="762.00" width="1.4" height="1.4"/><rect x="478.79" y="774.88" width="1.4" height="1.4"/><rect x="478.79" y="787.75" width="1.4" height="1.4"/><rect x="501.56" y="491.62" width="1.4" height="1.4"/><rect x="501.56" y="504.50" width="1.4" height="1.4"/><rect x="501.56" y="517.38" width="1.4" height="1.4"/><rect x="501.56" y="530.25" width="1.4" height="1.4"/><rect x="501.56" y="543.12" width="1.4" height="1.4"/><rect x="501.56" y="556.00" width="1.4" height="1.4"/><rect x="501.56" y="568.88" width="1.4" height="1.4"/><rect x="501.56" y="581.75" width="1.4" height="1.4"/><rect x="501.56" y="594.62" width="1.4" height="1.4"/><rect x="501.56" y="607.50" width="1.4" height="1.4"/><rect x="501.56" y="620.38" width="1.4" height="1.4"/><rect x="501.56" y="633.25" width="1.4" height="1.4"/><rect x="501.56" y="646.12" width="1.4" height="1.4"/><rect x="501.56" y="659.00" width="1.4" height="1.4"/><rect x="501.56" y="671.88" width="1.4" height="1.4"/><rect x="501.56" y="684.75" width="1.4" height="1.4"/><rect x="501.56" y="697.62" width="1.4" height="1.4"/><rect x="501.56" y="710.50" width="1.4" height="1.4"/><rect x="501.56" y="723.38" width="1.4" height="1.4"/><rect x="501.56" y="736.25" width="1.4" height="1.4"/><rect x="501.56" y="749.12" width="1.4" height="1.4"/><rect x="501.56" y="762.00" width="1.4" height="1.4"/><rect x="501.56" y="774.88" width="1.4" height="1.4"/><rect x="501.56" y="787.75" width="1.4" height="1.4"/><rect x="517.71" y="491.62" width="1.4" height="1.4"/><rect x="517.71" y="504.50" width="1.4" height="1.4"/><rect x="517.71" y="517.38" width="1.4" height="1.4"/><rect x="517.71" y="530.25" width="1.4" height="1.4"/><rect x="517.71" y="543.12" width="1.4" height="1.4"/><rect x="517.71" y="556.00" width="1.4" height="1.4"/><rect x="517.71" y="568.88" width="1.4" height="1.4"/><rect x="517.71" y="581.75" width="1.4" height="1.4"/><rect x="517.71" y="594.62" width="1.4" height="1.4"/><rect x="517.71" y="607.50" width="1.4" height="1.4"/><rect x="517.71" y="620.38" width="1.4" height="1.4"/><rect x="517.71" y="633.25" width="1.4" height="1.4"/><rect x="517.71" y="646.12" width="1.4" height="1.4"/><rect x="517.71" y="659.00" width="1.4" height="1.4"/><rect x="517.71" y="671.88" width="1.4" height="1.4"/><rect x="517.71" y="684.75" width="1.4" height="1.4"/><rect x="517.71" y="697.62" width="1.4" height="1.4"/><rect x="517.71" y="710.50" width="1.4" height="1.4"/><rect x="517.71" y="723.38" width="1.4" height="1.4"/><rect x="517.71" y="736.25" width="1.4" height="1.4"/><rect x="517.71" y="749.12" width="1.4" height="1.4"/><rect x="517.71" y="762.00" width="1.4" height="1.4"/><rect x="517.71" y="774.88" width="1.4" height="1.4"/><rect x="517.71" y="787.75" width="1.4" height="1.4"/><rect x="530.24" y="491.62" width="1.4" height="1.4"/><rect x="530.24" y="504.50" width="1.4" height="1.4"/><rect x="530.24" y="517.38" width="1.4" height="1.4"/><rect x="530.24" y="530.25" width="1.4" height="1.4"/><rect x="530.24" y="543.12" width="1.4" height="1.4"/><rect x="530.24" y="556.00" width="1.4" height="1.4"/><rect x="530.24" y="568.88" width="1.4" height="1.4"/><rect x="530.24" y="581.75" width="1.4" height="1.4"/><rect x="530.24" y="594.62" width="1.4" height="1.4"/><rect x="530.24" y="607.50" width="1.4" height="1.4"/><rect x="530.24" y="620.38" width="1.4" height="1.4"/><rect x="530.24" y="633.25" width="1.4" height="1.4"/><rect x="530.24" y="646.12" width="1.4" height="1.4"/><rect x="530.24" y="659.00" width="1.4" height="1.4"/><rect x="530.24" y="671.88" width="1.4" height="1.4"/><rect x="530.24" y="684.75" width="1.4" height="1.4"/><rect x="530.24" y="697.62" width="1.4" height="1.4"/><rect x="530.24" y="710.50" width="1.4" height="1.4"/><rect x="530.24" y="723.38" width="1.4" height="1.4"/><rect x="530.24" y="736.25" width="1.4" height="1.4"/><rect x="530.24" y="749.12" width="1.4" height="1.4"/><rect x="530.24" y="762.00" width="1.4" height="1.4"/><rect x="530.24" y="774.88" width="1.4" height="1.4"/><rect x="530.24" y="787.75" width="1.4" height="1.4"/><rect x="540.48" y="491.62" width="1.4" height="1.4"/><rect x="540.48" y="504.50" width="1.4" height="1.4"/><rect x="540.48" y="517.38" width="1.4" height="1.4"/><rect x="540.48" y="530.25" width="1.4" height="1.4"/><rect x="540.48" y="543.12" width="1.4" height="1.4"/><rect x="540.48" y="556.00" width="1.4" height="1.4"/><rect x="540.48" y="568.88" width="1.4" height="1.4"/><rect x="540.48" y="581.75" width="1.4" height="1.4"/><rect x="540.48" y="594.62" width="1.4" height="1.4"/><rect x="540.48" y="607.50" width="1.4" height="1.4"/><rect x="540.48" y="620.38" width="1.4" height="1.4"/><rect x="540.48" y="633.25" width="1.4" height="1.4"/><rect x="540.48" y="646.12" width="1.4" height="1.4"/><rect x="540.48" y="659.00" width="1.4" height="1.4"/><rect x="540.48" y="671.88" width="1.4" height="1.4"/><rect x="540.48" y="684.75" width="1.4" height="1.4"/><rect x="540.48" y="697.62" width="1.4" height="1.4"/><rect x="540.48" y="710.50" width="1.4" height="1.4"/><rect x="540.48" y="723.38" width="1.4" height="1.4"/><rect x="540.48" y="736.25" width="1.4" height="1.4"/><rect x="540.48" y="749.12" width="1.4" height="1.4"/><rect x="540.48" y="762.00" width="1.4" height="1.4"/><rect x="540.48" y="774.88" width="1.4" height="1.4"/><rect x="540.48" y="787.75" width="1.4" height="1.4"/><rect x="549.13" y="491.62" width="1.4" height="1.4"/><rect x="549.13" y="504.50" width="1.4" height="1.4"/><rect x="549.13" y="517.38" width="1.4" height="1.4"/><rect x="549.13" y="530.25" width="1.4" height="1.4"/><rect x="549.13" y="543.12" width="1.4" height="1.4"/><rect x="549.13" y="556.00" width="1.4" height="1.4"/><rect x="549.13" y="568.88" width="1.4" height="1.4"/><rect x="549.13" y="581.75" width="1.4" height="1.4"/><rect x="549.13" y="594.62" width="1.4" height="1.4"/><rect x="549.13" y="607.50" width="1.4" height="1.4"/><rect x="549.13" y="620.38" width="1.4" height="1.4"/><rect x="549.13" y="633.25" width="1.4" height="1.4"/><rect x="549.13" y="646.12" width="1.4" height="1.4"/><rect x="549.13" y="659.00" width="1.4" height="1.4"/><rect x="549.13" y="671.88" width="1.4" height="1.4"/><rect x="549.13" y="684.75" width="1.4" height="1.4"/><rect x="549.13" y="697.62" width="1.4" height="1.4"/><rect x="549.13" y="710.50" width="1.4" height="1.4"/><rect x="549.13" y="723.38" width="1.4" height="1.4"/><rect x="549.13" y="736.25" width="1.4" height="1.4"/><rect x="549.13" y="749.12" width="1.4" height="1.4"/><rect x="549.13" y="762.00" width="1.4" height="1.4"/><rect x="549.13" y="774.88" width="1.4" height="1.4"/><rect x="549.13" y="787.75" width="1.4" height="1.4"/><rect x="556.63" y="491.62" width="1.4" height="1.4"/><rect x="556.63" y="504.50" width="1.4" height="1.4"/><rect x="556.63" y="517.38" width="1.4" height="1.4"/><rect x="556.63" y="530.25" width="1.4" height="1.4"/><rect x="556.63" y="543.12" width="1.4" height="1.4"/><rect x="556.63" y="556.00" width="1.4" height="1.4"/><rect x="556.63" y="568.88" width="1.4" height="1.4"/><rect x="556.63" y="581.75" width="1.4" height="1.4"/><rect x="556.63" y="594.62" width="1.4" height="1.4"/><rect x="556.63" y="607.50" width="1.4" height="1.4"/><rect x="556.63" y="620.38" width="1.4" height="1.4"/><rect x="556.63" y="633.25" width="1.4" height="1.4"/><rect x="556.63" y="646.12" width="1.4" height="1.4"/><rect x="556.63" y="659.00" width="1.4" height="1.4"/><rect x="556.63" y="671.88" width="1.4" height="1.4"/><rect x="556.63" y="684.75" width="1.4" height="1.4"/><rect x="556.63" y="697.62" width="1.4" height="1.4"/><rect x="556.63" y="710.50" width="1.4" height="1.4"/><rect x="556.63" y="723.38" width="1.4" height="1.4"/><rect x="556.63" y="736.25" width="1.4" height="1.4"/><rect x="556.63" y="749.12" width="1.4" height="1.4"/><rect x="556.63" y="762.00" width="1.4" height="1.4"/><rect x="556.63" y="774.88" width="1.4" height="1.4"/><rect x="556.63" y="787.75" width="1.4" height="1.4"/><rect x="563.24" y="491.62" width="1.4" height="1.4"/><rect x="563.24" y="504.50" width="1.4" height="1.4"/><rect x="563.24" y="517.38" width="1.4" height="1.4"/><rect x="563.24" y="530.25" width="1.4" height="1.4"/><rect x="563.24" y="543.12" width="1.4" height="1.4"/><rect x="563.24" y="556.00" width="1.4" height="1.4"/><rect x="563.24" y="568.88" width="1.4" height="1.4"/><rect x="563.24" y="581.75" width="1.4" height="1.4"/><rect x="563.24" y="594.62" width="1.4" height="1.4"/><rect x="563.24" y="607.50" width="1.4" height="1.4"/><rect x="563.24" y="620.38" width="1.4" height="1.4"/><rect x="563.24" y="633.25" width="1.4" height="1.4"/><rect x="563.24" y="646.12" width="1.4" height="1.4"/><rect x="563.24" y="659.00" width="1.4" height="1.4"/><rect x="563.24" y="671.88" width="1.4" height="1.4"/><rect x="563.24" y="684.75" width="1.4" height="1.4"/><rect x="563.24" y="697.62" width="1.4" height="1.4"/><rect x="563.24" y="710.50" width="1.4" height="1.4"/><rect x="563.24" y="723.38" width="1.4" height="1.4"/><rect x="563.24" y="736.25" width="1.4" height="1.4"/><rect x="563.24" y="749.12" width="1.4" height="1.4"/><rect x="563.24" y="762.00" width="1.4" height="1.4"/><rect x="563.24" y="774.88" width="1.4" height="1.4"/><rect x="563.24" y="787.75" width="1.4" height="1.4"/><rect x="569.01" y="491.60" width="1.7" height="1.45" fill="#5a5a5a"/><rect x="569.01" y="504.48" width="1.7" height="1.45" fill="#5a5a5a"/><rect x="569.01" y="517.36" width="1.7" height="1.45" fill="#5a5a5a"/><rect x="569.01" y="530.23" width="1.7" height="1.45" fill="#5a5a5a"/><rect x="569.01" y="543.11" width="1.7" height="1.45" fill="#5a5a5a"/><rect x="569.01" y="555.98" width="1.7" height="1.45" fill="#5a5a5a"/><rect x="569.01" y="568.86" width="1.7" height="1.45" fill="#5a5a5a"/><rect x="569.01" y="581.73" width="1.7" height="1.45" fill="#5a5a5a"/><rect x="569.01" y="594.61" width="1.7" height="1.45" fill="#5a5a5a"/><rect x="569.01" y="607.48" width="1.7" height="1.45" fill="#5a5a5a"/><rect x="569.01" y="620.36" width="1.7" height="1.45" fill="#5a5a5a"/><rect x="569.01" y="633.23" width="1.7" height="1.45" fill="#5a5a5a"/><rect x="569.01" y="646.11" width="1.7" height="1.45" fill="#5a5a5a"/><rect x="569.01" y="658.98" width="1.7" height="1.45" fill="#5a5a5a"/><rect x="569.01" y="671.86" width="1.7" height="1.45" fill="#5a5a5a"/><rect x="569.01" y="684.73" width="1.7" height="1.45" fill="#5a5a5a"/><rect x="569.01" y="697.61" width="1.7" height="1.45" fill="#5a5a5a"/><rect x="569.01" y="710.48" width="1.7" height="1.45" fill="#5a5a5a"/><rect x="569.01" y="723.36" width="1.7" height="1.45" fill="#5a5a5a"/><rect x="569.01" y="736.23" width="1.7" height="1.45" fill="#5a5a5a"/><rect x="569.01" y="749.11" width="1.7" height="1.45" fill="#5a5a5a"/><rect x="569.01" y="761.98" width="1.7" height="1.45" fill="#5a5a5a"/><rect x="569.01" y="774.86" width="1.7" height="1.45" fill="#5a5a5a"/><rect x="569.01" y="787.73" width="1.7" height="1.45" fill="#5a5a5a"/><rect x="608.08" y="491.62" width="1.4" height="1.4"/><rect x="608.08" y="504.50" width="1.4" height="1.4"/><rect x="608.08" y="517.38" width="1.4" height="1.4"/><rect x="608.08" y="530.25" width="1.4" height="1.4"/><rect x="608.08" y="543.12" width="1.4" height="1.4"/><rect x="608.08" y="556.00" width="1.4" height="1.4"/><rect x="608.08" y="568.88" width="1.4" height="1.4"/><rect x="608.08" y="581.75" width="1.4" height="1.4"/><rect x="608.08" y="594.62" width="1.4" height="1.4"/><rect x="608.08" y="607.50" width="1.4" height="1.4"/><rect x="608.08" y="620.38" width="1.4" height="1.4"/><rect x="608.08" y="633.25" width="1.4" height="1.4"/><rect x="608.08" y="646.12" width="1.4" height="1.4"/><rect x="608.08" y="659.00" width="1.4" height="1.4"/><rect x="608.08" y="671.88" width="1.4" height="1.4"/><rect x="608.08" y="684.75" width="1.4" height="1.4"/><rect x="608.08" y="697.62" width="1.4" height="1.4"/><rect x="608.08" y="710.50" width="1.4" height="1.4"/><rect x="608.08" y="723.38" width="1.4" height="1.4"/><rect x="608.08" y="736.25" width="1.4" height="1.4"/><rect x="608.08" y="749.12" width="1.4" height="1.4"/><rect x="608.08" y="762.00" width="1.4" height="1.4"/><rect x="608.08" y="774.88" width="1.4" height="1.4"/><rect x="608.08" y="787.75" width="1.4" height="1.4"/><rect x="630.84" y="491.62" width="1.4" height="1.4"/><rect x="630.84" y="504.50" width="1.4" height="1.4"/><rect x="630.84" y="517.38" width="1.4" height="1.4"/><rect x="630.84" y="530.25" width="1.4" height="1.4"/><rect x="630.84" y="543.12" width="1.4" height="1.4"/><rect x="630.84" y="556.00" width="1.4" height="1.4"/><rect x="630.84" y="568.88" width="1.4" height="1.4"/><rect x="630.84" y="581.75" width="1.4" height="1.4"/><rect x="630.84" y="594.62" width="1.4" height="1.4"/><rect x="630.84" y="607.50" width="1.4" height="1.4"/><rect x="630.84" y="620.38" width="1.4" height="1.4"/><rect x="630.84" y="633.25" width="1.4" height="1.4"/><rect x="630.84" y="646.12" width="1.4" height="1.4"/><rect x="630.84" y="659.00" width="1.4" height="1.4"/><rect x="630.84" y="671.88" width="1.4" height="1.4"/><rect x="630.84" y="684.75" width="1.4" height="1.4"/><rect x="630.84" y="697.62" width="1.4" height="1.4"/><rect x="630.84" y="710.50" width="1.4" height="1.4"/><rect x="630.84" y="723.38" width="1.4" height="1.4"/><rect x="630.84" y="736.25" width="1.4" height="1.4"/><rect x="630.84" y="749.12" width="1.4" height="1.4"/><rect x="630.84" y="762.00" width="1.4" height="1.4"/><rect x="630.84" y="774.88" width="1.4" height="1.4"/><rect x="630.84" y="787.75" width="1.4" height="1.4"/><rect x="646.99" y="491.62" width="1.4" height="1.4"/><rect x="646.99" y="504.50" width="1.4" height="1.4"/><rect x="646.99" y="517.38" width="1.4" height="1.4"/><rect x="646.99" y="530.25" width="1.4" height="1.4"/><rect x="646.99" y="543.12" width="1.4" height="1.4"/><rect x="646.99" y="556.00" width="1.4" height="1.4"/><rect x="646.99" y="568.88" width="1.4" height="1.4"/><rect x="646.99" y="581.75" width="1.4" height="1.4"/><rect x="646.99" y="594.62" width="1.4" height="1.4"/><rect x="646.99" y="607.50" width="1.4" height="1.4"/><rect x="646.99" y="620.38" width="1.4" height="1.4"/><rect x="646.99" y="633.25" width="1.4" height="1.4"/><rect x="646.99" y="646.12" width="1.4" height="1.4"/><rect x="646.99" y="659.00" width="1.4" height="1.4"/><rect x="646.99" y="671.88" width="1.4" height="1.4"/><rect x="646.99" y="684.75" width="1.4" height="1.4"/><rect x="646.99" y="697.62" width="1.4" height="1.4"/><rect x="646.99" y="710.50" width="1.4" height="1.4"/><rect x="646.99" y="723.38" width="1.4" height="1.4"/><rect x="646.99" y="736.25" width="1.4" height="1.4"/><rect x="646.99" y="749.12" width="1.4" height="1.4"/><rect x="646.99" y="762.00" width="1.4" height="1.4"/><rect x="646.99" y="774.88" width="1.4" height="1.4"/><rect x="646.99" y="787.75" width="1.4" height="1.4"/><rect x="659.52" y="491.62" width="1.4" height="1.4"/><rect x="659.52" y="504.50" width="1.4" height="1.4"/><rect x="659.52" y="517.38" width="1.4" height="1.4"/><rect x="659.52" y="530.25" width="1.4" height="1.4"/><rect x="659.52" y="543.12" width="1.4" height="1.4"/><rect x="659.52" y="556.00" width="1.4" height="1.4"/><rect x="659.52" y="568.88" width="1.4" height="1.4"/><rect x="659.52" y="581.75" width="1.4" height="1.4"/><rect x="659.52" y="594.62" width="1.4" height="1.4"/><rect x="659.52" y="607.50" width="1.4" height="1.4"/><rect x="659.52" y="620.38" width="1.4" height="1.4"/><rect x="659.52" y="633.25" width="1.4" height="1.4"/><rect x="659.52" y="646.12" width="1.4" height="1.4"/><rect x="659.52" y="659.00" width="1.4" height="1.4"/><rect x="659.52" y="671.88" width="1.4" height="1.4"/><rect x="659.52" y="684.75" width="1.4" height="1.4"/><rect x="659.52" y="697.62" width="1.4" height="1.4"/><rect x="659.52" y="710.50" width="1.4" height="1.4"/><rect x="659.52" y="723.38" width="1.4" height="1.4"/><rect x="659.52" y="736.25" width="1.4" height="1.4"/><rect x="659.52" y="749.12" width="1.4" height="1.4"/><rect x="659.52" y="762.00" width="1.4" height="1.4"/><rect x="659.52" y="774.88" width="1.4" height="1.4"/><rect x="659.52" y="787.75" width="1.4" height="1.4"/><rect x="669.76" y="491.62" width="1.4" height="1.4"/><rect x="669.76" y="504.50" width="1.4" height="1.4"/><rect x="669.76" y="517.38" width="1.4" height="1.4"/><rect x="669.76" y="530.25" width="1.4" height="1.4"/><rect x="669.76" y="543.12" width="1.4" height="1.4"/><rect x="669.76" y="556.00" width="1.4" height="1.4"/><rect x="669.76" y="568.88" width="1.4" height="1.4"/><rect x="669.76" y="581.75" width="1.4" height="1.4"/><rect x="669.76" y="594.62" width="1.4" height="1.4"/><rect x="669.76" y="607.50" width="1.4" height="1.4"/><rect x="669.76" y="620.38" width="1.4" height="1.4"/><rect x="669.76" y="633.25" width="1.4" height="1.4"/><rect x="669.76" y="646.12" width="1.4" height="1.4"/><rect x="669.76" y="659.00" width="1.4" height="1.4"/><rect x="669.76" y="671.88" width="1.4" height="1.4"/><rect x="669.76" y="684.75" width="1.4" height="1.4"/><rect x="669.76" y="697.62" width="1.4" height="1.4"/><rect x="669.76" y="710.50" width="1.4" height="1.4"/><rect x="669.76" y="723.38" width="1.4" height="1.4"/><rect x="669.76" y="736.25" width="1.4" height="1.4"/><rect x="669.76" y="749.12" width="1.4" height="1.4"/><rect x="669.76" y="762.00" width="1.4" height="1.4"/><rect x="669.76" y="774.88" width="1.4" height="1.4"/><rect x="669.76" y="787.75" width="1.4" height="1.4"/><rect x="678.42" y="491.62" width="1.4" height="1.4"/><rect x="678.42" y="504.50" width="1.4" height="1.4"/><rect x="678.42" y="517.38" width="1.4" height="1.4"/><rect x="678.42" y="530.25" width="1.4" height="1.4"/><rect x="678.42" y="543.12" width="1.4" height="1.4"/><rect x="678.42" y="556.00" width="1.4" height="1.4"/><rect x="678.42" y="568.88" width="1.4" height="1.4"/><rect x="678.42" y="581.75" width="1.4" height="1.4"/><rect x="678.42" y="594.62" width="1.4" height="1.4"/><rect x="678.42" y="607.50" width="1.4" height="1.4"/><rect x="678.42" y="620.38" width="1.4" height="1.4"/><rect x="678.42" y="633.25" width="1.4" height="1.4"/><rect x="678.42" y="646.12" width="1.4" height="1.4"/><rect x="678.42" y="659.00" width="1.4" height="1.4"/><rect x="678.42" y="671.88" width="1.4" height="1.4"/><rect x="678.42" y="684.75" width="1.4" height="1.4"/><rect x="678.42" y="697.62" width="1.4" height="1.4"/><rect x="678.42" y="710.50" width="1.4" height="1.4"/><rect x="678.42" y="723.38" width="1.4" height="1.4"/><rect x="678.42" y="736.25" width="1.4" height="1.4"/><rect x="678.42" y="749.12" width="1.4" height="1.4"/><rect x="678.42" y="762.00" width="1.4" height="1.4"/><rect x="678.42" y="774.88" width="1.4" height="1.4"/><rect x="678.42" y="787.75" width="1.4" height="1.4"/><rect x="685.91" y="491.62" width="1.4" height="1.4"/><rect x="685.91" y="504.50" width="1.4" height="1.4"/><rect x="685.91" y="517.38" width="1.4" height="1.4"/><rect x="685.91" y="530.25" width="1.4" height="1.4"/><rect x="685.91" y="543.12" width="1.4" height="1.4"/><rect x="685.91" y="556.00" width="1.4" height="1.4"/><rect x="685.91" y="568.88" width="1.4" height="1.4"/><rect x="685.91" y="581.75" width="1.4" height="1.4"/><rect x="685.91" y="594.62" width="1.4" height="1.4"/><rect x="685.91" y="607.50" width="1.4" height="1.4"/><rect x="685.91" y="620.38" width="1.4" height="1.4"/><rect x="685.91" y="633.25" width="1.4" height="1.4"/><rect x="685.91" y="646.12" width="1.4" height="1.4"/><rect x="685.91" y="659.00" width="1.4" height="1.4"/><rect x="685.91" y="671.88" width="1.4" height="1.4"/><rect x="685.91" y="684.75" width="1.4" height="1.4"/><rect x="685.91" y="697.62" width="1.4" height="1.4"/><rect x="685.91" y="710.50" width="1.4" height="1.4"/><rect x="685.91" y="723.38" width="1.4" height="1.4"/><rect x="685.91" y="736.25" width="1.4" height="1.4"/><rect x="685.91" y="749.12" width="1.4" height="1.4"/><rect x="685.91" y="762.00" width="1.4" height="1.4"/><rect x="685.91" y="774.88" width="1.4" height="1.4"/><rect x="685.91" y="787.75" width="1.4" height="1.4"/><rect x="692.53" y="491.62" width="1.4" height="1.4"/><rect x="692.53" y="504.50" width="1.4" height="1.4"/><rect x="692.53" y="517.38" width="1.4" height="1.4"/><rect x="692.53" y="530.25" width="1.4" height="1.4"/><rect x="692.53" y="543.12" width="1.4" height="1.4"/><rect x="692.53" y="556.00" width="1.4" height="1.4"/><rect x="692.53" y="568.88" width="1.4" height="1.4"/><rect x="692.53" y="581.75" width="1.4" height="1.4"/><rect x="692.53" y="594.62" width="1.4" height="1.4"/><rect x="692.53" y="607.50" width="1.4" height="1.4"/><rect x="692.53" y="620.38" width="1.4" height="1.4"/><rect x="692.53" y="633.25" width="1.4" height="1.4"/><rect x="692.53" y="646.12" width="1.4" height="1.4"/><rect x="692.53" y="659.00" width="1.4" height="1.4"/><rect x="692.53" y="671.88" width="1.4" height="1.4"/><rect x="692.53" y="684.75" width="1.4" height="1.4"/><rect x="692.53" y="697.62" width="1.4" height="1.4"/><rect x="692.53" y="710.50" width="1.4" height="1.4"/><rect x="692.53" y="723.38" width="1.4" height="1.4"/><rect x="692.53" y="736.25" width="1.4" height="1.4"/><rect x="692.53" y="749.12" width="1.4" height="1.4"/><rect x="692.53" y="762.00" width="1.4" height="1.4"/><rect x="692.53" y="774.88" width="1.4" height="1.4"/><rect x="692.53" y="787.75" width="1.4" height="1.4"/><rect x="698.29" y="491.60" width="1.7" height="1.45" fill="#5a5a5a"/><rect x="698.29" y="504.48" width="1.7" height="1.45" fill="#5a5a5a"/><rect x="698.29" y="517.36" width="1.7" height="1.45" fill="#5a5a5a"/><rect x="698.29" y="530.23" width="1.7" height="1.45" fill="#5a5a5a"/><rect x="698.29" y="543.11" width="1.7" height="1.45" fill="#5a5a5a"/><rect x="698.29" y="555.98" width="1.7" height="1.45" fill="#5a5a5a"/><rect x="698.29" y="568.86" width="1.7" height="1.45" fill="#5a5a5a"/><rect x="698.29" y="581.73" width="1.7" height="1.45" fill="#5a5a5a"/><rect x="698.29" y="594.61" width="1.7" height="1.45" fill="#5a5a5a"/><rect x="698.29" y="607.48" width="1.7" height="1.45" fill="#5a5a5a"/><rect x="698.29" y="620.36" width="1.7" height="1.45" fill="#5a5a5a"/><rect x="698.29" y="633.23" width="1.7" height="1.45" fill="#5a5a5a"/><rect x="698.29" y="646.11" width="1.7" height="1.45" fill="#5a5a5a"/><rect x="698.29" y="658.98" width="1.7" height="1.45" fill="#5a5a5a"/><rect x="698.29" y="671.86" width="1.7" height="1.45" fill="#5a5a5a"/><rect x="698.29" y="684.73" width="1.7" height="1.45" fill="#5a5a5a"/><rect x="698.29" y="697.61" width="1.7" height="1.45" fill="#5a5a5a"/><rect x="698.29" y="710.48" width="1.7" height="1.45" fill="#5a5a5a"/><rect x="698.29" y="723.36" width="1.7" height="1.45" fill="#5a5a5a"/><rect x="698.29" y="736.23" width="1.7" height="1.45" fill="#5a5a5a"/><rect x="698.29" y="749.11" width="1.7" height="1.45" fill="#5a5a5a"/><rect x="698.29" y="761.98" width="1.7" height="1.45" fill="#5a5a5a"/><rect x="698.29" y="774.86" width="1.7" height="1.45" fill="#5a5a5a"/><rect x="698.29" y="787.73" width="1.7" height="1.45" fill="#5a5a5a"/><rect x="737.36" y="491.62" width="1.4" height="1.4"/><rect x="737.36" y="504.50" width="1.4" height="1.4"/><rect x="737.36" y="517.38" width="1.4" height="1.4"/><rect x="737.36" y="530.25" width="1.4" height="1.4"/><rect x="737.36" y="543.12" width="1.4" height="1.4"/><rect x="737.36" y="556.00" width="1.4" height="1.4"/><rect x="737.36" y="568.88" width="1.4" height="1.4"/><rect x="737.36" y="581.75" width="1.4" height="1.4"/><rect x="737.36" y="594.62" width="1.4" height="1.4"/><rect x="737.36" y="607.50" width="1.4" height="1.4"/><rect x="737.36" y="620.38" width="1.4" height="1.4"/><rect x="737.36" y="633.25" width="1.4" height="1.4"/><rect x="737.36" y="646.12" width="1.4" height="1.4"/><rect x="737.36" y="659.00" width="1.4" height="1.4"/><rect x="737.36" y="671.88" width="1.4" height="1.4"/><rect x="737.36" y="684.75" width="1.4" height="1.4"/><rect x="737.36" y="697.62" width="1.4" height="1.4"/><rect x="737.36" y="710.50" width="1.4" height="1.4"/><rect x="737.36" y="723.38" width="1.4" height="1.4"/><rect x="737.36" y="736.25" width="1.4" height="1.4"/><rect x="737.36" y="749.12" width="1.4" height="1.4"/><rect x="737.36" y="762.00" width="1.4" height="1.4"/><rect x="737.36" y="774.88" width="1.4" height="1.4"/><rect x="737.36" y="787.75" width="1.4" height="1.4"/><rect x="760.13" y="491.62" width="1.4" height="1.4"/><rect x="760.13" y="504.50" width="1.4" height="1.4"/><rect x="760.13" y="517.38" width="1.4" height="1.4"/><rect x="760.13" y="530.25" width="1.4" height="1.4"/><rect x="760.13" y="543.12" width="1.4" height="1.4"/><rect x="760.13" y="556.00" width="1.4" height="1.4"/><rect x="760.13" y="568.88" width="1.4" height="1.4"/><rect x="760.13" y="581.75" width="1.4" height="1.4"/><rect x="760.13" y="594.62" width="1.4" height="1.4"/><rect x="760.13" y="607.50" width="1.4" height="1.4"/><rect x="760.13" y="620.38" width="1.4" height="1.4"/><rect x="760.13" y="633.25" width="1.4" height="1.4"/><rect x="760.13" y="646.12" width="1.4" height="1.4"/><rect x="760.13" y="659.00" width="1.4" height="1.4"/><rect x="760.13" y="671.88" width="1.4" height="1.4"/><rect x="760.13" y="684.75" width="1.4" height="1.4"/><rect x="760.13" y="697.62" width="1.4" height="1.4"/><rect x="760.13" y="710.50" width="1.4" height="1.4"/><rect x="760.13" y="723.38" width="1.4" height="1.4"/><rect x="760.13" y="736.25" width="1.4" height="1.4"/><rect x="760.13" y="749.12" width="1.4" height="1.4"/><rect x="760.13" y="762.00" width="1.4" height="1.4"/><rect x="760.13" y="774.88" width="1.4" height="1.4"/><rect x="760.13" y="787.75" width="1.4" height="1.4"/><rect x="776.28" y="491.62" width="1.4" height="1.4"/><rect x="776.28" y="504.50" width="1.4" height="1.4"/><rect x="776.28" y="517.38" width="1.4" height="1.4"/><rect x="776.28" y="530.25" width="1.4" height="1.4"/><rect x="776.28" y="543.12" width="1.4" height="1.4"/><rect x="776.28" y="556.00" width="1.4" height="1.4"/><rect x="776.28" y="568.88" width="1.4" height="1.4"/><rect x="776.28" y="581.75" width="1.4" height="1.4"/><rect x="776.28" y="594.62" width="1.4" height="1.4"/><rect x="776.28" y="607.50" width="1.4" height="1.4"/><rect x="776.28" y="620.38" width="1.4" height="1.4"/><rect x="776.28" y="633.25" width="1.4" height="1.4"/><rect x="776.28" y="646.12" width="1.4" height="1.4"/><rect x="776.28" y="659.00" width="1.4" height="1.4"/><rect x="776.28" y="671.88" width="1.4" height="1.4"/><rect x="776.28" y="684.75" width="1.4" height="1.4"/><rect x="776.28" y="697.62" width="1.4" height="1.4"/><rect x="776.28" y="710.50" width="1.4" height="1.4"/><rect x="776.28" y="723.38" width="1.4" height="1.4"/><rect x="776.28" y="736.25" width="1.4" height="1.4"/><rect x="776.28" y="749.12" width="1.4" height="1.4"/><rect x="776.28" y="762.00" width="1.4" height="1.4"/><rect x="776.28" y="774.88" width="1.4" height="1.4"/><rect x="776.28" y="787.75" width="1.4" height="1.4"/><rect x="788.81" y="491.62" width="1.4" height="1.4"/><rect x="788.81" y="504.50" width="1.4" height="1.4"/><rect x="788.81" y="517.38" width="1.4" height="1.4"/><rect x="788.81" y="530.25" width="1.4" height="1.4"/><rect x="788.81" y="543.12" width="1.4" height="1.4"/><rect x="788.81" y="556.00" width="1.4" height="1.4"/><rect x="788.81" y="568.88" width="1.4" height="1.4"/><rect x="788.81" y="581.75" width="1.4" height="1.4"/><rect x="788.81" y="594.62" width="1.4" height="1.4"/><rect x="788.81" y="607.50" width="1.4" height="1.4"/><rect x="788.81" y="620.38" width="1.4" height="1.4"/><rect x="788.81" y="633.25" width="1.4" height="1.4"/><rect x="788.81" y="646.12" width="1.4" height="1.4"/><rect x="788.81" y="659.00" width="1.4" height="1.4"/><rect x="788.81" y="671.88" width="1.4" height="1.4"/><rect x="788.81" y="684.75" width="1.4" height="1.4"/><rect x="788.81" y="697.62" width="1.4" height="1.4"/><rect x="788.81" y="710.50" width="1.4" height="1.4"/><rect x="788.81" y="723.38" width="1.4" height="1.4"/><rect x="788.81" y="736.25" width="1.4" height="1.4"/><rect x="788.81" y="749.12" width="1.4" height="1.4"/><rect x="788.81" y="762.00" width="1.4" height="1.4"/><rect x="788.81" y="774.88" width="1.4" height="1.4"/><rect x="788.81" y="787.75" width="1.4" height="1.4"/><rect x="799.05" y="491.62" width="1.4" height="1.4"/><rect x="799.05" y="504.50" width="1.4" height="1.4"/><rect x="799.05" y="517.38" width="1.4" height="1.4"/><rect x="799.05" y="530.25" width="1.4" height="1.4"/><rect x="799.05" y="543.12" width="1.4" height="1.4"/><rect x="799.05" y="556.00" width="1.4" height="1.4"/><rect x="799.05" y="568.88" width="1.4" height="1.4"/><rect x="799.05" y="581.75" width="1.4" height="1.4"/><rect x="799.05" y="594.62" width="1.4" height="1.4"/><rect x="799.05" y="607.50" width="1.4" height="1.4"/><rect x="799.05" y="620.38" width="1.4" height="1.4"/><rect x="799.05" y="633.25" width="1.4" height="1.4"/><rect x="799.05" y="646.12" width="1.4" height="1.4"/><rect x="799.05" y="659.00" width="1.4" height="1.4"/><rect x="799.05" y="671.88" width="1.4" height="1.4"/><rect x="799.05" y="684.75" width="1.4" height="1.4"/><rect x="799.05" y="697.62" width="1.4" height="1.4"/><rect x="799.05" y="710.50" width="1.4" height="1.4"/><rect x="799.05" y="723.38" width="1.4" height="1.4"/><rect x="799.05" y="736.25" width="1.4" height="1.4"/><rect x="799.05" y="749.12" width="1.4" height="1.4"/><rect x="799.05" y="762.00" width="1.4" height="1.4"/><rect x="799.05" y="774.88" width="1.4" height="1.4"/><rect x="799.05" y="787.75" width="1.4" height="1.4"/><rect x="807.70" y="491.62" width="1.4" height="1.4"/><rect x="807.70" y="504.50" width="1.4" height="1.4"/><rect x="807.70" y="517.38" width="1.4" height="1.4"/><rect x="807.70" y="530.25" width="1.4" height="1.4"/><rect x="807.70" y="543.12" width="1.4" height="1.4"/><rect x="807.70" y="556.00" width="1.4" height="1.4"/><rect x="807.70" y="568.88" width="1.4" height="1.4"/><rect x="807.70" y="581.75" width="1.4" height="1.4"/><rect x="807.70" y="594.62" width="1.4" height="1.4"/><rect x="807.70" y="607.50" width="1.4" height="1.4"/><rect x="807.70" y="620.38" width="1.4" height="1.4"/><rect x="807.70" y="633.25" width="1.4" height="1.4"/><rect x="807.70" y="646.12" width="1.4" height="1.4"/><rect x="807.70" y="659.00" width="1.4" height="1.4"/><rect x="807.70" y="671.88" width="1.4" height="1.4"/><rect x="807.70" y="684.75" width="1.4" height="1.4"/><rect x="807.70" y="697.62" width="1.4" height="1.4"/><rect x="807.70" y="710.50" width="1.4" height="1.4"/><rect x="807.70" y="723.38" width="1.4" height="1.4"/><rect x="807.70" y="736.25" width="1.4" height="1.4"/><rect x="807.70" y="749.12" width="1.4" height="1.4"/><rect x="807.70" y="762.00" width="1.4" height="1.4"/><rect x="807.70" y="774.88" width="1.4" height="1.4"/><rect x="807.70" y="787.75" width="1.4" height="1.4"/><rect x="815.20" y="491.62" width="1.4" height="1.4"/><rect x="815.20" y="504.50" width="1.4" height="1.4"/><rect x="815.20" y="517.38" width="1.4" height="1.4"/><rect x="815.20" y="530.25" width="1.4" height="1.4"/><rect x="815.20" y="543.12" width="1.4" height="1.4"/><rect x="815.20" y="556.00" width="1.4" height="1.4"/><rect x="815.20" y="568.88" width="1.4" height="1.4"/><rect x="815.20" y="581.75" width="1.4" height="1.4"/><rect x="815.20" y="594.62" width="1.4" height="1.4"/><rect x="815.20" y="607.50" width="1.4" height="1.4"/><rect x="815.20" y="620.38" width="1.4" height="1.4"/><rect x="815.20" y="633.25" width="1.4" height="1.4"/><rect x="815.20" y="646.12" width="1.4" height="1.4"/><rect x="815.20" y="659.00" width="1.4" height="1.4"/><rect x="815.20" y="671.88" width="1.4" height="1.4"/><rect x="815.20" y="684.75" width="1.4" height="1.4"/><rect x="815.20" y="697.62" width="1.4" height="1.4"/><rect x="815.20" y="710.50" width="1.4" height="1.4"/><rect x="815.20" y="723.38" width="1.4" height="1.4"/><rect x="815.20" y="736.25" width="1.4" height="1.4"/><rect x="815.20" y="749.12" width="1.4" height="1.4"/><rect x="815.20" y="762.00" width="1.4" height="1.4"/><rect x="815.20" y="774.88" width="1.4" height="1.4"/><rect x="815.20" y="787.75" width="1.4" height="1.4"/><rect x="821.81" y="491.62" width="1.4" height="1.4"/><rect x="821.81" y="504.50" width="1.4" height="1.4"/><rect x="821.81" y="517.38" width="1.4" height="1.4"/><rect x="821.81" y="530.25" width="1.4" height="1.4"/><rect x="821.81" y="543.12" width="1.4" height="1.4"/><rect x="821.81" y="556.00" width="1.4" height="1.4"/><rect x="821.81" y="568.88" width="1.4" height="1.4"/><rect x="821.81" y="581.75" width="1.4" height="1.4"/><rect x="821.81" y="594.62" width="1.4" height="1.4"/><rect x="821.81" y="607.50" width="1.4" height="1.4"/><rect x="821.81" y="620.38" width="1.4" height="1.4"/><rect x="821.81" y="633.25" width="1.4" height="1.4"/><rect x="821.81" y="646.12" width="1.4" height="1.4"/><rect x="821.81" y="659.00" width="1.4" height="1.4"/><rect x="821.81" y="671.88" width="1.4" height="1.4"/><rect x="821.81" y="684.75" width="1.4" height="1.4"/><rect x="821.81" y="697.62" width="1.4" height="1.4"/><rect x="821.81" y="710.50" width="1.4" height="1.4"/><rect x="821.81" y="723.38" width="1.4" height="1.4"/><rect x="821.81" y="736.25" width="1.4" height="1.4"/><rect x="821.81" y="749.12" width="1.4" height="1.4"/><rect x="821.81" y="762.00" width="1.4" height="1.4"/><rect x="821.81" y="774.88" width="1.4" height="1.4"/><rect x="821.81" y="787.75" width="1.4" height="1.4"/><rect x="827.58" y="491.60" width="1.7" height="1.45" fill="#5a5a5a"/><rect x="827.58" y="504.48" width="1.7" height="1.45" fill="#5a5a5a"/><rect x="827.58" y="517.36" width="1.7" height="1.45" fill="#5a5a5a"/><rect x="827.58" y="530.23" width="1.7" height="1.45" fill="#5a5a5a"/><rect x="827.58" y="543.11" width="1.7" height="1.45" fill="#5a5a5a"/><rect x="827.58" y="555.98" width="1.7" height="1.45" fill="#5a5a5a"/><rect x="827.58" y="568.86" width="1.7" height="1.45" fill="#5a5a5a"/><rect x="827.58" y="581.73" width="1.7" height="1.45" fill="#5a5a5a"/><rect x="827.58" y="594.61" width="1.7" height="1.45" fill="#5a5a5a"/><rect x="827.58" y="607.48" width="1.7" height="1.45" fill="#5a5a5a"/><rect x="827.58" y="620.36" width="1.7" height="1.45" fill="#5a5a5a"/><rect x="827.58" y="633.23" width="1.7" height="1.45" fill="#5a5a5a"/><rect x="827.58" y="646.11" width="1.7" height="1.45" fill="#5a5a5a"/><rect x="827.58" y="658.98" width="1.7" height="1.45" fill="#5a5a5a"/><rect x="827.58" y="671.86" width="1.7" height="1.45" fill="#5a5a5a"/><rect x="827.58" y="684.73" width="1.7" height="1.45" fill="#5a5a5a"/><rect x="827.58" y="697.61" width="1.7" height="1.45" fill="#5a5a5a"/><rect x="827.58" y="710.48" width="1.7" height="1.45" fill="#5a5a5a"/><rect x="827.58" y="723.36" width="1.7" height="1.45" fill="#5a5a5a"/><rect x="827.58" y="736.23" width="1.7" height="1.45" fill="#5a5a5a"/><rect x="827.58" y="749.11" width="1.7" height="1.45" fill="#5a5a5a"/><rect x="827.58" y="761.98" width="1.7" height="1.45" fill="#5a5a5a"/><rect x="827.58" y="774.86" width="1.7" height="1.45" fill="#5a5a5a"/><rect x="827.58" y="787.73" width="1.7" height="1.45" fill="#5a5a5a"/><rect x="866.65" y="491.62" width="1.4" height="1.4"/><rect x="866.65" y="504.50" width="1.4" height="1.4"/><rect x="866.65" y="517.38" width="1.4" height="1.4"/><rect x="866.65" y="530.25" width="1.4" height="1.4"/><rect x="866.65" y="543.12" width="1.4" height="1.4"/><rect x="866.65" y="556.00" width="1.4" height="1.4"/><rect x="866.65" y="568.88" width="1.4" height="1.4"/><rect x="866.65" y="581.75" width="1.4" height="1.4"/><rect x="866.65" y="594.62" width="1.4" height="1.4"/><rect x="866.65" y="607.50" width="1.4" height="1.4"/><rect x="866.65" y="620.38" width="1.4" height="1.4"/><rect x="866.65" y="633.25" width="1.4" height="1.4"/><rect x="866.65" y="646.12" width="1.4" height="1.4"/><rect x="866.65" y="659.00" width="1.4" height="1.4"/><rect x="866.65" y="671.88" width="1.4" height="1.4"/><rect x="866.65" y="684.75" width="1.4" height="1.4"/><rect x="866.65" y="697.62" width="1.4" height="1.4"/><rect x="866.65" y="710.50" width="1.4" height="1.4"/><rect x="866.65" y="723.38" width="1.4" height="1.4"/><rect x="866.65" y="736.25" width="1.4" height="1.4"/><rect x="866.65" y="749.12" width="1.4" height="1.4"/><rect x="866.65" y="762.00" width="1.4" height="1.4"/><rect x="866.65" y="774.88" width="1.4" height="1.4"/><rect x="866.65" y="787.75" width="1.4" height="1.4"/><rect x="889.41" y="491.62" width="1.4" height="1.4"/><rect x="889.41" y="504.50" width="1.4" height="1.4"/><rect x="889.41" y="517.38" width="1.4" height="1.4"/><rect x="889.41" y="530.25" width="1.4" height="1.4"/><rect x="889.41" y="543.12" width="1.4" height="1.4"/><rect x="889.41" y="556.00" width="1.4" height="1.4"/><rect x="889.41" y="568.88" width="1.4" height="1.4"/><rect x="889.41" y="581.75" width="1.4" height="1.4"/><rect x="889.41" y="594.62" width="1.4" height="1.4"/><rect x="889.41" y="607.50" width="1.4" height="1.4"/><rect x="889.41" y="620.38" width="1.4" height="1.4"/><rect x="889.41" y="633.25" width="1.4" height="1.4"/><rect x="889.41" y="646.12" width="1.4" height="1.4"/><rect x="889.41" y="659.00" width="1.4" height="1.4"/><rect x="889.41" y="671.88" width="1.4" height="1.4"/><rect x="889.41" y="684.75" width="1.4" height="1.4"/><rect x="889.41" y="697.62" width="1.4" height="1.4"/><rect x="889.41" y="710.50" width="1.4" height="1.4"/><rect x="889.41" y="723.38" width="1.4" height="1.4"/><rect x="889.41" y="736.25" width="1.4" height="1.4"/><rect x="889.41" y="749.12" width="1.4" height="1.4"/><rect x="889.41" y="762.00" width="1.4" height="1.4"/><rect x="889.41" y="774.88" width="1.4" height="1.4"/><rect x="889.41" y="787.75" width="1.4" height="1.4"/><rect x="905.57" y="491.62" width="1.4" height="1.4"/><rect x="905.57" y="504.50" width="1.4" height="1.4"/><rect x="905.57" y="517.38" width="1.4" height="1.4"/><rect x="905.57" y="530.25" width="1.4" height="1.4"/><rect x="905.57" y="543.12" width="1.4" height="1.4"/><rect x="905.57" y="556.00" width="1.4" height="1.4"/><rect x="905.57" y="568.88" width="1.4" height="1.4"/><rect x="905.57" y="581.75" width="1.4" height="1.4"/><rect x="905.57" y="594.62" width="1.4" height="1.4"/><rect x="905.57" y="607.50" width="1.4" height="1.4"/><rect x="905.57" y="620.38" width="1.4" height="1.4"/><rect x="905.57" y="633.25" width="1.4" height="1.4"/><rect x="905.57" y="646.12" width="1.4" height="1.4"/><rect x="905.57" y="659.00" width="1.4" height="1.4"/><rect x="905.57" y="671.88" width="1.4" height="1.4"/><rect x="905.57" y="684.75" width="1.4" height="1.4"/><rect x="905.57" y="697.62" width="1.4" height="1.4"/><rect x="905.57" y="710.50" width="1.4" height="1.4"/><rect x="905.57" y="723.38" width="1.4" height="1.4"/><rect x="905.57" y="736.25" width="1.4" height="1.4"/><rect x="905.57" y="749.12" width="1.4" height="1.4"/><rect x="905.57" y="762.00" width="1.4" height="1.4"/><rect x="905.57" y="774.88" width="1.4" height="1.4"/><rect x="905.57" y="787.75" width="1.4" height="1.4"/><rect x="918.10" y="491.62" width="1.4" height="1.4"/><rect x="918.10" y="504.50" width="1.4" height="1.4"/><rect x="918.10" y="517.38" width="1.4" height="1.4"/><rect x="918.10" y="530.25" width="1.4" height="1.4"/><rect x="918.10" y="543.12" width="1.4" height="1.4"/><rect x="918.10" y="556.00" width="1.4" height="1.4"/><rect x="918.10" y="568.88" width="1.4" height="1.4"/><rect x="918.10" y="581.75" width="1.4" height="1.4"/><rect x="918.10" y="594.62" width="1.4" height="1.4"/><rect x="918.10" y="607.50" width="1.4" height="1.4"/><rect x="918.10" y="620.38" width="1.4" height="1.4"/><rect x="918.10" y="633.25" width="1.4" height="1.4"/><rect x="918.10" y="646.12" width="1.4" height="1.4"/><rect x="918.10" y="659.00" width="1.4" height="1.4"/><rect x="918.10" y="671.88" width="1.4" height="1.4"/><rect x="918.10" y="684.75" width="1.4" height="1.4"/><rect x="918.10" y="697.62" width="1.4" height="1.4"/><rect x="918.10" y="710.50" width="1.4" height="1.4"/><rect x="918.10" y="723.38" width="1.4" height="1.4"/><rect x="918.10" y="736.25" width="1.4" height="1.4"/><rect x="918.10" y="749.12" width="1.4" height="1.4"/><rect x="918.10" y="762.00" width="1.4" height="1.4"/><rect x="918.10" y="774.88" width="1.4" height="1.4"/><rect x="918.10" y="787.75" width="1.4" height="1.4"/><rect x="928.33" y="491.62" width="1.4" height="1.4"/><rect x="928.33" y="504.50" width="1.4" height="1.4"/><rect x="928.33" y="517.38" width="1.4" height="1.4"/><rect x="928.33" y="530.25" width="1.4" height="1.4"/><rect x="928.33" y="543.12" width="1.4" height="1.4"/><rect x="928.33" y="556.00" width="1.4" height="1.4"/><rect x="928.33" y="568.88" width="1.4" height="1.4"/><rect x="928.33" y="581.75" width="1.4" height="1.4"/><rect x="928.33" y="594.62" width="1.4" height="1.4"/><rect x="928.33" y="607.50" width="1.4" height="1.4"/><rect x="928.33" y="620.38" width="1.4" height="1.4"/><rect x="928.33" y="633.25" width="1.4" height="1.4"/><rect x="928.33" y="646.12" width="1.4" height="1.4"/><rect x="928.33" y="659.00" width="1.4" height="1.4"/><rect x="928.33" y="671.88" width="1.4" height="1.4"/><rect x="928.33" y="684.75" width="1.4" height="1.4"/><rect x="928.33" y="697.62" width="1.4" height="1.4"/><rect x="928.33" y="710.50" width="1.4" height="1.4"/><rect x="928.33" y="723.38" width="1.4" height="1.4"/><rect x="928.33" y="736.25" width="1.4" height="1.4"/><rect x="928.33" y="749.12" width="1.4" height="1.4"/><rect x="928.33" y="762.00" width="1.4" height="1.4"/><rect x="928.33" y="774.88" width="1.4" height="1.4"/><rect x="928.33" y="787.75" width="1.4" height="1.4"/><rect x="936.99" y="491.62" width="1.4" height="1.4"/><rect x="936.99" y="504.50" width="1.4" height="1.4"/><rect x="936.99" y="517.38" width="1.4" height="1.4"/><rect x="936.99" y="530.25" width="1.4" height="1.4"/><rect x="936.99" y="543.12" width="1.4" height="1.4"/><rect x="936.99" y="556.00" width="1.4" height="1.4"/><rect x="936.99" y="568.88" width="1.4" height="1.4"/><rect x="936.99" y="581.75" width="1.4" height="1.4"/><rect x="936.99" y="594.62" width="1.4" height="1.4"/><rect x="936.99" y="607.50" width="1.4" height="1.4"/><rect x="936.99" y="620.38" width="1.4" height="1.4"/><rect x="936.99" y="633.25" width="1.4" height="1.4"/><rect x="936.99" y="646.12" width="1.4" height="1.4"/><rect x="936.99" y="659.00" width="1.4" height="1.4"/><rect x="936.99" y="671.88" width="1.4" height="1.4"/><rect x="936.99" y="684.75" width="1.4" height="1.4"/><rect x="936.99" y="697.62" width="1.4" height="1.4"/><rect x="936.99" y="710.50" width="1.4" height="1.4"/><rect x="936.99" y="723.38" width="1.4" height="1.4"/><rect x="936.99" y="736.25" width="1.4" height="1.4"/><rect x="936.99" y="749.12" width="1.4" height="1.4"/><rect x="936.99" y="762.00" width="1.4" height="1.4"/><rect x="936.99" y="774.88" width="1.4" height="1.4"/><rect x="936.99" y="787.75" width="1.4" height="1.4"/><rect x="944.49" y="491.62" width="1.4" height="1.4"/><rect x="944.49" y="504.50" width="1.4" height="1.4"/><rect x="944.49" y="517.38" width="1.4" height="1.4"/><rect x="944.49" y="530.25" width="1.4" height="1.4"/><rect x="944.49" y="543.12" width="1.4" height="1.4"/><rect x="944.49" y="556.00" width="1.4" height="1.4"/><rect x="944.49" y="568.88" width="1.4" height="1.4"/><rect x="944.49" y="581.75" width="1.4" height="1.4"/><rect x="944.49" y="594.62" width="1.4" height="1.4"/><rect x="944.49" y="607.50" width="1.4" height="1.4"/><rect x="944.49" y="620.38" width="1.4" height="1.4"/><rect x="944.49" y="633.25" width="1.4" height="1.4"/><rect x="944.49" y="646.12" width="1.4" height="1.4"/><rect x="944.49" y="659.00" width="1.4" height="1.4"/><rect x="944.49" y="671.88" width="1.4" height="1.4"/><rect x="944.49" y="684.75" width="1.4" height="1.4"/><rect x="944.49" y="697.62" width="1.4" height="1.4"/><rect x="944.49" y="710.50" width="1.4" height="1.4"/><rect x="944.49" y="723.38" width="1.4" height="1.4"/><rect x="944.49" y="736.25" width="1.4" height="1.4"/><rect x="944.49" y="749.12" width="1.4" height="1.4"/><rect x="944.49" y="762.00" width="1.4" height="1.4"/><rect x="944.49" y="774.88" width="1.4" height="1.4"/><rect x="944.49" y="787.75" width="1.4" height="1.4"/><rect x="951.10" y="491.62" width="1.4" height="1.4"/><rect x="951.10" y="504.50" width="1.4" height="1.4"/><rect x="951.10" y="517.38" width="1.4" height="1.4"/><rect x="951.10" y="530.25" width="1.4" height="1.4"/><rect x="951.10" y="543.12" width="1.4" height="1.4"/><rect x="951.10" y="556.00" width="1.4" height="1.4"/><rect x="951.10" y="568.88" width="1.4" height="1.4"/><rect x="951.10" y="581.75" width="1.4" height="1.4"/><rect x="951.10" y="594.62" width="1.4" height="1.4"/><rect x="951.10" y="607.50" width="1.4" height="1.4"/><rect x="951.10" y="620.38" width="1.4" height="1.4"/><rect x="951.10" y="633.25" width="1.4" height="1.4"/><rect x="951.10" y="646.12" width="1.4" height="1.4"/><rect x="951.10" y="659.00" width="1.4" height="1.4"/><rect x="951.10" y="671.88" width="1.4" height="1.4"/><rect x="951.10" y="684.75" width="1.4" height="1.4"/><rect x="951.10" y="697.62" width="1.4" height="1.4"/><rect x="951.10" y="710.50" width="1.4" height="1.4"/><rect x="951.10" y="723.38" width="1.4" height="1.4"/><rect x="951.10" y="736.25" width="1.4" height="1.4"/><rect x="951.10" y="749.12" width="1.4" height="1.4"/><rect x="951.10" y="762.00" width="1.4" height="1.4"/><rect x="951.10" y="774.88" width="1.4" height="1.4"/><rect x="951.10" y="787.75" width="1.4" height="1.4"/><rect x="956.86" y="491.60" width="1.7" height="1.45" fill="#5a5a5a"/><rect x="956.86" y="504.48" width="1.7" height="1.45" fill="#5a5a5a"/><rect x="956.86" y="517.36" width="1.7" height="1.45" fill="#5a5a5a"/><rect x="956.86" y="530.23" width="1.7" height="1.45" fill="#5a5a5a"/><rect x="956.86" y="543.11" width="1.7" height="1.45" fill="#5a5a5a"/><rect x="956.86" y="555.98" width="1.7" height="1.45" fill="#5a5a5a"/><rect x="956.86" y="568.86" width="1.7" height="1.45" fill="#5a5a5a"/><rect x="956.86" y="581.73" width="1.7" height="1.45" fill="#5a5a5a"/><rect x="956.86" y="594.61" width="1.7" height="1.45" fill="#5a5a5a"/><rect x="956.86" y="607.48" width="1.7" height="1.45" fill="#5a5a5a"/><rect x="956.86" y="620.36" width="1.7" height="1.45" fill="#5a5a5a"/><rect x="956.86" y="633.23" width="1.7" height="1.45" fill="#5a5a5a"/><rect x="956.86" y="646.11" width="1.7" height="1.45" fill="#5a5a5a"/><rect x="956.86" y="658.98" width="1.7" height="1.45" fill="#5a5a5a"/><rect x="956.86" y="671.86" width="1.7" height="1.45" fill="#5a5a5a"/><rect x="956.86" y="684.73" width="1.7" height="1.45" fill="#5a5a5a"/><rect x="956.86" y="697.61" width="1.7" height="1.45" fill="#5a5a5a"/><rect x="956.86" y="710.48" width="1.7" height="1.45" fill="#5a5a5a"/><rect x="956.86" y="723.36" width="1.7" height="1.45" fill="#5a5a5a"/><rect x="956.86" y="736.23" width="1.7" height="1.45" fill="#5a5a5a"/><rect x="956.86" y="749.11" width="1.7" height="1.45" fill="#5a5a5a"/><rect x="956.86" y="761.98" width="1.7" height="1.45" fill="#5a5a5a"/><rect x="956.86" y="774.86" width="1.7" height="1.45" fill="#5a5a5a"/><rect x="956.86" y="787.73" width="1.7" height="1.45" fill="#5a5a5a"/><rect x="995.93" y="491.62" width="1.4" height="1.4"/><rect x="995.93" y="504.50" width="1.4" height="1.4"/><rect x="995.93" y="517.38" width="1.4" height="1.4"/><rect x="995.93" y="530.25" width="1.4" height="1.4"/><rect x="995.93" y="543.12" width="1.4" height="1.4"/><rect x="995.93" y="556.00" width="1.4" height="1.4"/><rect x="995.93" y="568.88" width="1.4" height="1.4"/><rect x="995.93" y="581.75" width="1.4" height="1.4"/><rect x="995.93" y="594.62" width="1.4" height="1.4"/><rect x="995.93" y="607.50" width="1.4" height="1.4"/><rect x="995.93" y="620.38" width="1.4" height="1.4"/><rect x="995.93" y="633.25" width="1.4" height="1.4"/><rect x="995.93" y="646.12" width="1.4" height="1.4"/><rect x="995.93" y="659.00" width="1.4" height="1.4"/><rect x="995.93" y="671.88" width="1.4" height="1.4"/><rect x="995.93" y="684.75" width="1.4" height="1.4"/><rect x="995.93" y="697.62" width="1.4" height="1.4"/><rect x="995.93" y="710.50" width="1.4" height="1.4"/><rect x="995.93" y="723.38" width="1.4" height="1.4"/><rect x="995.93" y="736.25" width="1.4" height="1.4"/><rect x="995.93" y="749.12" width="1.4" height="1.4"/><rect x="995.93" y="762.00" width="1.4" height="1.4"/><rect x="995.93" y="774.88" width="1.4" height="1.4"/><rect x="995.93" y="787.75" width="1.4" height="1.4"/><rect x="1018.70" y="491.62" width="1.4" height="1.4"/><rect x="1018.70" y="504.50" width="1.4" height="1.4"/><rect x="1018.70" y="517.38" width="1.4" height="1.4"/><rect x="1018.70" y="530.25" width="1.4" height="1.4"/><rect x="1018.70" y="543.12" width="1.4" height="1.4"/><rect x="1018.70" y="556.00" width="1.4" height="1.4"/><rect x="1018.70" y="568.88" width="1.4" height="1.4"/><rect x="1018.70" y="581.75" width="1.4" height="1.4"/><rect x="1018.70" y="594.62" width="1.4" height="1.4"/><rect x="1018.70" y="607.50" width="1.4" height="1.4"/><rect x="1018.70" y="620.38" width="1.4" height="1.4"/><rect x="1018.70" y="633.25" width="1.4" height="1.4"/><rect x="1018.70" y="646.12" width="1.4" height="1.4"/><rect x="1018.70" y="659.00" width="1.4" height="1.4"/><rect x="1018.70" y="671.88" width="1.4" height="1.4"/><rect x="1018.70" y="684.75" width="1.4" height="1.4"/><rect x="1018.70" y="697.62" width="1.4" height="1.4"/><rect x="1018.70" y="710.50" width="1.4" height="1.4"/><rect x="1018.70" y="723.38" width="1.4" height="1.4"/><rect x="1018.70" y="736.25" width="1.4" height="1.4"/><rect x="1018.70" y="749.12" width="1.4" height="1.4"/><rect x="1018.70" y="762.00" width="1.4" height="1.4"/><rect x="1018.70" y="774.88" width="1.4" height="1.4"/><rect x="1018.70" y="787.75" width="1.4" height="1.4"/><rect x="1034.85" y="491.62" width="1.4" height="1.4"/><rect x="1034.85" y="504.50" width="1.4" height="1.4"/><rect x="1034.85" y="517.38" width="1.4" height="1.4"/><rect x="1034.85" y="530.25" width="1.4" height="1.4"/><rect x="1034.85" y="543.12" width="1.4" height="1.4"/><rect x="1034.85" y="556.00" width="1.4" height="1.4"/><rect x="1034.85" y="568.88" width="1.4" height="1.4"/><rect x="1034.85" y="581.75" width="1.4" height="1.4"/><rect x="1034.85" y="594.62" width="1.4" height="1.4"/><rect x="1034.85" y="607.50" width="1.4" height="1.4"/><rect x="1034.85" y="620.38" width="1.4" height="1.4"/><rect x="1034.85" y="633.25" width="1.4" height="1.4"/><rect x="1034.85" y="646.12" width="1.4" height="1.4"/><rect x="1034.85" y="659.00" width="1.4" height="1.4"/><rect x="1034.85" y="671.88" width="1.4" height="1.4"/><rect x="1034.85" y="684.75" width="1.4" height="1.4"/><rect x="1034.85" y="697.62" width="1.4" height="1.4"/><rect x="1034.85" y="710.50" width="1.4" height="1.4"/><rect x="1034.85" y="723.38" width="1.4" height="1.4"/><rect x="1034.85" y="736.25" width="1.4" height="1.4"/><rect x="1034.85" y="749.12" width="1.4" height="1.4"/><rect x="1034.85" y="762.00" width="1.4" height="1.4"/><rect x="1034.85" y="774.88" width="1.4" height="1.4"/><rect x="1034.85" y="787.75" width="1.4" height="1.4"/><rect x="1047.38" y="491.62" width="1.4" height="1.4"/><rect x="1047.38" y="504.50" width="1.4" height="1.4"/><rect x="1047.38" y="517.38" width="1.4" height="1.4"/><rect x="1047.38" y="530.25" width="1.4" height="1.4"/><rect x="1047.38" y="543.12" width="1.4" height="1.4"/><rect x="1047.38" y="556.00" width="1.4" height="1.4"/><rect x="1047.38" y="568.88" width="1.4" height="1.4"/><rect x="1047.38" y="581.75" width="1.4" height="1.4"/><rect x="1047.38" y="594.62" width="1.4" height="1.4"/><rect x="1047.38" y="607.50" width="1.4" height="1.4"/><rect x="1047.38" y="620.38" width="1.4" height="1.4"/><rect x="1047.38" y="633.25" width="1.4" height="1.4"/><rect x="1047.38" y="646.12" width="1.4" height="1.4"/><rect x="1047.38" y="659.00" width="1.4" height="1.4"/><rect x="1047.38" y="671.88" width="1.4" height="1.4"/><rect x="1047.38" y="684.75" width="1.4" height="1.4"/><rect x="1047.38" y="697.62" width="1.4" height="1.4"/><rect x="1047.38" y="710.50" width="1.4" height="1.4"/><rect x="1047.38" y="723.38" width="1.4" height="1.4"/><rect x="1047.38" y="736.25" width="1.4" height="1.4"/><rect x="1047.38" y="749.12" width="1.4" height="1.4"/><rect x="1047.38" y="762.00" width="1.4" height="1.4"/><rect x="1047.38" y="774.88" width="1.4" height="1.4"/><rect x="1047.38" y="787.75" width="1.4" height="1.4"/><rect x="1057.62" y="491.62" width="1.4" height="1.4"/><rect x="1057.62" y="504.50" width="1.4" height="1.4"/><rect x="1057.62" y="517.38" width="1.4" height="1.4"/><rect x="1057.62" y="530.25" width="1.4" height="1.4"/><rect x="1057.62" y="543.12" width="1.4" height="1.4"/><rect x="1057.62" y="556.00" width="1.4" height="1.4"/><rect x="1057.62" y="568.88" width="1.4" height="1.4"/><rect x="1057.62" y="581.75" width="1.4" height="1.4"/><rect x="1057.62" y="594.62" width="1.4" height="1.4"/><rect x="1057.62" y="607.50" width="1.4" height="1.4"/><rect x="1057.62" y="620.38" width="1.4" height="1.4"/><rect x="1057.62" y="633.25" width="1.4" height="1.4"/><rect x="1057.62" y="646.12" width="1.4" height="1.4"/><rect x="1057.62" y="659.00" width="1.4" height="1.4"/><rect x="1057.62" y="671.88" width="1.4" height="1.4"/><rect x="1057.62" y="684.75" width="1.4" height="1.4"/><rect x="1057.62" y="697.62" width="1.4" height="1.4"/><rect x="1057.62" y="710.50" width="1.4" height="1.4"/><rect x="1057.62" y="723.38" width="1.4" height="1.4"/><rect x="1057.62" y="736.25" width="1.4" height="1.4"/><rect x="1057.62" y="749.12" width="1.4" height="1.4"/><rect x="1057.62" y="762.00" width="1.4" height="1.4"/><rect x="1057.62" y="774.88" width="1.4" height="1.4"/><rect x="1057.62" y="787.75" width="1.4" height="1.4"/><rect x="1066.27" y="491.62" width="1.4" height="1.4"/><rect x="1066.27" y="504.50" width="1.4" height="1.4"/><rect x="1066.27" y="517.38" width="1.4" height="1.4"/><rect x="1066.27" y="530.25" width="1.4" height="1.4"/><rect x="1066.27" y="543.12" width="1.4" height="1.4"/><rect x="1066.27" y="556.00" width="1.4" height="1.4"/><rect x="1066.27" y="568.88" width="1.4" height="1.4"/><rect x="1066.27" y="581.75" width="1.4" height="1.4"/><rect x="1066.27" y="594.62" width="1.4" height="1.4"/><rect x="1066.27" y="607.50" width="1.4" height="1.4"/><rect x="1066.27" y="620.38" width="1.4" height="1.4"/><rect x="1066.27" y="633.25" width="1.4" height="1.4"/><rect x="1066.27" y="646.12" width="1.4" height="1.4"/><rect x="1066.27" y="659.00" width="1.4" height="1.4"/><rect x="1066.27" y="671.88" width="1.4" height="1.4"/><rect x="1066.27" y="684.75" width="1.4" height="1.4"/><rect x="1066.27" y="697.62" width="1.4" height="1.4"/><rect x="1066.27" y="710.50" width="1.4" height="1.4"/><rect x="1066.27" y="723.38" width="1.4" height="1.4"/><rect x="1066.27" y="736.25" width="1.4" height="1.4"/><rect x="1066.27" y="749.12" width="1.4" height="1.4"/><rect x="1066.27" y="762.00" width="1.4" height="1.4"/><rect x="1066.27" y="774.88" width="1.4" height="1.4"/><rect x="1066.27" y="787.75" width="1.4" height="1.4"/><rect x="1073.77" y="491.62" width="1.4" height="1.4"/><rect x="1073.77" y="504.50" width="1.4" height="1.4"/><rect x="1073.77" y="517.38" width="1.4" height="1.4"/><rect x="1073.77" y="530.25" width="1.4" height="1.4"/><rect x="1073.77" y="543.12" width="1.4" height="1.4"/><rect x="1073.77" y="556.00" width="1.4" height="1.4"/><rect x="1073.77" y="568.88" width="1.4" height="1.4"/><rect x="1073.77" y="581.75" width="1.4" height="1.4"/><rect x="1073.77" y="594.62" width="1.4" height="1.4"/><rect x="1073.77" y="607.50" width="1.4" height="1.4"/><rect x="1073.77" y="620.38" width="1.4" height="1.4"/><rect x="1073.77" y="633.25" width="1.4" height="1.4"/><rect x="1073.77" y="646.12" width="1.4" height="1.4"/><rect x="1073.77" y="659.00" width="1.4" height="1.4"/><rect x="1073.77" y="671.88" width="1.4" height="1.4"/><rect x="1073.77" y="684.75" width="1.4" height="1.4"/><rect x="1073.77" y="697.62" width="1.4" height="1.4"/><rect x="1073.77" y="710.50" width="1.4" height="1.4"/><rect x="1073.77" y="723.38" width="1.4" height="1.4"/><rect x="1073.77" y="736.25" width="1.4" height="1.4"/><rect x="1073.77" y="749.12" width="1.4" height="1.4"/><rect x="1073.77" y="762.00" width="1.4" height="1.4"/><rect x="1073.77" y="774.88" width="1.4" height="1.4"/><rect x="1073.77" y="787.75" width="1.4" height="1.4"/><rect x="1080.38" y="491.62" width="1.4" height="1.4"/><rect x="1080.38" y="504.50" width="1.4" height="1.4"/><rect x="1080.38" y="517.38" width="1.4" height="1.4"/><rect x="1080.38" y="530.25" width="1.4" height="1.4"/><rect x="1080.38" y="543.12" width="1.4" height="1.4"/><rect x="1080.38" y="556.00" width="1.4" height="1.4"/><rect x="1080.38" y="568.88" width="1.4" height="1.4"/><rect x="1080.38" y="581.75" width="1.4" height="1.4"/><rect x="1080.38" y="594.62" width="1.4" height="1.4"/><rect x="1080.38" y="607.50" width="1.4" height="1.4"/><rect x="1080.38" y="620.38" width="1.4" height="1.4"/><rect x="1080.38" y="633.25" width="1.4" height="1.4"/><rect x="1080.38" y="646.12" width="1.4" height="1.4"/><rect x="1080.38" y="659.00" width="1.4" height="1.4"/><rect x="1080.38" y="671.88" width="1.4" height="1.4"/><rect x="1080.38" y="684.75" width="1.4" height="1.4"/><rect x="1080.38" y="697.62" width="1.4" height="1.4"/><rect x="1080.38" y="710.50" width="1.4" height="1.4"/><rect x="1080.38" y="723.38" width="1.4" height="1.4"/><rect x="1080.38" y="736.25" width="1.4" height="1.4"/><rect x="1080.38" y="749.12" width="1.4" height="1.4"/><rect x="1080.38" y="762.00" width="1.4" height="1.4"/><rect x="1080.38" y="774.88" width="1.4" height="1.4"/><rect x="1080.38" y="787.75" width="1.4" height="1.4"/></g><g fill="#858585"><rect x="194.50" y="491.05" width="1.5" height="1.3"/><rect x="207.36" y="491.05" width="1.5" height="1.3"/><rect x="220.21" y="491.05" width="1.5" height="1.3"/><rect x="233.07" y="491.05" width="1.5" height="1.3"/><rect x="245.93" y="491.05" width="1.5" height="1.3"/><rect x="258.78" y="491.05" width="1.5" height="1.3"/><rect x="271.64" y="491.05" width="1.5" height="1.3"/><rect x="284.50" y="491.05" width="1.5" height="1.3"/><rect x="297.36" y="491.05" width="1.5" height="1.3"/><rect x="310.21" y="491.05" width="1.5" height="1.3"/><rect x="323.07" y="491.05" width="1.5" height="1.3"/><rect x="335.93" y="491.05" width="1.5" height="1.3"/><rect x="348.78" y="491.05" width="1.5" height="1.3"/><rect x="361.64" y="491.05" width="1.5" height="1.3"/><rect x="374.50" y="491.05" width="1.5" height="1.3"/><rect x="387.35" y="491.05" width="1.5" height="1.3"/><rect x="400.21" y="491.05" width="1.5" height="1.3"/><rect x="413.07" y="491.05" width="1.5" height="1.3"/><rect x="425.93" y="491.05" width="1.5" height="1.3"/><rect x="438.78" y="491.05" width="1.5" height="1.3"/><rect x="451.64" y="491.05" width="1.5" height="1.3"/><rect x="464.50" y="491.05" width="1.5" height="1.3"/><rect x="477.35" y="491.05" width="1.5" height="1.3"/><rect x="490.21" y="491.05" width="1.5" height="1.3"/><rect x="503.07" y="491.05" width="1.5" height="1.3"/><rect x="515.92" y="491.05" width="1.5" height="1.3"/><rect x="528.78" y="491.05" width="1.5" height="1.3"/><rect x="541.64" y="491.05" width="1.5" height="1.3"/><rect x="554.50" y="491.05" width="1.5" height="1.3"/><rect x="567.35" y="491.05" width="1.5" height="1.3"/><rect x="580.21" y="491.05" width="1.5" height="1.3"/><rect x="593.07" y="491.05" width="1.5" height="1.3"/><rect x="605.92" y="491.05" width="1.5" height="1.3"/><rect x="618.78" y="491.05" width="1.5" height="1.3"/><rect x="631.64" y="491.05" width="1.5" height="1.3"/><rect x="644.49" y="491.05" width="1.5" height="1.3"/><rect x="657.35" y="491.05" width="1.5" height="1.3"/><rect x="670.21" y="491.05" width="1.5" height="1.3"/><rect x="683.07" y="491.05" width="1.5" height="1.3"/><rect x="695.92" y="491.05" width="1.5" height="1.3"/><rect x="708.78" y="491.05" width="1.5" height="1.3"/><rect x="721.64" y="491.05" width="1.5" height="1.3"/><rect x="734.49" y="491.05" width="1.5" height="1.3"/><rect x="747.35" y="491.05" width="1.5" height="1.3"/><rect x="760.21" y="491.05" width="1.5" height="1.3"/><rect x="773.06" y="491.05" width="1.5" height="1.3"/><rect x="785.92" y="491.05" width="1.5" height="1.3"/><rect x="798.78" y="491.05" width="1.5" height="1.3"/><rect x="811.64" y="491.05" width="1.5" height="1.3"/><rect x="824.49" y="491.05" width="1.5" height="1.3"/><rect x="837.35" y="491.05" width="1.5" height="1.3"/><rect x="850.21" y="491.05" width="1.5" height="1.3"/><rect x="863.06" y="491.05" width="1.5" height="1.3"/><rect x="875.92" y="491.05" width="1.5" height="1.3"/><rect x="888.78" y="491.05" width="1.5" height="1.3"/><rect x="901.63" y="491.05" width="1.5" height="1.3"/><rect x="914.49" y="491.05" width="1.5" height="1.3"/><rect x="927.35" y="491.05" width="1.5" height="1.3"/><rect x="940.21" y="491.05" width="1.5" height="1.3"/><rect x="953.06" y="491.05" width="1.5" height="1.3"/><rect x="965.92" y="491.05" width="1.5" height="1.3"/><rect x="978.78" y="491.05" width="1.5" height="1.3"/><rect x="991.63" y="491.05" width="1.5" height="1.3"/><rect x="1004.49" y="491.05" width="1.5" height="1.3"/><rect x="1017.35" y="491.05" width="1.5" height="1.3"/><rect x="1030.20" y="491.05" width="1.5" height="1.3"/><rect x="1043.06" y="491.05" width="1.5" height="1.3"/><rect x="1055.92" y="491.05" width="1.5" height="1.3"/><rect x="1068.78" y="491.05" width="1.5" height="1.3"/><rect x="1081.63" y="491.05" width="1.5" height="1.3"/><rect x="194.50" y="567.79" width="1.5" height="1.3"/><rect x="207.36" y="567.79" width="1.5" height="1.3"/><rect x="220.21" y="567.79" width="1.5" height="1.3"/><rect x="233.07" y="567.79" width="1.5" height="1.3"/><rect x="245.93" y="567.79" width="1.5" height="1.3"/><rect x="258.78" y="567.79" width="1.5" height="1.3"/><rect x="271.64" y="567.79" width="1.5" height="1.3"/><rect x="284.50" y="567.79" width="1.5" height="1.3"/><rect x="297.36" y="567.79" width="1.5" height="1.3"/><rect x="310.21" y="567.79" width="1.5" height="1.3"/><rect x="323.07" y="567.79" width="1.5" height="1.3"/><rect x="335.93" y="567.79" width="1.5" height="1.3"/><rect x="348.78" y="567.79" width="1.5" height="1.3"/><rect x="361.64" y="567.79" width="1.5" height="1.3"/><rect x="374.50" y="567.79" width="1.5" height="1.3"/><rect x="387.35" y="567.79" width="1.5" height="1.3"/><rect x="400.21" y="567.79" width="1.5" height="1.3"/><rect x="413.07" y="567.79" width="1.5" height="1.3"/><rect x="425.93" y="567.79" width="1.5" height="1.3"/><rect x="438.78" y="567.79" width="1.5" height="1.3"/><rect x="451.64" y="567.79" width="1.5" height="1.3"/><rect x="464.50" y="567.79" width="1.5" height="1.3"/><rect x="477.35" y="567.79" width="1.5" height="1.3"/><rect x="490.21" y="567.79" width="1.5" height="1.3"/><rect x="503.07" y="567.79" width="1.5" height="1.3"/><rect x="515.92" y="567.79" width="1.5" height="1.3"/><rect x="528.78" y="567.79" width="1.5" height="1.3"/><rect x="541.64" y="567.79" width="1.5" height="1.3"/><rect x="554.50" y="567.79" width="1.5" height="1.3"/><rect x="567.35" y="567.79" width="1.5" height="1.3"/><rect x="580.21" y="567.79" width="1.5" height="1.3"/><rect x="593.07" y="567.79" width="1.5" height="1.3"/><rect x="605.92" y="567.79" width="1.5" height="1.3"/><rect x="618.78" y="567.79" width="1.5" height="1.3"/><rect x="631.64" y="567.79" width="1.5" height="1.3"/><rect x="644.49" y="567.79" width="1.5" height="1.3"/><rect x="657.35" y="567.79" width="1.5" height="1.3"/><rect x="670.21" y="567.79" width="1.5" height="1.3"/><rect x="683.07" y="567.79" width="1.5" height="1.3"/><rect x="695.92" y="567.79" width="1.5" height="1.3"/><rect x="708.78" y="567.79" width="1.5" height="1.3"/><rect x="721.64" y="567.79" width="1.5" height="1.3"/><rect x="734.49" y="567.79" width="1.5" height="1.3"/><rect x="747.35" y="567.79" width="1.5" height="1.3"/><rect x="760.21" y="567.79" width="1.5" height="1.3"/><rect x="773.06" y="567.79" width="1.5" height="1.3"/><rect x="785.92" y="567.79" width="1.5" height="1.3"/><rect x="798.78" y="567.79" width="1.5" height="1.3"/><rect x="811.64" y="567.79" width="1.5" height="1.3"/><rect x="824.49" y="567.79" width="1.5" height="1.3"/><rect x="837.35" y="567.79" width="1.5" height="1.3"/><rect x="850.21" y="567.79" width="1.5" height="1.3"/><rect x="863.06" y="567.79" width="1.5" height="1.3"/><rect x="875.92" y="567.79" width="1.5" height="1.3"/><rect x="888.78" y="567.79" width="1.5" height="1.3"/><rect x="901.63" y="567.79" width="1.5" height="1.3"/><rect x="914.49" y="567.79" width="1.5" height="1.3"/><rect x="927.35" y="567.79" width="1.5" height="1.3"/><rect x="940.21" y="567.79" width="1.5" height="1.3"/><rect x="953.06" y="567.79" width="1.5" height="1.3"/><rect x="965.92" y="567.79" width="1.5" height="1.3"/><rect x="978.78" y="567.79" width="1.5" height="1.3"/><rect x="991.63" y="567.79" width="1.5" height="1.3"/><rect x="1004.49" y="567.79" width="1.5" height="1.3"/><rect x="1017.35" y="567.79" width="1.5" height="1.3"/><rect x="1030.20" y="567.79" width="1.5" height="1.3"/><rect x="1043.06" y="567.79" width="1.5" height="1.3"/><rect x="1055.92" y="567.79" width="1.5" height="1.3"/><rect x="1068.78" y="567.79" width="1.5" height="1.3"/><rect x="1081.63" y="567.79" width="1.5" height="1.3"/><rect x="194.50" y="644.52" width="1.5" height="1.3"/><rect x="207.36" y="644.52" width="1.5" height="1.3"/><rect x="220.21" y="644.52" width="1.5" height="1.3"/><rect x="233.07" y="644.52" width="1.5" height="1.3"/><rect x="245.93" y="644.52" width="1.5" height="1.3"/><rect x="258.78" y="644.52" width="1.5" height="1.3"/><rect x="271.64" y="644.52" width="1.5" height="1.3"/><rect x="284.50" y="644.52" width="1.5" height="1.3"/><rect x="297.36" y="644.52" width="1.5" height="1.3"/><rect x="310.21" y="644.52" width="1.5" height="1.3"/><rect x="323.07" y="644.52" width="1.5" height="1.3"/><rect x="335.93" y="644.52" width="1.5" height="1.3"/><rect x="348.78" y="644.52" width="1.5" height="1.3"/><rect x="361.64" y="644.52" width="1.5" height="1.3"/><rect x="374.50" y="644.52" width="1.5" height="1.3"/><rect x="387.35" y="644.52" width="1.5" height="1.3"/><rect x="400.21" y="644.52" width="1.5" height="1.3"/><rect x="413.07" y="644.52" width="1.5" height="1.3"/><rect x="425.93" y="644.52" width="1.5" height="1.3"/><rect x="438.78" y="644.52" width="1.5" height="1.3"/><rect x="451.64" y="644.52" width="1.5" height="1.3"/><rect x="464.50" y="644.52" width="1.5" height="1.3"/><rect x="477.35" y="644.52" width="1.5" height="1.3"/><rect x="490.21" y="644.52" width="1.5" height="1.3"/><rect x="503.07" y="644.52" width="1.5" height="1.3"/><rect x="515.92" y="644.52" width="1.5" height="1.3"/><rect x="528.78" y="644.52" width="1.5" height="1.3"/><rect x="541.64" y="644.52" width="1.5" height="1.3"/><rect x="554.50" y="644.52" width="1.5" height="1.3"/><rect x="567.35" y="644.52" width="1.5" height="1.3"/><rect x="580.21" y="644.52" width="1.5" height="1.3"/><rect x="593.07" y="644.52" width="1.5" height="1.3"/><rect x="605.92" y="644.52" width="1.5" height="1.3"/><rect x="618.78" y="644.52" width="1.5" height="1.3"/><rect x="631.64" y="644.52" width="1.5" height="1.3"/><rect x="644.49" y="644.52" width="1.5" height="1.3"/><rect x="657.35" y="644.52" width="1.5" height="1.3"/><rect x="670.21" y="644.52" width="1.5" height="1.3"/><rect x="683.07" y="644.52" width="1.5" height="1.3"/><rect x="695.92" y="644.52" width="1.5" height="1.3"/><rect x="708.78" y="644.52" width="1.5" height="1.3"/><rect x="721.64" y="644.52" width="1.5" height="1.3"/><rect x="734.49" y="644.52" width="1.5" height="1.3"/><rect x="747.35" y="644.52" width="1.5" height="1.3"/><rect x="760.21" y="644.52" width="1.5" height="1.3"/><rect x="773.06" y="644.52" width="1.5" height="1.3"/><rect x="785.92" y="644.52" width="1.5" height="1.3"/><rect x="798.78" y="644.52" width="1.5" height="1.3"/><rect x="811.64" y="644.52" width="1.5" height="1.3"/><rect x="824.49" y="644.52" width="1.5" height="1.3"/><rect x="837.35" y="644.52" width="1.5" height="1.3"/><rect x="850.21" y="644.52" width="1.5" height="1.3"/><rect x="863.06" y="644.52" width="1.5" height="1.3"/><rect x="875.92" y="644.52" width="1.5" height="1.3"/><rect x="888.78" y="644.52" width="1.5" height="1.3"/><rect x="901.63" y="644.52" width="1.5" height="1.3"/><rect x="914.49" y="644.52" width="1.5" height="1.3"/><rect x="927.35" y="644.52" width="1.5" height="1.3"/><rect x="940.21" y="644.52" width="1.5" height="1.3"/><rect x="953.06" y="644.52" width="1.5" height="1.3"/><rect x="965.92" y="644.52" width="1.5" height="1.3"/><rect x="978.78" y="644.52" width="1.5" height="1.3"/><rect x="991.63" y="644.52" width="1.5" height="1.3"/><rect x="1004.49" y="644.52" width="1.5" height="1.3"/><rect x="1017.35" y="644.52" width="1.5" height="1.3"/><rect x="1030.20" y="644.52" width="1.5" height="1.3"/><rect x="1043.06" y="644.52" width="1.5" height="1.3"/><rect x="1055.92" y="644.52" width="1.5" height="1.3"/><rect x="1068.78" y="644.52" width="1.5" height="1.3"/><rect x="1081.63" y="644.52" width="1.5" height="1.3"/><rect x="194.50" y="721.26" width="1.5" height="1.3"/><rect x="207.36" y="721.26" width="1.5" height="1.3"/><rect x="220.21" y="721.26" width="1.5" height="1.3"/><rect x="233.07" y="721.26" width="1.5" height="1.3"/><rect x="245.93" y="721.26" width="1.5" height="1.3"/><rect x="258.78" y="721.26" width="1.5" height="1.3"/><rect x="271.64" y="721.26" width="1.5" height="1.3"/><rect x="284.50" y="721.26" width="1.5" height="1.3"/><rect x="297.36" y="721.26" width="1.5" height="1.3"/><rect x="310.21" y="721.26" width="1.5" height="1.3"/><rect x="323.07" y="721.26" width="1.5" height="1.3"/><rect x="335.93" y="721.26" width="1.5" height="1.3"/><rect x="348.78" y="721.26" width="1.5" height="1.3"/><rect x="361.64" y="721.26" width="1.5" height="1.3"/><rect x="374.50" y="721.26" width="1.5" height="1.3"/><rect x="387.35" y="721.26" width="1.5" height="1.3"/><rect x="400.21" y="721.26" width="1.5" height="1.3"/><rect x="413.07" y="721.26" width="1.5" height="1.3"/><rect x="425.93" y="721.26" width="1.5" height="1.3"/><rect x="438.78" y="721.26" width="1.5" height="1.3"/><rect x="451.64" y="721.26" width="1.5" height="1.3"/><rect x="464.50" y="721.26" width="1.5" height="1.3"/><rect x="477.35" y="721.26" width="1.5" height="1.3"/><rect x="490.21" y="721.26" width="1.5" height="1.3"/><rect x="503.07" y="721.26" width="1.5" height="1.3"/><rect x="515.92" y="721.26" width="1.5" height="1.3"/><rect x="528.78" y="721.26" width="1.5" height="1.3"/><rect x="541.64" y="721.26" width="1.5" height="1.3"/><rect x="554.50" y="721.26" width="1.5" height="1.3"/><rect x="567.35" y="721.26" width="1.5" height="1.3"/><rect x="580.21" y="721.26" width="1.5" height="1.3"/><rect x="593.07" y="721.26" width="1.5" height="1.3"/><rect x="605.92" y="721.26" width="1.5" height="1.3"/><rect x="618.78" y="721.26" width="1.5" height="1.3"/><rect x="631.64" y="721.26" width="1.5" height="1.3"/><rect x="644.49" y="721.26" width="1.5" height="1.3"/><rect x="657.35" y="721.26" width="1.5" height="1.3"/><rect x="670.21" y="721.26" width="1.5" height="1.3"/><rect x="683.07" y="721.26" width="1.5" height="1.3"/><rect x="695.92" y="721.26" width="1.5" height="1.3"/><rect x="708.78" y="721.26" width="1.5" height="1.3"/><rect x="721.64" y="721.26" width="1.5" height="1.3"/><rect x="734.49" y="721.26" width="1.5" height="1.3"/><rect x="747.35" y="721.26" width="1.5" height="1.3"/><rect x="760.21" y="721.26" width="1.5" height="1.3"/><rect x="773.06" y="721.26" width="1.5" height="1.3"/><rect x="785.92" y="721.26" width="1.5" height="1.3"/><rect x="798.78" y="721.26" width="1.5" height="1.3"/><rect x="811.64" y="721.26" width="1.5" height="1.3"/><rect x="824.49" y="721.26" width="1.5" height="1.3"/><rect x="837.35" y="721.26" width="1.5" height="1.3"/><rect x="850.21" y="721.26" width="1.5" height="1.3"/><rect x="863.06" y="721.26" width="1.5" height="1.3"/><rect x="875.92" y="721.26" width="1.5" height="1.3"/><rect x="888.78" y="721.26" width="1.5" height="1.3"/><rect x="901.63" y="721.26" width="1.5" height="1.3"/><rect x="914.49" y="721.26" width="1.5" height="1.3"/><rect x="927.35" y="721.26" width="1.5" height="1.3"/><rect x="940.21" y="721.26" width="1.5" height="1.3"/><rect x="953.06" y="721.26" width="1.5" height="1.3"/><rect x="965.92" y="721.26" width="1.5" height="1.3"/><rect x="978.78" y="721.26" width="1.5" height="1.3"/><rect x="991.63" y="721.26" width="1.5" height="1.3"/><rect x="1004.49" y="721.26" width="1.5" height="1.3"/><rect x="1017.35" y="721.26" width="1.5" height="1.3"/><rect x="1030.20" y="721.26" width="1.5" height="1.3"/><rect x="1043.06" y="721.26" width="1.5" height="1.3"/><rect x="1055.92" y="721.26" width="1.5" height="1.3"/><rect x="1068.78" y="721.26" width="1.5" height="1.3"/><rect x="1081.63" y="721.26" width="1.5" height="1.3"/><rect x="194.50" y="798.00" width="1.5" height="1.3"/><rect x="207.36" y="798.00" width="1.5" height="1.3"/><rect x="220.21" y="798.00" width="1.5" height="1.3"/><rect x="233.07" y="798.00" width="1.5" height="1.3"/><rect x="245.93" y="798.00" width="1.5" height="1.3"/><rect x="258.78" y="798.00" width="1.5" height="1.3"/><rect x="271.64" y="798.00" width="1.5" height="1.3"/><rect x="284.50" y="798.00" width="1.5" height="1.3"/><rect x="297.36" y="798.00" width="1.5" height="1.3"/><rect x="310.21" y="798.00" width="1.5" height="1.3"/><rect x="323.07" y="798.00" width="1.5" height="1.3"/><rect x="335.93" y="798.00" width="1.5" height="1.3"/><rect x="348.78" y="798.00" width="1.5" height="1.3"/><rect x="361.64" y="798.00" width="1.5" height="1.3"/><rect x="374.50" y="798.00" width="1.5" height="1.3"/><rect x="387.35" y="798.00" width="1.5" height="1.3"/><rect x="400.21" y="798.00" width="1.5" height="1.3"/><rect x="413.07" y="798.00" width="1.5" height="1.3"/><rect x="425.93" y="798.00" width="1.5" height="1.3"/><rect x="438.78" y="798.00" width="1.5" height="1.3"/><rect x="451.64" y="798.00" width="1.5" height="1.3"/><rect x="464.50" y="798.00" width="1.5" height="1.3"/><rect x="477.35" y="798.00" width="1.5" height="1.3"/><rect x="490.21" y="798.00" width="1.5" height="1.3"/><rect x="503.07" y="798.00" width="1.5" height="1.3"/><rect x="515.92" y="798.00" width="1.5" height="1.3"/><rect x="528.78" y="798.00" width="1.5" height="1.3"/><rect x="541.64" y="798.00" width="1.5" height="1.3"/><rect x="554.50" y="798.00" width="1.5" height="1.3"/><rect x="567.35" y="798.00" width="1.5" height="1.3"/><rect x="580.21" y="798.00" width="1.5" height="1.3"/><rect x="593.07" y="798.00" width="1.5" height="1.3"/><rect x="605.92" y="798.00" width="1.5" height="1.3"/><rect x="618.78" y="798.00" width="1.5" height="1.3"/><rect x="631.64" y="798.00" width="1.5" height="1.3"/><rect x="644.49" y="798.00" width="1.5" height="1.3"/><rect x="657.35" y="798.00" width="1.5" height="1.3"/><rect x="670.21" y="798.00" width="1.5" height="1.3"/><rect x="683.07" y="798.00" width="1.5" height="1.3"/><rect x="695.92" y="798.00" width="1.5" height="1.3"/><rect x="708.78" y="798.00" width="1.5" height="1.3"/><rect x="721.64" y="798.00" width="1.5" height="1.3"/><rect x="734.49" y="798.00" width="1.5" height="1.3"/><rect x="747.35" y="798.00" width="1.5" height="1.3"/><rect x="760.21" y="798.00" width="1.5" height="1.3"/><rect x="773.06" y="798.00" width="1.5" height="1.3"/><rect x="785.92" y="798.00" width="1.5" height="1.3"/><rect x="798.78" y="798.00" width="1.5" height="1.3"/><rect x="811.64" y="798.00" width="1.5" height="1.3"/><rect x="824.49" y="798.00" width="1.5" height="1.3"/><rect x="837.35" y="798.00" width="1.5" height="1.3"/><rect x="850.21" y="798.00" width="1.5" height="1.3"/><rect x="863.06" y="798.00" width="1.5" height="1.3"/><rect x="875.92" y="798.00" width="1.5" height="1.3"/><rect x="888.78" y="798.00" width="1.5" height="1.3"/><rect x="901.63" y="798.00" width="1.5" height="1.3"/><rect x="914.49" y="798.00" width="1.5" height="1.3"/><rect x="927.35" y="798.00" width="1.5" height="1.3"/><rect x="940.21" y="798.00" width="1.5" height="1.3"/><rect x="953.06" y="798.00" width="1.5" height="1.3"/><rect x="965.92" y="798.00" width="1.5" height="1.3"/><rect x="978.78" y="798.00" width="1.5" height="1.3"/><rect x="991.63" y="798.00" width="1.5" height="1.3"/><rect x="1004.49" y="798.00" width="1.5" height="1.3"/><rect x="1017.35" y="798.00" width="1.5" height="1.3"/><rect x="1030.20" y="798.00" width="1.5" height="1.3"/><rect x="1043.06" y="798.00" width="1.5" height="1.3"/><rect x="1055.92" y="798.00" width="1.5" height="1.3"/><rect x="1068.78" y="798.00" width="1.5" height="1.3"/><rect x="1081.63" y="798.00" width="1.5" height="1.3"/></g><g stroke="#666666" fill="none"><path d="M220.82 489.0 v5.5 M220.82 802.0 v-5.2" stroke-width="1.45"/><path d="M243.58 489.0 v5.5 M243.58 802.0 v-5.2" stroke-width="1.45"/><path d="M259.74 489.0 v5.5 M259.74 802.0 v-5.2" stroke-width="1.45"/><path d="M272.27 489.0 v5.5 M272.27 802.0 v-5.2" stroke-width="1.45"/><path d="M282.50 489.0 v5.5 M282.50 802.0 v-5.2" stroke-width="1.45"/><path d="M291.16 489.0 v5.5 M291.16 802.0 v-5.2" stroke-width="1.45"/><path d="M298.66 489.0 v5.5 M298.66 802.0 v-5.2" stroke-width="1.45"/><path d="M305.27 489.0 v5.5 M305.27 802.0 v-5.2" stroke-width="1.45"/><path d="M311.19 489.0 v9.5 M311.19 802.0 v-9.2" stroke-width="1.85"/><path d="M350.10 489.0 v5.5 M350.10 802.0 v-5.2" stroke-width="1.45"/><path d="M372.87 489.0 v5.5 M372.87 802.0 v-5.2" stroke-width="1.45"/><path d="M389.02 489.0 v5.5 M389.02 802.0 v-5.2" stroke-width="1.45"/><path d="M401.55 489.0 v5.5 M401.55 802.0 v-5.2" stroke-width="1.45"/><path d="M411.79 489.0 v5.5 M411.79 802.0 v-5.2" stroke-width="1.45"/><path d="M420.44 489.0 v5.5 M420.44 802.0 v-5.2" stroke-width="1.45"/><path d="M427.94 489.0 v5.5 M427.94 802.0 v-5.2" stroke-width="1.45"/><path d="M434.56 489.0 v5.5 M434.56 802.0 v-5.2" stroke-width="1.45"/><path d="M440.47 489.0 v9.5 M440.47 802.0 v-9.2" stroke-width="1.85"/><path d="M479.39 489.0 v5.5 M479.39 802.0 v-5.2" stroke-width="1.45"/><path d="M502.16 489.0 v5.5 M502.16 802.0 v-5.2" stroke-width="1.45"/><path d="M518.31 489.0 v5.5 M518.31 802.0 v-5.2" stroke-width="1.45"/><path d="M530.84 489.0 v5.5 M530.84 802.0 v-5.2" stroke-width="1.45"/><path d="M541.08 489.0 v5.5 M541.08 802.0 v-5.2" stroke-width="1.45"/><path d="M549.73 489.0 v5.5 M549.73 802.0 v-5.2" stroke-width="1.45"/><path d="M557.23 489.0 v5.5 M557.23 802.0 v-5.2" stroke-width="1.45"/><path d="M563.84 489.0 v5.5 M563.84 802.0 v-5.2" stroke-width="1.45"/><path d="M569.76 489.0 v9.5 M569.76 802.0 v-9.2" stroke-width="1.85"/><path d="M608.68 489.0 v5.5 M608.68 802.0 v-5.2" stroke-width="1.45"/><path d="M631.44 489.0 v5.5 M631.44 802.0 v-5.2" stroke-width="1.45"/><path d="M647.59 489.0 v5.5 M647.59 802.0 v-5.2" stroke-width="1.45"/><path d="M660.12 489.0 v5.5 M660.12 802.0 v-5.2" stroke-width="1.45"/><path d="M670.36 489.0 v5.5 M670.36 802.0 v-5.2" stroke-width="1.45"/><path d="M679.02 489.0 v5.5 M679.02 802.0 v-5.2" stroke-width="1.45"/><path d="M686.51 489.0 v5.5 M686.51 802.0 v-5.2" stroke-width="1.45"/><path d="M693.13 489.0 v5.5 M693.13 802.0 v-5.2" stroke-width="1.45"/><path d="M699.04 489.0 v9.5 M699.04 802.0 v-9.2" stroke-width="1.85"/><path d="M737.96 489.0 v5.5 M737.96 802.0 v-5.2" stroke-width="1.45"/><path d="M760.73 489.0 v5.5 M760.73 802.0 v-5.2" stroke-width="1.45"/><path d="M776.88 489.0 v5.5 M776.88 802.0 v-5.2" stroke-width="1.45"/><path d="M789.41 489.0 v5.5 M789.41 802.0 v-5.2" stroke-width="1.45"/><path d="M799.65 489.0 v5.5 M799.65 802.0 v-5.2" stroke-width="1.45"/><path d="M808.30 489.0 v5.5 M808.30 802.0 v-5.2" stroke-width="1.45"/><path d="M815.80 489.0 v5.5 M815.80 802.0 v-5.2" stroke-width="1.45"/><path d="M822.41 489.0 v5.5 M822.41 802.0 v-5.2" stroke-width="1.45"/><path d="M828.33 489.0 v9.5 M828.33 802.0 v-9.2" stroke-width="1.85"/><path d="M867.25 489.0 v5.5 M867.25 802.0 v-5.2" stroke-width="1.45"/><path d="M890.01 489.0 v5.5 M890.01 802.0 v-5.2" stroke-width="1.45"/><path d="M906.17 489.0 v5.5 M906.17 802.0 v-5.2" stroke-width="1.45"/><path d="M918.70 489.0 v5.5 M918.70 802.0 v-5.2" stroke-width="1.45"/><path d="M928.93 489.0 v5.5 M928.93 802.0 v-5.2" stroke-width="1.45"/><path d="M937.59 489.0 v5.5 M937.59 802.0 v-5.2" stroke-width="1.45"/><path d="M945.09 489.0 v5.5 M945.09 802.0 v-5.2" stroke-width="1.45"/><path d="M951.70 489.0 v5.5 M951.70 802.0 v-5.2" stroke-width="1.45"/><path d="M957.61 489.0 v9.5 M957.61 802.0 v-9.2" stroke-width="1.85"/><path d="M996.53 489.0 v5.5 M996.53 802.0 v-5.2" stroke-width="1.45"/><path d="M1019.30 489.0 v5.5 M1019.30 802.0 v-5.2" stroke-width="1.45"/><path d="M1035.45 489.0 v5.5 M1035.45 802.0 v-5.2" stroke-width="1.45"/><path d="M1047.98 489.0 v5.5 M1047.98 802.0 v-5.2" stroke-width="1.45"/><path d="M1058.22 489.0 v5.5 M1058.22 802.0 v-5.2" stroke-width="1.45"/><path d="M1066.87 489.0 v5.5 M1066.87 802.0 v-5.2" stroke-width="1.45"/><path d="M1074.37 489.0 v5.5 M1074.37 802.0 v-5.2" stroke-width="1.45"/><path d="M1080.98 489.0 v5.5 M1080.98 802.0 v-5.2" stroke-width="1.45"/><path d="M182.0 491.70 h9.2 M1087.0 491.70 h-9.2" stroke-width="1.3"/><path d="M182.0 568.44 h9.2 M1087.0 568.44 h-9.2" stroke-width="1.3"/><path d="M182.0 645.17 h9.2 M1087.0 645.17 h-9.2" stroke-width="1.3"/><path d="M182.0 721.91 h9.2 M1087.0 721.91 h-9.2" stroke-width="1.3"/><path d="M182.0 798.65 h9.2 M1087.0 798.65 h-9.2" stroke-width="1.3"/></g><path d="M181.9 489 H1087.1 V801.9 H181.9 Z" fill="none" stroke="#666666" stroke-width="1.8"/><polyline points="182.00,493.23 183.29,493.25 184.59,493.27 185.88,493.29 187.17,493.32 188.46,493.34 189.76,493.36 191.05,493.39 192.34,493.41 193.64,493.44 194.93,493.47 196.22,493.49 197.51,493.52 198.81,493.55 200.10,493.58 201.39,493.61 202.69,493.64 203.98,493.67 205.27,493.70 206.56,493.74 207.86,493.77 209.15,493.80 210.44,493.84 211.74,493.88 213.03,493.91 214.32,493.95 215.61,493.99 216.91,494.03 218.20,494.07 219.49,494.11 220.79,494.16 222.08,494.20 223.37,494.25 224.66,494.29 225.96,494.34 227.25,494.39 228.54,494.44 229.84,494.49 231.13,494.54 232.42,494.59 233.71,494.65 235.01,494.70 236.30,494.76 237.59,494.82 238.89,494.88 240.18,494.94 241.47,495.00 242.76,495.07 244.06,495.13 245.35,495.20 246.64,495.27 247.94,495.34 249.23,495.41 250.52,495.48 251.81,495.56 253.11,495.64 254.40,495.72 255.69,495.80 256.99,495.88 258.28,495.96 259.57,496.05 260.86,496.14 262.16,496.23 263.45,496.33 264.74,496.42 266.04,496.52 267.33,496.62 268.62,496.72 269.91,496.83 271.21,496.93 272.50,497.04 273.79,497.16 275.09,497.27 276.38,497.39 277.67,497.51 278.96,497.63 280.26,497.76 281.55,497.89 282.84,498.02 284.14,498.15 285.43,498.29 286.72,498.43 288.01,498.58 289.31,498.73 290.60,498.88 291.89,499.03 293.19,499.19 294.48,499.36 295.77,499.52 297.06,499.69 298.36,499.87 299.65,500.05 300.94,500.23 302.24,500.41 303.53,500.61 304.82,500.80 306.11,501.00 307.41,501.21 308.70,501.41 309.99,501.63 311.29,501.85 312.58,502.07 313.87,502.30 315.16,502.54 316.46,502.78 317.75,503.02 319.04,503.27 320.34,503.53 321.63,503.79 322.92,504.06 324.21,504.33 325.51,504.61 326.80,504.90 328.09,505.19 329.39,505.49 330.68,505.80 331.97,506.12 333.26,506.44 334.56,506.76 335.85,507.10 337.14,507.44 338.44,507.79 339.73,508.15 341.02,508.52 342.31,508.89 343.61,509.27 344.90,509.67 346.19,510.07 347.49,510.47 348.78,510.89 350.07,511.32 351.36,511.75 352.66,512.20 353.95,512.65 355.24,513.11 356.54,513.59 357.83,514.07 359.12,514.57 360.41,515.07 361.71,515.58 363.00,516.11 364.29,516.65 365.59,517.19 366.88,517.75 368.17,518.32 369.46,518.90 370.76,519.49 372.05,520.10 373.34,520.71 374.64,521.34 375.93,521.98 377.22,522.63 378.51,523.30 379.81,523.97 381.10,524.66 382.39,525.37 383.69,526.08 384.98,526.81 386.27,527.55 387.56,528.30 388.86,529.07 390.15,529.85 391.44,530.64 392.74,531.44 394.03,532.26 395.32,533.09 396.61,533.94 397.91,534.79 399.20,535.66 400.49,536.54 401.79,537.44 403.08,538.34 404.37,539.26 405.66,540.20 406.96,541.14 408.25,542.09 409.54,543.06 410.84,544.04 412.13,545.03 413.42,546.03 414.71,547.04 416.01,548.06 417.30,549.09 418.59,550.13 419.89,551.17 421.18,552.23 422.47,553.30 423.76,554.37 425.06,555.45 426.35,556.54 427.64,557.63 428.94,558.73 430.23,559.83 431.52,560.94 432.81,562.05 434.11,563.17 435.40,564.29 436.69,565.41 437.99,566.53 439.28,567.66 440.57,568.79 441.86,569.91 443.16,571.04 444.45,572.16 445.74,573.28 447.04,574.40 448.33,575.52 449.62,576.63 450.91,577.74 452.21,578.85 453.50,579.95 454.79,581.04 456.09,582.13 457.38,583.21 458.67,584.28 459.96,585.35 461.26,586.41 462.55,587.46 463.84,588.50 465.14,589.53 466.43,590.55 467.72,591.57 469.01,592.57 470.31,593.56 471.60,594.54 472.89,595.51 474.19,596.47 475.48,597.41 476.77,598.35 478.06,599.27 479.36,600.18 480.65,601.08 481.94,601.96 483.24,602.84 484.53,603.70 485.82,604.55 487.11,605.38 488.41,606.20 489.70,607.01 490.99,607.81 492.29,608.59 493.58,609.36 494.87,610.12 496.16,610.87 497.46,611.60 498.75,612.32 500.04,613.03 501.34,613.72 502.63,614.41 503.92,615.08 505.21,615.73 506.51,616.38 507.80,617.01 509.09,617.64 510.39,618.25 511.68,618.85 512.97,619.44 514.26,620.01 515.56,620.58 516.85,621.13 518.14,621.68 519.44,622.21 520.73,622.74 522.02,623.25 523.31,623.75 524.61,624.25 525.90,624.73 527.19,625.20 528.49,625.67 529.78,626.12 531.07,626.57 532.36,627.00 533.66,627.43 534.95,627.85 536.24,628.26 537.54,628.67 538.83,629.06 540.12,629.45 541.41,629.83 542.71,630.20 544.00,630.56 545.29,630.92 546.59,631.27 547.88,631.61 549.17,631.95 550.46,632.28 551.76,632.60 553.05,632.92 554.34,633.23 555.64,633.53 556.93,633.83 558.22,634.12 559.51,634.41 560.81,634.69 562.10,634.97 563.39,635.24 564.69,635.50 565.98,635.76 567.27,636.02 568.56,636.27 569.86,636.51 571.15,636.76 572.44,636.99 573.74,637.23 575.03,637.45 576.32,637.68 577.61,637.90 578.91,638.12 580.20,638.33 581.49,638.54 582.79,638.75 584.08,638.95 585.37,639.15 586.66,639.34 587.96,639.54 589.25,639.73 590.54,639.91 591.84,640.10 593.13,640.28 594.42,640.46 595.71,640.64 597.01,640.81 598.30,640.98 599.59,641.15 600.89,641.32 602.18,641.49 603.47,641.65 604.76,641.81 606.06,641.97 607.35,642.13 608.64,642.29 609.94,642.44 611.23,642.60 612.52,642.75 613.81,642.90 615.11,643.05 616.40,643.20 617.69,643.34 618.99,643.49 620.28,643.64 621.57,643.78 622.86,643.93 624.16,644.07 625.45,644.21 626.74,644.35 628.04,644.50 629.33,644.64 630.62,644.78 631.91,644.92 633.21,645.06 634.50,645.20 635.79,645.34 637.09,645.48 638.38,645.62 639.67,645.76 640.96,645.90 642.26,646.05 643.55,646.19 644.84,646.33 646.14,646.47 647.43,646.62 648.72,646.76 650.01,646.91 651.31,647.06 652.60,647.20 653.89,647.35 655.19,647.50 656.48,647.65 657.77,647.80 659.06,647.96 660.36,648.11 661.65,648.27 662.94,648.43 664.24,648.59 665.53,648.75 666.82,648.91 668.11,649.08 669.41,649.25 670.70,649.42 671.99,649.59 673.29,649.76 674.58,649.94 675.87,650.12 677.16,650.30 678.46,650.49 679.75,650.67 681.04,650.86 682.34,651.06 683.63,651.25 684.92,651.45 686.21,651.65 687.51,651.86 688.80,652.07 690.09,652.28 691.39,652.50 692.68,652.72 693.97,652.95 695.26,653.17 696.56,653.41 697.85,653.64 699.14,653.89 700.44,654.13 701.73,654.38 703.02,654.64 704.31,654.90 705.61,655.16 706.90,655.43 708.19,655.71 709.49,655.99 710.78,656.28 712.07,656.57 713.36,656.87 714.66,657.17 715.95,657.48 717.24,657.80 718.54,658.12 719.83,658.45 721.12,658.79 722.41,659.13 723.71,659.48 725.00,659.84 726.29,660.20 727.59,660.57 728.88,660.95 730.17,661.34 731.46,661.73 732.76,662.14 734.05,662.55 735.34,662.97 736.64,663.40 737.93,663.83 739.22,664.28 740.51,664.73 741.81,665.20 743.10,665.67 744.39,666.15 745.69,666.65 746.98,667.15 748.27,667.66 749.56,668.19 750.86,668.72 752.15,669.27 753.44,669.82 754.74,670.39 756.03,670.96 757.32,671.55 758.61,672.15 759.91,672.76 761.20,673.39 762.49,674.02 763.79,674.67 765.08,675.32 766.37,675.99 767.66,676.68 768.96,677.37 770.25,678.08 771.54,678.80 772.84,679.53 774.13,680.28 775.42,681.04 776.71,681.81 778.01,682.59 779.30,683.39 780.59,684.20 781.89,685.02 783.18,685.85 784.47,686.70 785.76,687.56 787.06,688.44 788.35,689.32 789.64,690.22 790.94,691.13 792.23,692.05 793.52,692.99 794.81,693.93 796.11,694.89 797.40,695.86 798.69,696.84 799.99,697.83 801.28,698.83 802.57,699.85 803.86,700.87 805.16,701.90 806.45,702.94 807.74,703.99 809.04,705.05 810.33,706.12 811.62,707.19 812.91,708.27 814.21,709.36 815.50,710.45 816.79,711.55 818.09,712.66 819.38,713.77 820.67,714.88 821.96,716.00 823.26,717.12 824.55,718.24 825.84,719.36 827.14,720.49 828.43,721.61 829.72,722.74 831.01,723.87 832.31,724.99 833.60,726.11 834.89,727.23 836.19,728.35 837.48,729.46 838.77,730.57 840.06,731.67 841.36,732.77 842.65,733.86 843.94,734.95 845.24,736.03 846.53,737.10 847.82,738.17 849.11,739.23 850.41,740.27 851.70,741.31 852.99,742.34 854.29,743.36 855.58,744.37 856.87,745.37 858.16,746.36 859.46,747.34 860.75,748.31 862.04,749.26 863.34,750.20 864.63,751.14 865.92,752.06 867.21,752.96 868.51,753.86 869.80,754.74 871.09,755.61 872.39,756.46 873.68,757.31 874.97,758.14 876.26,758.96 877.56,759.76 878.85,760.55 880.14,761.33 881.44,762.10 882.73,762.85 884.02,763.59 885.31,764.32 886.61,765.03 887.90,765.74 889.19,766.43 890.49,767.10 891.78,767.77 893.07,768.42 894.36,769.06 895.66,769.69 896.95,770.30 898.24,770.91 899.54,771.50 900.83,772.08 902.12,772.65 903.41,773.21 904.71,773.75 906.00,774.29 907.29,774.82 908.59,775.33 909.88,775.83 911.17,776.33 912.46,776.81 913.76,777.29 915.05,777.75 916.34,778.20 917.64,778.65 918.93,779.08 920.22,779.51 921.51,779.93 922.81,780.33 924.10,780.73 925.39,781.13 926.69,781.51 927.98,781.88 929.27,782.25 930.56,782.61 931.86,782.96 933.15,783.30 934.44,783.64 935.74,783.96 937.03,784.28 938.32,784.60 939.61,784.91 940.91,785.21 942.20,785.50 943.49,785.79 944.79,786.07 946.08,786.34 947.37,786.61 948.66,786.87 949.96,787.13 951.25,787.38 952.54,787.62 953.84,787.86 955.13,788.10 956.42,788.33 957.71,788.55 959.01,788.77 960.30,788.99 961.59,789.19 962.89,789.40 964.18,789.60 965.47,789.79 966.76,789.99 968.06,790.17 969.35,790.35 970.64,790.53 971.94,790.71 973.23,790.88 974.52,791.04 975.81,791.21 977.11,791.37 978.40,791.52 979.69,791.67 980.99,791.82 982.28,791.97 983.57,792.11 984.86,792.25 986.16,792.38 987.45,792.51 988.74,792.64 990.04,792.77 991.33,792.89 992.62,793.01 993.91,793.13 995.21,793.24 996.50,793.36 997.79,793.47 999.09,793.57 1000.38,793.68 1001.67,793.78 1002.96,793.88 1004.26,793.98 1005.55,794.07 1006.84,794.17 1008.14,794.26 1009.43,794.35 1010.72,794.44 1012.01,794.52 1013.31,794.60 1014.60,794.68 1015.89,794.76 1017.19,794.84 1018.48,794.92 1019.77,794.99 1021.06,795.06 1022.36,795.13 1023.65,795.20 1024.94,795.27 1026.24,795.33 1027.53,795.40 1028.82,795.46 1030.11,795.52 1031.41,795.58 1032.70,795.64 1033.99,795.70 1035.29,795.75 1036.58,795.81 1037.87,795.86 1039.16,795.91 1040.46,795.96 1041.75,796.01 1043.04,796.06 1044.34,796.11 1045.63,796.15 1046.92,796.20 1048.21,796.24 1049.51,796.29 1050.80,796.33 1052.09,796.37 1053.39,796.41 1054.68,796.45 1055.97,796.49 1057.26,796.52 1058.56,796.56 1059.85,796.60 1061.14,796.63 1062.44,796.66 1063.73,796.70 1065.02,796.73 1066.31,796.76 1067.61,796.79 1068.90,796.82 1070.19,796.85 1071.49,796.88 1072.78,796.91 1074.07,796.93 1075.36,796.96 1076.66,796.99 1077.95,797.01 1079.24,797.04 1080.54,797.06 1081.83,797.08 1083.12,797.11 1084.41,797.13 1085.71,797.15 1087.00,797.17" fill="none" stroke="#0000ff" stroke-width="1.5" stroke-linejoin="round" stroke-linecap="square"/></svg><svg width="1200" height="901" viewBox="0 0 1200 901" style="position:absolute;left:0;top:0;display:block;will-change:transform"><g font-family="Liberation Sans, sans-serif" fill="#6a6a6a" text-rendering="geometricPrecision"><text transform="translate(161.13,118.85) scale(1,0.985)" font-size="22.3">0</text><rect x="136.00" y="230.45" width="11.9" height="1.7"/><text transform="translate(149.11,235.85) scale(1,0.985)" font-size="22.3">5</text><text transform="translate(164.03,235.85) scale(1,0.985)" font-size="22.3">0</text><rect x="123.10" y="348.45" width="11.9" height="1.7"/><path d="M763 0H583V1170Q518 1110 430 1060T223 965V1110Q380 1175 485 1275T644 1474H763Z" transform="translate(135.57,353.90) scale(0.01089,-0.01062)"/><text transform="translate(151.03,353.85) scale(1,0.985)" font-size="22.3">0</text><text transform="translate(165.13,353.85) scale(1,0.985)" font-size="22.3">0</text><rect x="123.10" y="466.45" width="11.9" height="1.7"/><path d="M763 0H583V1170Q518 1110 430 1060T223 965V1110Q380 1175 485 1275T644 1474H763Z" transform="translate(135.57,471.90) scale(0.01089,-0.01062)"/><text transform="translate(151.21,471.85) scale(1,0.985)" font-size="22.3">5</text><text transform="translate(165.13,471.85) scale(1,0.985)" font-size="22.3">0</text><text transform="translate(161.13,499.85) scale(1,0.985)" font-size="22.3">0</text><rect x="136.00" y="571.65" width="11.9" height="1.7"/><text transform="translate(148.69,577.05) scale(1,0.985)" font-size="22.3">4</text><text transform="translate(164.31,577.05) scale(1,0.985)" font-size="22.3">5</text><rect x="136.00" y="648.55" width="11.9" height="1.7"/><text transform="translate(148.85,653.95) scale(1,0.985)" font-size="22.3">9</text><text transform="translate(164.03,653.95) scale(1,0.985)" font-size="22.3">0</text><rect x="123.10" y="724.45" width="11.9" height="1.7"/><path d="M763 0H583V1170Q518 1110 430 1060T223 965V1110Q380 1175 485 1275T644 1474H763Z" transform="translate(135.57,729.90) scale(0.01089,-0.01062)"/><text transform="translate(149.95,729.85) scale(1,0.985)" font-size="22.3">3</text><text transform="translate(165.41,729.85) scale(1,0.985)" font-size="22.3">5</text><rect x="123.10" y="801.55" width="11.9" height="1.7"/><path d="M763 0H583V1170Q518 1110 430 1060T223 965V1110Q380 1175 485 1275T644 1474H763Z" transform="translate(135.57,807.00) scale(0.01089,-0.01062)"/><text transform="translate(150.13,806.95) scale(1,0.985)" font-size="22.3">8</text><text transform="translate(165.13,806.95) scale(1,0.985)" font-size="22.3">0</text><path d="M763 0H583V1170Q518 1110 430 1060T223 965V1110Q380 1175 485 1275T644 1474H763Z" transform="translate(163.57,841.80) scale(0.01089,-0.01062)"/><text transform="translate(179.13,841.75) scale(1,0.985)" font-size="22.3">0</text><path d="M763 0H583V1170Q518 1110 430 1060T223 965V1110Q380 1175 485 1275T644 1474H763Z" transform="translate(190.08,826.00) scale(0.00815,-0.00795)"/><path d="M763 0H583V1170Q518 1110 430 1060T223 965V1110Q380 1175 485 1275T644 1474H763Z" transform="translate(293.57,841.80) scale(0.01089,-0.01062)"/><text transform="translate(308.13,841.75) scale(1,0.985)" font-size="22.3">0</text><text transform="translate(318.46,825.95) scale(1,0.985)" font-size="16.7">2</text><path d="M763 0H583V1170Q518 1110 430 1060T223 965V1110Q380 1175 485 1275T644 1474H763Z" transform="translate(422.57,841.80) scale(0.01089,-0.01062)"/><text transform="translate(437.13,841.75) scale(1,0.985)" font-size="22.3">0</text><text transform="translate(447.86,825.95) scale(1,0.985)" font-size="16.7">3</text><path d="M763 0H583V1170Q518 1110 430 1060T223 965V1110Q380 1175 485 1275T644 1474H763Z" transform="translate(551.57,841.80) scale(0.01089,-0.01062)"/><text transform="translate(567.13,841.75) scale(1,0.985)" font-size="22.3">0</text><text transform="translate(578.12,825.95) scale(1,0.985)" font-size="16.7">4</text><path d="M763 0H583V1170Q518 1110 430 1060T223 965V1110Q380 1175 485 1275T644 1474H763Z" transform="translate(681.57,841.80) scale(0.01089,-0.01062)"/><text transform="translate(696.13,841.75) scale(1,0.985)" font-size="22.3">0</text><text transform="translate(706.53,825.95) scale(1,0.985)" font-size="16.7">5</text><path d="M763 0H583V1170Q518 1110 430 1060T223 965V1110Q380 1175 485 1275T644 1474H763Z" transform="translate(810.57,841.80) scale(0.01089,-0.01062)"/><text transform="translate(825.13,841.75) scale(1,0.985)" font-size="22.3">0</text><text transform="translate(835.85,825.95) scale(1,0.985)" font-size="16.7">6</text><path d="M763 0H583V1170Q518 1110 430 1060T223 965V1110Q380 1175 485 1275T644 1474H763Z" transform="translate(939.57,841.80) scale(0.01089,-0.01062)"/><text transform="translate(955.13,841.75) scale(1,0.985)" font-size="22.3">0</text><text transform="translate(965.14,825.95) scale(1,0.985)" font-size="16.7">7</text><path d="M763 0H583V1170Q518 1110 430 1060T223 965V1110Q380 1175 485 1275T644 1474H763Z" transform="translate(1069.57,841.80) scale(0.01089,-0.01062)"/><text transform="translate(1084.13,841.75) scale(1,0.985)" font-size="22.3">0</text><text transform="translate(1094.27,825.95) scale(1,0.985)" font-size="16.7">8</text></g><g font-family="Liberation Sans, sans-serif" fill="#000" text-rendering="geometricPrecision"><text transform="translate(550.26,65.75) scale(1,1.056)" font-size="22.7">B</text><text transform="translate(564.31,65.75) scale(1,0.975)" font-size="22.3">o</text><text transform="translate(579.31,65.75) scale(1,0.975)" font-size="22.3">d</text><text transform="translate(592.97,65.75) scale(1,0.975)" font-size="22.3">e</text><text transform="translate(613.29,65.75) scale(1,1.056)" font-size="22.7">D</text><text transform="translate(629.43,65.75) scale(1,0.975)" font-size="22.3">i</text><text transform="translate(635.97,65.75) scale(1,0.975)" font-size="22.3">a</text><text transform="translate(650.14,65.75) scale(1,0.975)" font-size="22.3">g</text><text transform="translate(664.77,65.75) scale(1,0.975)" font-size="22.3">r</text><text transform="translate(673.05,65.75) scale(1,0.975)" font-size="22.3">a</text><text transform="translate(687.52,65.75) scale(1,0.975)" font-size="22.3">m</text><text transform="translate(550.22,871.6) scale(1,1.056)" font-size="22.7">F</text><text transform="translate(564.60,871.6) scale(1,0.975)" font-size="22.3">r</text><text transform="translate(573.47,871.6) scale(1,0.975)" font-size="22.3">e</text><text transform="translate(587.21,871.6) scale(1,0.975)" font-size="22.3">q</text><text transform="translate(601.70,871.6) scale(1,0.975)" font-size="22.3">u</text><text transform="translate(616.40,871.6) scale(1,0.975)" font-size="22.3">e</text><text transform="translate(630.87,871.6) scale(1,0.975)" font-size="22.3">n</text><text transform="translate(643.40,871.6) scale(1,0.975)" font-size="22.3">c</text><text transform="translate(655.80,871.6) scale(1,0.975)" font-size="22.3">y</text><text transform="translate(673.64,871.6) scale(1,1.056)" font-size="22.7">(</text><text transform="translate(681.87,871.6) scale(1,0.975)" font-size="22.3">r</text><text transform="translate(690.60,871.6) scale(1,0.975)" font-size="22.3">a</text><text transform="translate(703.91,871.6) scale(1,0.975)" font-size="22.3">d</text><text transform="translate(718.65,871.6) scale(1,1.056)" font-size="22.7">/</text><text transform="translate(724.88,871.6) scale(1,0.975)" font-size="22.3">s</text><text transform="translate(737.32,871.6) scale(1,1.056)" font-size="22.7">)</text><text transform="translate(103.8,364.61) rotate(-90) scale(1,1.056)" font-size="22.7">M</text><text transform="translate(103.8,344.20) rotate(-90) scale(1,0.975)" font-size="22.3">a</text><text transform="translate(103.8,330.49) rotate(-90) scale(1,0.975)" font-size="22.3">g</text><text transform="translate(103.8,316.30) rotate(-90) scale(1,0.975)" font-size="22.3">n</text><text transform="translate(103.8,302.64) rotate(-90) scale(1,0.975)" font-size="22.3">i</text><text transform="translate(103.8,295.65) rotate(-90) scale(1,0.975)" font-size="22.3">t</text><text transform="translate(103.8,289.90) rotate(-90) scale(1,0.975)" font-size="22.3">u</text><text transform="translate(103.8,277.15) rotate(-90) scale(1,0.975)" font-size="22.3">d</text><text transform="translate(103.8,262.40) rotate(-90) scale(1,0.975)" font-size="22.3">e</text><text transform="translate(103.8,241.76) rotate(-90) scale(1,1.056)" font-size="22.7">(</text><text transform="translate(103.8,234.45) rotate(-90) scale(1,0.975)" font-size="22.3">d</text><text transform="translate(103.8,218.51) rotate(-90) scale(1,1.056)" font-size="22.7">B</text><text transform="translate(103.8,204.08) rotate(-90) scale(1,1.056)" font-size="22.7">)</text><text transform="translate(103.8,707.51) rotate(-90) scale(1,1.056)" font-size="22.7">P</text><text transform="translate(103.8,692.16) rotate(-90) scale(1,0.975)" font-size="22.3">h</text><text transform="translate(103.8,678.70) rotate(-90) scale(1,0.975)" font-size="22.3">a</text><text transform="translate(103.8,664.67) rotate(-90) scale(1,0.975)" font-size="22.3">s</text><text transform="translate(103.8,653.35) rotate(-90) scale(1,0.975)" font-size="22.3">e</text><text transform="translate(103.8,632.01) rotate(-90) scale(1,1.056)" font-size="22.7">(</text><text transform="translate(103.8,625.19) rotate(-90) scale(1,0.975)" font-size="22.3">d</text><text transform="translate(103.8,611.30) rotate(-90) scale(1,0.975)" font-size="22.3">e</text><text transform="translate(103.8,596.54) rotate(-90) scale(1,0.975)" font-size="22.3">g</text><text transform="translate(103.8,580.98) rotate(-90) scale(1,1.056)" font-size="22.7">)</text></g></svg>
</body></html>
